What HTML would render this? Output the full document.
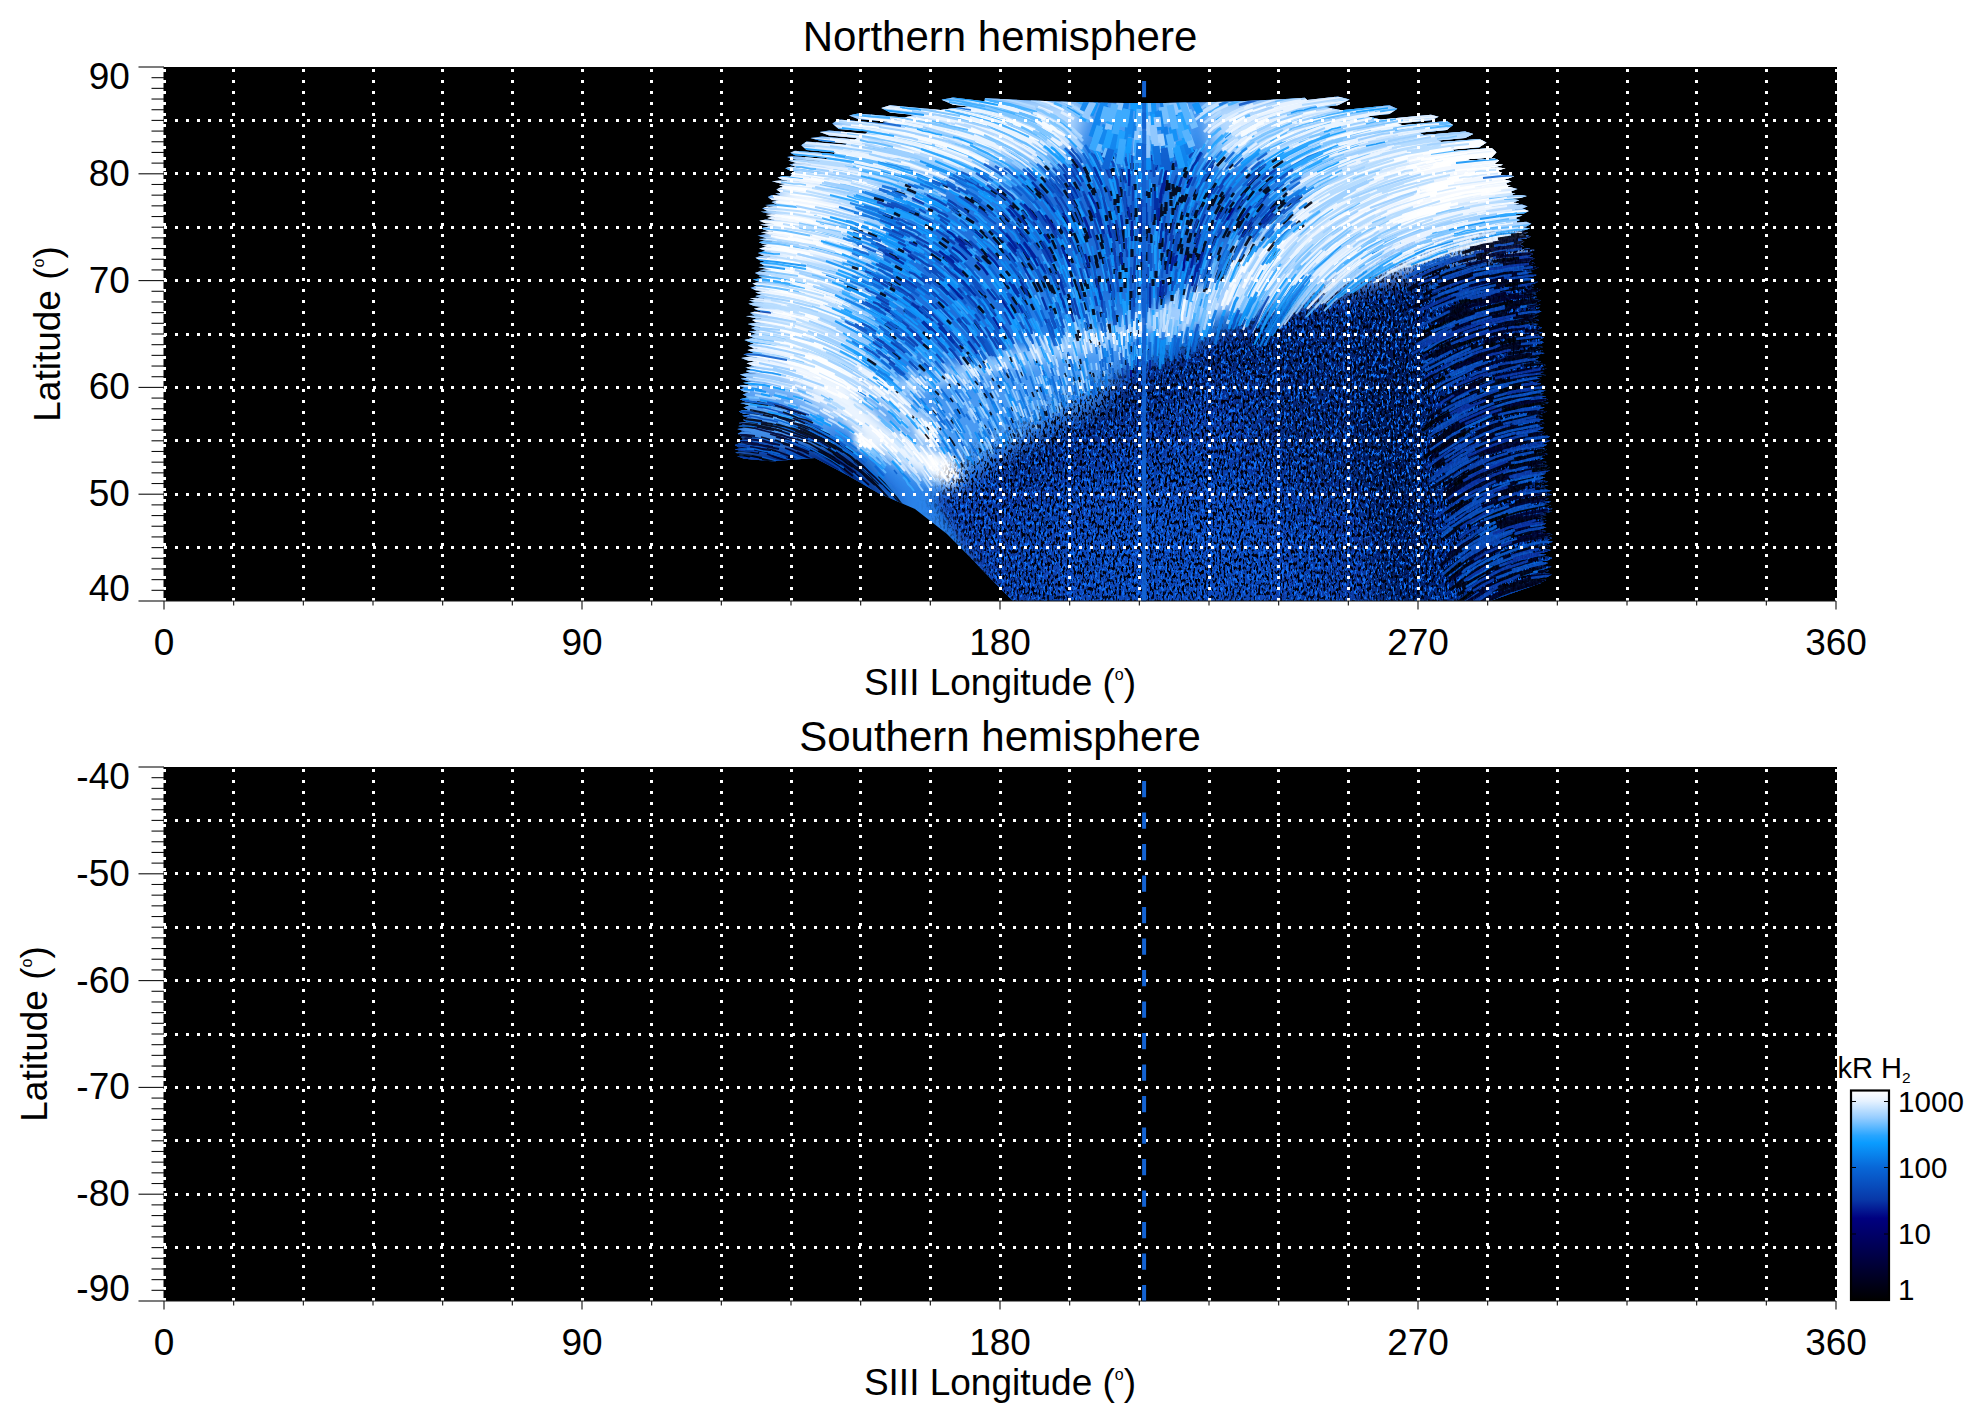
<!DOCTYPE html>
<html lang="en"><head><meta charset="utf-8"><title>Northern and Southern hemisphere</title>
<style>html,body{margin:0;padding:0;background:#fff}body{width:1983px;height:1423px;overflow:hidden}svg{display:block}</style>
</head><body>
<svg width="1983" height="1423" viewBox="0 0 1983 1423">
<defs>
<linearGradient id="cb" x1="0" y1="0" x2="0" y2="1"><stop offset="0" stop-color="#ffffff"/><stop offset="0.05" stop-color="#e6f2ff"/><stop offset="0.13" stop-color="#96cdff"/><stop offset="0.215" stop-color="#28a5ff"/><stop offset="0.25" stop-color="#0a9cff"/><stop offset="0.365" stop-color="#0868d8"/><stop offset="0.52" stop-color="#0838a8"/><stop offset="0.61" stop-color="#000080"/><stop offset="0.76" stop-color="#000050"/><stop offset="0.95" stop-color="#000010"/><stop offset="1" stop-color="#000000"/></linearGradient>
<clipPath id="ac"><polygon points="985.0,98.0 1005.0,99.2 1025.0,100.2 1045.0,101.1 1065.0,101.8 1085.0,102.3 1105.0,102.7 1125.0,102.9 1145.0,103.0 1165.0,102.9 1185.0,102.6 1205.0,102.2 1225.0,101.7 1245.0,100.9 1265.0,100.0 1285.0,99.0 1305.0,97.8 1311.0,104.0 1348.0,111.7 1400.0,124.2 1425.0,135.5 1445.4,143.5 1461.3,157.1 1498.7,170.8 1512.3,193.5 1516.8,220.7 1523.6,261.5 1527.0,307.0 1530.0,340.0 1534.0,400.0 1537.0,466.0 1538.5,557.0 1537.5,580.0 1541.0,583.0 1490.0,601.0 1013.0,601.0 992.0,580.0 970.0,557.0 947.0,534.0 915.0,509.0 879.0,493.5 847.0,475.0 815.0,458.0 775.0,461.0 741.5,453.0 750.5,453.0 751.0,432.0 754.0,398.0 758.0,341.0 763.0,307.0 770.0,261.0 774.0,221.0 781.0,189.0 795.0,170.0 829.0,158.0 847.0,143.5 865.0,134.0 879.0,124.0 922.0,113.0 951.0,108.5 984.0,105.0"/><path d="M1055.3,109.7L953.0,97.4L941.6,99.7L953.0,104.7L1055.3,117.0ZM995.3,115.4L890.0,105.2L881.3,108.0L890.0,112.5L995.3,122.7ZM962.9,122.8L858.0,113.4L849.0,115.4L858.0,119.0L962.9,128.4ZM948.8,129.3L838.8,119.5L832.3,123.6L838.8,128.9L948.8,138.8ZM931.8,139.7L829.2,130.5L819.7,132.1L829.2,135.5L931.8,144.7ZM921.5,145.2L822.1,136.6L810.4,138.0L822.1,141.3L921.5,149.9ZM914.6,150.7L806.5,141.4L801.3,145.3L806.5,150.0L914.6,159.3ZM904.2,159.9L794.9,150.8L790.4,152.7L794.9,155.3L904.2,164.4ZM825.9,159.1L791.3,156.1L787.1,157.0L791.3,158.7L825.9,161.6ZM824.7,161.9L796.4,159.5L788.2,160.5L796.4,162.9L824.7,165.3ZM823.2,165.6L795.7,163.2L789.2,164.4L795.7,166.8L823.2,169.2ZM821.5,169.4L790.6,166.7L785.2,168.2L790.6,170.7L821.5,173.4ZM819.5,173.7L798.6,171.8L790.4,173.6L798.6,176.8L819.5,178.7ZM815.6,178.9L782.8,176.0L777.6,177.6L782.8,180.1L815.6,183.0ZM812.4,183.2L779.7,180.4L771.9,181.2L779.7,183.3L812.4,186.1ZM810.1,186.3L784.9,184.1L779.0,185.2L784.9,187.3L810.1,189.5ZM807.6,189.7L780.4,187.4L776.4,189.5L780.4,192.3L807.6,194.5ZM805.3,194.8L781.4,192.8L775.1,193.6L781.4,195.4L805.3,197.4ZM804.7,197.7L772.0,195.0L767.7,197.1L772.0,199.9L804.7,202.6ZM803.6,202.9L776.8,200.7L771.5,202.1L776.8,204.5L803.6,206.8ZM802.7,207.1L773.7,204.6L764.9,205.0L773.7,206.9L802.7,209.3ZM802.1,209.6L767.3,206.6L762.1,208.3L767.3,210.9L802.1,213.9ZM801.1,214.1L768.5,211.3L760.5,211.8L768.5,213.6L801.1,216.4ZM800.6,216.7L771.8,214.2L765.6,215.0L771.8,216.8L800.6,219.2ZM800.0,219.5L771.9,217.1L767.2,218.0L771.9,219.6L800.0,222.1ZM799.4,222.3L765.4,219.4L759.3,220.8L765.4,223.3L799.4,226.2ZM798.7,226.5L769.1,223.9L760.2,224.5L769.1,226.6L798.7,229.2ZM798.5,229.5L768.8,226.8L760.3,228.3L768.8,231.2L798.5,233.9ZM798.0,234.2L769.2,231.6L760.9,232.2L769.2,234.2L798.0,236.8ZM797.7,237.1L766.4,234.2L757.5,235.4L766.4,238.2L797.7,241.0ZM797.3,241.3L766.5,238.5L758.6,239.1L766.5,241.1L797.3,243.9ZM797.0,244.2L763.1,241.1L758.8,242.2L763.1,244.1L797.0,247.2ZM796.7,247.5L767.2,244.7L761.9,245.4L767.2,247.0L796.7,249.7ZM796.4,250.0L765.3,247.1L759.1,248.4L765.3,250.9L796.4,253.8ZM796.0,254.1L764.8,251.1L757.9,252.9L764.8,256.0L796.0,259.0ZM795.5,259.3L760.2,255.9L755.4,257.7L760.2,260.5L795.5,263.9ZM795.0,264.2L764.8,261.2L759.5,263.1L764.8,265.9L795.0,268.9ZM794.3,269.2L766.8,266.5L758.1,266.9L766.8,269.0L794.3,271.7ZM793.8,272.0L767.8,269.4L759.4,269.9L767.8,272.0L793.8,274.6ZM793.4,274.8L759.4,271.5L754.9,272.9L759.4,275.3L793.4,278.6ZM792.8,278.9L763.7,276.0L758.5,276.6L763.7,278.1L792.8,281.0ZM792.4,281.3L760.9,278.2L752.8,279.4L760.9,282.3L792.4,285.4ZM791.8,285.6L757.2,282.2L752.4,283.6L757.2,286.0L791.8,289.4ZM791.1,289.7L755.6,286.2L750.4,287.7L755.6,290.3L791.1,293.8ZM790.5,294.1L762.3,291.3L755.3,292.4L762.3,295.0L790.5,297.7ZM789.9,298.0L760.2,295.1L755.2,296.0L760.2,297.9L789.9,300.8ZM789.4,301.1L756.1,297.8L749.9,298.2L756.1,299.9L789.4,303.1ZM789.1,303.4L754.8,300.0L748.9,300.5L754.8,302.2L789.1,305.5ZM788.7,305.8L754.1,302.4L748.3,303.7L754.1,306.1L788.7,309.5ZM788.1,309.7L761.2,307.1L753.9,308.8L761.2,311.8L788.1,314.4ZM787.4,314.6L754.7,311.5L750.0,313.1L754.7,315.6L787.4,318.7ZM786.7,318.9L754.3,315.8L745.8,316.1L754.3,317.9L786.7,321.1ZM786.4,321.3L756.2,318.4L752.1,320.1L756.2,322.5L786.4,325.4ZM785.7,325.6L755.3,322.7L747.7,324.0L755.3,326.6L785.7,329.5ZM785.1,329.8L755.5,327.0L751.1,328.0L755.5,329.9L785.1,332.7ZM784.7,332.9L757.0,330.4L748.5,331.4L757.0,334.0L784.7,336.6ZM784.1,336.8L755.6,334.2L747.7,335.5L755.6,338.4L784.1,341.0ZM783.4,341.2L751.8,338.3L744.4,340.0L751.8,343.1L783.4,346.0ZM782.9,346.2L753.9,343.6L747.8,345.4L753.9,348.3L782.9,350.9ZM782.5,351.2L754.2,348.6L747.4,350.1L754.2,353.0L782.5,355.5ZM782.2,355.8L750.3,352.9L743.4,354.2L750.3,356.7L782.2,359.7ZM781.9,359.9L748.4,356.8L741.2,358.1L748.4,360.7L781.9,363.8ZM781.6,364.0L754.2,361.5L746.6,363.3L754.2,366.5L781.6,369.0ZM781.2,369.2L752.0,366.5L745.1,367.5L752.0,369.7L781.2,372.4ZM781.0,372.7L750.1,369.8L745.7,371.1L750.1,373.1L781.0,376.0ZM780.7,376.2L746.9,373.1L739.9,374.6L746.9,377.4L780.7,380.5ZM780.4,380.7L748.1,377.8L740.6,378.8L748.1,381.2L780.4,384.2ZM780.2,384.4L751.7,381.8L743.1,382.7L751.7,385.3L780.2,387.9ZM779.9,388.2L744.4,384.9L738.9,385.8L744.4,387.7L779.9,390.9ZM779.7,391.2L744.6,387.9L739.7,389.5L744.6,392.0L779.7,395.2ZM779.4,395.4L748.9,392.6L742.6,394.4L748.9,397.4L779.4,400.2ZM779.0,400.4L747.2,397.5L739.9,399.2L747.2,402.2L779.0,405.1ZM778.6,405.3L748.2,402.5L740.2,403.1L748.2,405.1L778.6,407.9ZM778.4,408.1L749.3,405.5L743.4,407.4L749.3,410.3L778.4,412.9ZM777.9,413.1L743.4,410.0L738.7,411.5L743.4,413.8L777.9,416.9ZM777.6,417.1L750.5,414.7L742.2,415.7L750.5,418.2L777.6,420.6ZM777.3,420.8L748.2,418.2L742.8,419.8L748.2,422.4L777.3,424.9ZM776.9,425.2L743.9,422.3L738.6,423.1L743.9,424.8L776.9,427.7ZM776.6,427.9L745.2,425.2L738.1,425.9L745.2,427.8L776.6,430.5ZM776.4,430.8L745.3,428.1L737.1,429.1L745.3,431.6L776.4,434.2ZM776.0,434.5L742.1,431.6L737.7,433.7L742.1,436.5L776.0,439.4ZM775.9,439.7L745.0,437.0L740.8,437.7L745.0,439.1L775.9,441.8ZM775.8,442.0L743.9,439.3L738.4,440.9L743.9,443.4L775.8,446.2ZM775.7,446.4L739.5,443.3L734.8,445.1L739.5,447.7L775.7,450.8ZM775.6,451.1L742.8,448.2L734.7,449.2L742.8,451.6L775.6,454.4ZM775.5,454.7L739.4,451.5L735.2,452.5L739.4,454.3L775.5,457.4ZM775.5,457.7L744.3,454.9L737.2,456.2L744.3,458.8L775.5,461.6ZM1237.4,107.7L1337.9,96.6L1349.6,99.6L1337.9,105.2L1237.4,116.3ZM1281.5,116.7L1389.5,105.2L1397.3,108.8L1389.5,114.0L1281.5,125.4ZM1321.8,125.1L1431.0,114.8L1438.7,116.8L1431.0,120.3L1321.8,130.7ZM1337.1,131.4L1446.8,121.1L1453.0,125.0L1446.8,130.1L1337.1,140.3ZM1360.4,140.4L1465.1,131.4L1473.3,134.1L1465.1,138.1L1360.4,147.0ZM1374.1,147.4L1479.4,138.9L1486.5,142.5L1479.4,147.2L1374.1,155.7ZM1384.9,156.3L1491.7,148.0L1496.4,152.3L1491.7,157.4L1384.9,165.7ZM1466.3,160.8L1494.6,158.6L1499.2,160.6L1494.6,163.4L1466.3,165.6ZM1468.9,165.9L1494.5,163.8L1503.0,164.8L1494.5,167.2L1468.9,169.3ZM1470.7,169.5L1497.2,167.4L1505.6,168.3L1497.2,170.5L1470.7,172.7ZM1472.4,172.9L1495.8,171.0L1502.2,172.7L1495.8,175.4L1472.4,177.3ZM1475.1,177.5L1506.7,175.0L1514.3,176.3L1506.7,178.9L1475.1,181.5ZM1477.6,181.7L1504.0,179.6L1511.6,181.2L1504.0,184.0L1477.6,186.2ZM1480.4,186.4L1501.9,184.7L1510.8,185.3L1501.9,187.3L1480.4,189.0ZM1482.2,189.2L1509.5,187.1L1517.5,188.9L1509.5,192.0L1482.2,194.1ZM1485.3,194.3L1507.3,192.7L1515.5,193.5L1507.3,195.6L1485.3,197.3ZM1486.5,197.5L1520.7,195.0L1526.9,196.0L1520.7,198.0L1486.5,200.6ZM1487.1,200.8L1512.9,198.9L1519.3,200.2L1512.9,202.5L1487.1,204.5ZM1487.7,204.8L1515.1,202.7L1519.4,203.4L1515.1,204.8L1487.7,206.9ZM1488.1,207.1L1522.0,204.5L1527.7,206.3L1522.0,208.9L1488.1,211.5ZM1488.9,211.8L1524.0,209.1L1528.8,210.9L1524.0,213.4L1488.9,216.2ZM1489.7,216.5L1514.3,214.5L1522.5,215.6L1514.3,218.1L1489.7,220.0ZM1490.3,220.3L1513.6,218.4L1520.1,219.9L1513.6,222.5L1490.3,224.3ZM1491.0,224.6L1526.3,221.8L1531.4,223.8L1526.3,226.6L1491.0,229.5ZM1491.8,229.7L1522.5,227.3L1530.1,228.4L1522.5,230.8L1491.8,233.3ZM1492.5,233.6L1519.8,231.4L1528.0,232.6L1519.8,235.3L1492.5,237.5ZM1493.2,237.8L1525.3,235.1L1531.2,236.5L1525.3,238.8L1493.2,241.4ZM1493.8,241.7L1519.2,239.6L1524.3,241.5L1519.2,244.2L1493.8,246.2ZM1494.6,246.5L1517.5,244.6L1524.1,246.3L1517.5,249.2L1494.6,251.0ZM1495.4,251.3L1528.0,248.6L1534.7,249.9L1528.0,252.3L1495.4,255.0ZM1496.1,255.3L1529.1,252.5L1533.3,254.0L1529.1,256.1L1496.1,258.8ZM1496.7,259.0L1528.6,256.4L1534.6,258.4L1528.6,261.3L1496.7,263.9ZM1497.6,264.2L1528.6,261.6L1535.1,263.3L1528.6,266.0L1497.6,268.6ZM1497.9,268.9L1532.0,266.0L1538.7,267.5L1532.0,270.1L1497.9,272.9ZM1498.3,273.2L1524.0,271.1L1532.6,271.9L1524.0,274.3L1498.3,276.5ZM1498.5,276.7L1532.0,273.9L1536.7,274.9L1532.0,276.7L1498.5,279.5ZM1498.8,279.8L1525.8,277.5L1534.3,278.4L1525.8,280.8L1498.8,283.1ZM1499.0,283.4L1533.3,280.4L1538.3,281.7L1533.3,283.9L1499.0,286.8ZM1499.3,287.1L1529.3,284.5L1533.9,286.0L1529.3,288.3L1499.3,290.9ZM1499.6,291.2L1535.6,288.1L1540.5,289.8L1535.6,292.4L1499.6,295.6ZM1499.9,295.8L1530.9,293.1L1536.5,293.9L1530.9,295.8L1499.9,298.5ZM1500.2,298.8L1532.7,295.9L1537.2,297.0L1532.7,299.0L1500.2,301.8ZM1500.4,302.1L1534.3,299.1L1540.8,300.6L1534.3,303.3L1500.4,306.3ZM1500.7,306.6L1534.1,303.6L1540.7,304.4L1534.1,306.3L1500.7,309.3ZM1501.0,309.6L1533.7,306.6L1539.8,307.7L1533.7,309.9L1501.0,312.9ZM1501.3,313.2L1536.5,310.0L1541.5,311.3L1536.5,313.6L1501.3,316.7ZM1501.6,317.0L1531.9,314.3L1538.5,315.6L1531.9,318.2L1501.6,320.9ZM1502.0,321.1L1530.8,318.5L1539.1,320.1L1530.8,323.1L1502.0,325.7ZM1502.4,326.0L1530.5,323.4L1538.6,324.0L1530.5,326.1L1502.4,328.7ZM1502.7,328.9L1536.4,325.8L1542.0,327.7L1536.4,330.6L1502.7,333.6ZM1503.2,333.9L1534.0,331.1L1543.0,332.6L1534.0,335.8L1503.2,338.6ZM1503.6,338.9L1538.8,335.7L1544.0,337.5L1538.8,340.3L1503.6,343.5ZM1504.0,343.8L1539.2,340.6L1543.7,342.3L1539.2,344.8L1504.0,348.0ZM1504.3,348.2L1534.9,345.4L1542.9,347.0L1534.9,349.9L1504.3,352.7ZM1504.7,353.0L1535.9,350.1L1543.3,350.6L1535.9,352.5L1504.7,355.4ZM1504.8,355.6L1537.4,352.6L1544.8,353.0L1537.4,354.7L1504.8,357.7ZM1505.0,357.9L1534.7,355.2L1539.3,357.2L1534.7,359.9L1505.0,362.7ZM1505.3,362.9L1534.8,360.2L1541.3,361.4L1534.8,363.7L1505.3,366.4ZM1505.6,366.7L1541.3,363.4L1545.6,365.0L1541.3,367.5L1505.6,370.8ZM1505.9,371.0L1540.0,367.9L1546.7,368.4L1540.0,370.2L1505.9,373.3ZM1506.0,373.6L1538.7,370.6L1543.5,371.9L1538.7,374.1L1506.0,377.1ZM1506.3,377.4L1538.0,374.4L1546.2,375.0L1538.0,377.0L1506.3,379.9ZM1506.5,380.2L1536.6,377.4L1541.1,379.5L1536.6,382.4L1506.5,385.1ZM1506.8,385.4L1534.9,382.8L1541.2,383.3L1534.9,385.0L1506.8,387.6ZM1507.0,387.8L1539.8,384.8L1546.2,386.4L1539.8,389.1L1507.0,392.1ZM1507.3,392.4L1538.7,389.5L1545.7,390.6L1538.7,393.0L1507.3,395.9ZM1507.5,396.2L1535.7,393.6L1544.0,393.8L1535.7,395.6L1507.5,398.2ZM1507.7,398.5L1538.3,395.6L1546.0,396.2L1538.3,398.2L1507.7,401.0ZM1507.9,401.2L1543.1,398.0L1547.9,399.2L1543.1,401.2L1507.9,404.5ZM1508.1,404.7L1540.6,401.7L1549.0,402.7L1540.6,405.3L1508.1,408.2ZM1508.2,408.5L1536.3,405.9L1544.6,407.4L1536.3,410.3L1508.2,412.9ZM1508.5,413.2L1540.1,410.2L1547.1,411.5L1540.1,414.1L1508.5,417.1ZM1508.6,417.3L1534.8,414.9L1542.8,415.9L1534.8,418.4L1508.6,420.8ZM1508.8,421.1L1535.8,418.6L1543.6,419.2L1535.8,421.4L1508.8,423.9ZM1509.0,424.1L1538.5,421.4L1544.5,423.0L1538.5,425.7L1509.0,428.4ZM1509.2,428.7L1536.7,426.1L1544.2,427.8L1536.7,430.8L1509.2,433.4ZM1509.4,433.6L1539.3,430.9L1545.3,432.4L1539.3,435.2L1509.4,437.9ZM1509.6,438.2L1544.6,434.9L1550.3,436.5L1544.6,439.1L1509.6,442.4ZM1509.8,442.6L1545.0,439.3L1550.8,440.5L1545.0,442.7L1509.8,446.0ZM1510.0,446.3L1541.8,443.3L1547.0,444.8L1541.8,447.2L1510.0,450.2ZM1510.1,450.4L1541.2,447.5L1546.8,449.4L1541.2,452.4L1510.1,455.3ZM1510.4,455.5L1541.2,452.7L1547.8,454.0L1541.2,456.6L1510.4,459.5ZM1510.6,459.8L1537.4,457.3L1544.6,458.2L1537.4,460.4L1510.6,462.9ZM1510.7,463.2L1537.8,460.6L1546.7,461.9L1537.8,464.8L1510.7,467.3ZM1510.9,467.5L1540.3,464.8L1548.0,465.1L1540.3,466.9L1510.9,469.6ZM1511.0,469.8L1545.4,466.6L1549.7,467.6L1545.4,469.4L1511.0,472.6ZM1511.1,472.9L1545.4,469.7L1549.9,470.5L1545.4,472.2L1511.1,475.5ZM1511.1,475.7L1539.1,473.1L1545.9,473.8L1539.1,475.8L1511.1,478.5ZM1511.2,478.7L1538.6,476.2L1545.4,477.3L1538.6,479.7L1511.2,482.3ZM1511.2,482.5L1540.1,479.8L1548.1,481.5L1540.1,484.8L1511.2,487.5ZM1511.3,487.8L1540.7,485.0L1548.5,485.3L1540.7,487.2L1511.3,490.0ZM1511.3,490.3L1541.1,487.4L1545.9,488.0L1541.1,489.6L1511.3,492.4ZM1511.4,492.7L1545.1,489.4L1551.6,490.5L1545.1,492.8L1511.4,496.1ZM1511.4,496.4L1543.5,493.3L1552.2,494.3L1543.5,497.1L1511.4,500.2ZM1511.5,500.5L1542.3,497.5L1549.3,498.4L1542.3,500.7L1511.5,503.7ZM1511.6,504.0L1543.7,500.8L1551.0,501.7L1543.7,503.9L1511.6,507.1ZM1511.6,507.3L1543.5,504.2L1551.1,505.3L1543.5,507.9L1511.6,511.0ZM1511.7,511.3L1547.4,507.8L1552.6,508.7L1547.4,510.7L1511.7,514.2ZM1511.7,514.4L1544.2,511.2L1552.0,511.5L1544.2,513.4L1511.7,516.6ZM1511.8,516.8L1538.9,514.1L1546.6,515.0L1538.9,517.3L1511.8,520.0ZM1511.8,520.3L1537.2,517.7L1545.9,517.9L1537.2,519.9L1511.8,522.4ZM1511.9,522.7L1540.5,519.8L1546.7,520.3L1540.5,522.0L1511.9,524.9ZM1511.9,525.2L1540.9,522.3L1546.1,523.4L1540.9,525.7L1511.9,528.6ZM1512.0,528.9L1538.9,526.1L1546.5,527.2L1538.9,529.7L1512.0,532.4ZM1512.0,532.7L1538.1,530.1L1546.2,530.9L1538.1,533.5L1512.0,536.1ZM1512.1,536.4L1545.5,533.0L1552.6,534.2L1545.5,536.8L1512.1,540.2ZM1512.2,540.4L1547.9,536.8L1552.1,538.0L1547.9,540.2L1512.2,543.8ZM1512.2,544.1L1546.4,540.6L1552.7,541.7L1546.4,544.2L1512.2,547.6ZM1512.3,547.9L1545.3,544.5L1550.6,546.0L1545.3,548.5L1512.3,551.9ZM1512.4,552.2L1543.0,549.0L1550.9,550.1L1543.0,552.8L1512.4,555.9ZM1512.4,556.2L1537.7,553.6L1546.4,554.5L1537.7,557.2L1512.4,559.8ZM1512.5,560.0L1547.7,556.4L1552.2,558.0L1547.7,560.6L1512.5,564.2ZM1512.3,564.6L1541.0,561.5L1548.1,563.1L1541.0,566.2L1512.3,569.2ZM1512.1,569.6L1544.2,566.1L1551.6,566.8L1544.2,569.2L1512.1,572.7ZM1512.0,573.0L1542.1,569.7L1549.2,570.7L1542.1,573.3L1512.0,576.7ZM1511.8,577.0L1546.6,573.1L1551.8,574.6L1546.6,577.3L1511.8,581.2ZM1511.6,581.6L1537.9,578.6L1546.3,580.1L1537.9,583.5L1511.6,586.5Z"/></clipPath>
<clipPath id="pc"><rect x="164" y="67" width="1673" height="534"/></clipPath>
<filter id="b3" filterUnits="userSpaceOnUse" x="600" y="0" width="1100" height="720"><feGaussianBlur stdDeviation="3"/></filter>
<filter id="b6" filterUnits="userSpaceOnUse" x="600" y="0" width="1100" height="720"><feGaussianBlur stdDeviation="6"/></filter>
<filter id="b10" filterUnits="userSpaceOnUse" x="600" y="0" width="1100" height="720"><feGaussianBlur stdDeviation="10"/></filter>
<filter id="b16" filterUnits="userSpaceOnUse" x="600" y="0" width="1100" height="720"><feGaussianBlur stdDeviation="16"/></filter>
<filter id="b24" filterUnits="userSpaceOnUse" x="600" y="0" width="1100" height="720"><feGaussianBlur stdDeviation="24"/></filter>
<filter id="soft" filterUnits="userSpaceOnUse" x="700" y="60" width="900" height="560"><feGaussianBlur stdDeviation="0.7"/></filter>
<filter id="sp1" x="0" y="0" width="100%" height="100%" color-interpolation-filters="sRGB"><feTurbulence type="fractalNoise" baseFrequency="0.46 0.24" numOctaves="2" seed="3" result="n"/><feColorMatrix in="n" type="matrix" values="0 0 0 0 0  0 0 0 0 0  0 0 0 0 0.05  6.5 0 0 0 -3.2"/></filter>
<filter id="sp2" x="0" y="0" width="100%" height="100%" color-interpolation-filters="sRGB"><feTurbulence type="fractalNoise" baseFrequency="0.44 0.23" numOctaves="2" seed="11" result="n"/><feColorMatrix in="n" type="matrix" values="0 0 0 0 0.07  0 0 0 0 0.44  0 0 0 0 0.96  0 9 0 0 -4.7"/></filter>
<mask id="mlow" maskUnits="userSpaceOnUse" x="700" y="60" width="900" height="560"><polygon points="935.0,500.0 960.0,466.0 1014.0,434.0 1070.0,396.0 1152.0,364.0 1245.0,326.0 1335.0,290.0 1426.0,258.0 1500.0,237.0 1560.0,222.0 1560.0,610.0 1000.0,610.0" fill="#fff" filter="url(#b10)"/></mask>
</defs>
<rect x="0" y="0" width="1983" height="1423" fill="#fff"/>
<text x="1837.5" y="1077.8" font-family="'Liberation Sans', Arial, Helvetica, sans-serif" font-size="29" fill="#000">kR H<tspan font-size="15.5" dy="5.5">2</tspan></text>
<rect x="163.5" y="67.0" width="1673.5" height="534.0" fill="#000"/>
<rect x="163.5" y="767.0" width="1673.5" height="534.0" fill="#000"/>
<g clip-path="url(#pc)"><g clip-path="url(#ac)">
<rect x="730" y="90" width="830" height="515" fill="#2a84ea"/>
<polygon points="935.0,500.0 960.0,466.0 1014.0,434.0 1070.0,396.0 1152.0,364.0 1245.0,326.0 1335.0,290.0 1426.0,258.0 1500.0,237.0 1560.0,222.0 1560.0,610.0 1000.0,610.0" fill="#0a3aa6" filter="url(#b6)"/><polygon points="1365.0,295.0 1440.0,258.0 1560.0,225.0 1560.0,610.0 1400.0,610.0" fill="#052a8a" filter="url(#b10)"/><polygon points="1350.0,330.0 1415.0,300.0 1435.0,610.0 1375.0,610.0" fill="#021a64" opacity="0.8" filter="url(#b10)"/><ellipse cx="1170" cy="560" rx="130" ry="80" fill="#0f4cc0" opacity="0.85" filter="url(#b24)"/><polygon points="1230.0,345.0 1420.0,275.0 1450.0,420.0 1420.0,520.0 1280.0,480.0" fill="#021452" opacity="0.55" filter="url(#b24)"/><path d="M1000,470 C1080,415 1200,365 1340,320 S1480,275 1560,260" stroke="#031a66" stroke-width="46" fill="none" opacity="0.6" filter="url(#b16)"/><polygon points="730.0,420.0 790.0,425.0 850.0,455.0 900.0,510.0 730.0,510.0" fill="#04207a" filter="url(#b10)"/><polygon points="730.0,395.0 800.0,405.0 840.0,440.0 730.0,445.0" fill="#1e64d4" opacity="0.8" filter="url(#b10)"/><ellipse cx="1150" cy="230" rx="150" ry="75" fill="#1e6ad4" opacity="0.9" filter="url(#b16)"/><ellipse cx="960" cy="280" rx="75" ry="75" fill="#1c6cd8" opacity="0.8" filter="url(#b16)"/><polygon points="800.0,150.0 850.0,105.0 950.0,92.0 1090.0,98.0 1075.0,150.0 1000.0,168.0 900.0,183.0 830.0,215.0" fill="#b6daff" filter="url(#b10)"/><polygon points="1200.0,98.0 1350.0,90.0 1440.0,110.0 1500.0,140.0 1400.0,150.0 1300.0,155.0 1215.0,160.0" fill="#b6daff" filter="url(#b10)"/><polygon points="1090.0,100.0 1200.0,100.0 1190.0,150.0 1100.0,150.0" fill="#4c9cf4" filter="url(#b6)"/><polygon points="800.0,150.0 872.0,170.0 864.0,230.0 855.0,300.0 862.0,360.0 890.0,410.0 800.0,425.0 742.0,405.0 748.0,340.0 760.0,250.0 775.0,185.0" fill="#bcdcff" filter="url(#b10)"/><path d="M805,190 C790,260 790,330 815,380" stroke="#eef6ff" stroke-width="40" fill="none" stroke-linecap="round" filter="url(#b10)"/><polygon points="730.0,378.0 790.0,384.0 822.0,410.0 846.0,446.0 730.0,450.0" fill="#4c9af2" opacity="0.85" filter="url(#b10)"/><polygon points="850.0,380.0 950.0,392.0 1060.0,345.0 1135.0,328.0 1105.0,400.0 1010.0,450.0 950.0,492.0 900.0,470.0" fill="#4a9af2" filter="url(#b10)"/><polygon points="1290.0,160.0 1400.0,120.0 1520.0,140.0 1548.0,250.0 1450.0,264.0 1350.0,287.0 1290.0,302.0 1230.0,300.0 1290.0,240.0 1300.0,200.0" fill="#b4d8ff" filter="url(#b10)"/><ellipse cx="1425" cy="186" rx="108" ry="42" transform="rotate(-15 1425 186)" fill="#eef6ff" filter="url(#b10)"/><ellipse cx="1435" cy="180" rx="82" ry="25" transform="rotate(-15 1435 180)" fill="#ffffff" filter="url(#b6)"/><path d="M1400,190 C1340,215 1290,243 1240,272" stroke="#9ccdff" stroke-width="38" fill="none" stroke-linecap="round" filter="url(#b10)"/><path d="M1240,272 C1205,296 1175,312 1143,325 S1060,348 1025,357 S930,382 880,391" stroke="#a2d0ff" stroke-width="15" fill="none" stroke-linecap="round" filter="url(#b6)"/><path d="M1400,195 C1340,215 1290,241 1235,272" stroke="#e8f2ff" stroke-width="20" fill="none" stroke-linecap="round" filter="url(#b10)"/><path d="M1235,272 C1200,296 1170,312 1143,324 S1065,346 1030,355" stroke="#9ccdff" stroke-width="8" fill="none" stroke-linecap="round" filter="url(#b6)"/><path d="M1500,225 C1440,240 1350,258 1290,275 S1220,300 1180,320" stroke="#a8d2ff" stroke-width="24" fill="none" stroke-linecap="round" filter="url(#b6)"/><path d="M822,368 C840,400 868,432 903,451 S940,466 950,473" stroke="#ecf5ff" stroke-width="27" fill="none" stroke-linecap="round" filter="url(#b6)"/><path d="M866,374 C880,392 905,412 932,433" stroke="#e0efff" stroke-width="14" fill="none" stroke-linecap="round" filter="url(#b6)"/><ellipse cx="942" cy="468" rx="16" ry="8" transform="rotate(35 942 468)" fill="#fff" filter="url(#b3)"/><ellipse cx="926" cy="433" rx="12" ry="7" transform="rotate(35 926 433)" fill="#fff" filter="url(#b3)"/><ellipse cx="866" cy="444" rx="14" ry="7" transform="rotate(30 866 444)" fill="#fff" filter="url(#b3)"/>
<g mask="url(#mlow)"><rect x="900" y="230" width="660" height="375" filter="url(#sp2)"/><rect x="900" y="230" width="660" height="375" filter="url(#sp1)"/></g>
<g fill="none" stroke-linejoin="round" opacity="0.88" filter="url(#soft)"><path d="M1048,133l4,3l3,3l4,3l3,3M1038,107l15,6M1053,133l5,4l4,4l5,4l5,5M1038,100l7,2l6,2l7,3l6,3M1041,134l4,3l4,3l4,3l4,3M1042,127l13,8M1026,144l5,3l5,4l4,3l5,4M1029,138l5,3l4,3l5,4l5,3M1023,143l5,3l5,4l5,3l5,4M1047,136l13,10M1049,119l5,3l5,3l4,3l5,4M1235,136l12,-8M1195,310l1,-4l1,-5l1,-4l1,-5M1114,326l1,5l1,4l0,5l1,5M1228,300l2,-5l2,-6l2,-5l3,-5M1193,319l1,-5l1,-4l1,-4l1,-4M1207,110l6,-3l5,-3l6,-3l5,-2M1229,153l5,-4l5,-4l5,-4l5,-3M1208,325l2,-6l1,-6l2,-6l2,-6M1234,157l4,-3l4,-4l4,-3l4,-3M1223,286l3,-6l2,-6l2,-6l3,-5M1222,138l6,-4l5,-4l6,-4l6,-4M1222,288l1,-4l2,-4l2,-4l1,-4M1125,320l0,7l1,6l0,7l1,7M1164,332l1,-6l0,-5l1,-6l0,-5" stroke="#f2f8ff" stroke-width="2.8"/><path d="M778,199l25,3l25,5l25,6M1003,140l8,4l8,5l8,5l8,5M826,232l9,2l10,3l9,3l9,3M844,178l25,6l26,8l25,9M801,360l8,3l8,3l7,3l8,3M858,129l13,2l14,3l14,2M981,151l7,4l7,4l7,3l7,5M754,185l29,2l28,4l29,5M921,470l3,4l2,4l3,4l3,4M772,282l7,1l8,2l7,1l8,2M733,290l18,1l17,2l18,3M896,131l14,3l14,3l14,3M772,397l9,2M818,347l25,12l24,14l22,16M762,264l16,2l16,3l16,4M897,458l3,4l4,4l3,4l4,5M845,395l10,6M899,461l3,4l4,4l3,4l3,4M720,358l19,1l18,2l19,3M781,318l16,4l15,4l15,5M863,104l18,1l18,2l18,3M898,441l3,3l3,3l3,4l2,3M793,317l14,4l14,4l13,5M833,300l14,6l14,7l14,7M817,147l28,5l29,5l29,6M908,465l3,4l4,4l3,3l3,5M786,217l21,4l20,4l20,5M770,150l26,2l25,3l26,4M868,395l4,3l3,2l3,3l4,3M824,279l22,9l22,9l21,12M778,262l17,3l16,4l17,4M826,305l21,9l20,10l20,12M882,404l10,9M837,205l17,5l17,5l17,6M768,187l26,2l25,4l25,5M861,364l11,8l11,8l11,8M889,436l3,3l3,3l3,3l3,3M833,336l15,7l14,8l14,8M925,467l6,8M823,218l19,5l19,6l19,6M870,134l24,5l23,5l24,7M785,205l16,2l15,3l16,3M761,295l9,1l10,2l9,1l9,2M992,140l8,4l8,4l8,5l8,5M763,218l24,3l23,4l23,5M891,435l4,4l3,3l3,3l3,4M747,199l20,1l20,2l20,3M900,443l3,3l3,4l3,4l3,3M877,427l12,11M842,350l8,5l8,4l8,5l8,5M797,175l9,1l9,2l9,1l9,1M761,352l19,3l18,5l17,6M817,297l20,8l20,8l19,11M828,323l24,11l22,13l21,14M765,295l24,5l23,6l24,7M715,316l26,0l26,3l25,4M769,320l25,5l24,8l23,9M915,434l8,11M839,136l14,2l14,2l14,3M774,218l29,5l29,6l28,8M828,419l4,2l4,2l4,3l4,2M821,335l23,11l21,12l21,14M758,202l27,3l27,4l27,5M823,145l22,3l22,3l22,5M850,431l8,5M735,299l25,2l26,4l25,6M883,111l22,3l23,4l23,5M758,299l17,2l17,4l16,4M879,410l7,6M763,217l23,3l24,3l23,5M756,288l30,5l29,8l28,9M781,287l17,4l16,4l17,5M786,259l15,3l15,3l15,5M765,250l19,3l19,4l19,4M753,333l28,5l27,7l26,10M836,247l17,6l17,7l17,7M810,296l24,8l23,11l22,12M788,153l15,1l15,2l14,1M752,262l27,3l28,6l26,7M864,167l28,8l27,9l27,12M881,456l6,6M914,455l5,7M912,450l3,4l4,5l3,4l3,4M785,253l17,4l16,4l17,4M779,309l13,3l14,3l13,5M794,340l14,4l14,5l13,6M726,337l24,1l23,3l23,5M768,310l8,2l9,1l8,2l9,2M831,204l15,3l15,4l15,5M871,414l4,3l3,3l4,3l3,3M859,398l7,5M766,178l8,1l8,1l9,0l8,1M788,205l9,1l9,2l9,1l9,2M838,168l27,6l26,7l25,8M944,150l14,5l13,6l13,6M774,243l18,3l18,3l17,4M771,225l27,4l27,5l26,8M836,353l12,7l12,6l11,8M857,174l16,4l16,5l16,5M742,362l8,1l7,1l8,1l7,1M778,264l13,2l13,3l14,3M994,136l24,13l22,16l19,19M772,182l25,3l24,3l24,5M937,99l15,2l14,3l14,2M793,366l7,2l8,3l7,3l7,3M911,147l25,8l25,9l24,12M793,396l13,5M887,154l18,4l18,6l18,6M787,329l13,4l13,4l13,5M970,139l21,10l21,11l19,14M749,271l21,2l20,4l21,4M793,161l15,1l15,2l15,2M838,255l13,4l12,5l13,6M781,313l9,3l10,2l10,3l9,3M805,368l16,6l15,8l15,8M842,169l27,6l25,7l26,8M822,279l23,9l22,10l22,12M765,306l28,6l28,9l27,10M936,146l21,8l21,9l21,11M779,208l18,2l17,3l17,4M1275,177l19,-12l20,-10l21,-9M1363,125l26,-4l26,-4l26,-3M1448,207l22,-4l23,-4l23,-3M1320,145l22,-7l22,-5l21,-5M1376,173l16,-5l16,-4l16,-4M1291,122l24,-7l24,-5l25,-4M1267,177l13,-9l14,-8l14,-8M1328,296l10,-9l11,-9l10,-9M1333,185l19,-8l20,-8l20,-6M1287,148l8,-4l9,-3l8,-4l9,-3M1274,280l12,-15l12,-14l13,-13M1261,304l4,-7l5,-7l4,-7l4,-7M1285,309l8,-11l8,-11l9,-10M1249,305l3,-7l4,-7l4,-7l4,-6M1269,210l22,-19l24,-15l26,-13M1287,206l8,-6l8,-6l8,-5l8,-5M1274,163l27,-13l28,-11l28,-9M1291,302l13,-18l16,-16l16,-15M1315,291l10,-11l12,-10l12,-10M1373,283l17,-10l18,-10l18,-8M1428,152l8,-1l8,-1l9,-2l8,-1M1486,189l9,-1l9,-1l9,-1l9,-1M1453,251l26,-6l26,-5l27,-3M1376,236l23,-10l24,-9l24,-8M1397,169l14,-4l15,-3l14,-3M1298,147l14,-6l14,-5l15,-4M1286,312l8,-12l9,-11l9,-11M1327,304l22,-19l24,-18l25,-15M1256,186l19,-16l22,-13l22,-11M1233,133l19,-10l19,-8l21,-6M1376,276l23,-13l23,-10l25,-9M1468,193l13,-3l14,-1l14,-2M1399,258l9,-4l9,-4l9,-4l9,-3M1270,316l13,-21l16,-21l17,-19M1289,315l18,-23l20,-22l22,-19M1396,177l15,-4l14,-3l14,-3M1455,249l23,-5l23,-5l24,-3M1449,243l28,-7l28,-5l29,-3M1281,197l15,-11l17,-10l17,-9M1385,173l19,-5l19,-5l20,-3M1269,194l24,-17l26,-15l28,-11M1307,125l26,-6l25,-5l25,-4M1392,272l25,-11l25,-10l26,-8M1399,121l24,-3l24,-2l23,-2M1368,140l9,-2l10,-2l9,-2l10,-2M1391,208l22,-7l22,-6l23,-6M1300,109l18,-4l17,-3l18,-2M1307,166l16,-7l16,-6l16,-6M1379,235l9,-4l8,-4l9,-4l8,-3M1293,284l17,-19l20,-17l20,-16M1325,152l10,-3l9,-3l9,-3l9,-3M1278,318l15,-23l18,-21l19,-19M1480,179l19,-2l19,-2l19,-1M1288,179l12,-7l11,-6l13,-6M1278,170l25,-13l26,-11l27,-9M1383,225l8,-3l8,-4l9,-3l8,-3M1476,167l16,-1l15,-2l16,-1M1313,267l6,-5l5,-5l6,-5l6,-5M1321,304l21,-19l23,-18l24,-16M1251,169l23,-16l25,-12l26,-10M1440,145l23,-3l24,-2l24,-2M1389,135l19,-3l19,-3l20,-2M1475,223l16,-3l16,-2l16,-2M1259,144l27,-12l28,-10l29,-7M1305,277l18,-18l19,-15l20,-14M1435,211l24,-6l24,-4l25,-3M1409,267l7,-4l7,-2l7,-3l7,-3M1382,268l22,-11l23,-10l24,-8M1302,174l12,-6l13,-6l12,-5M1309,263l6,-5l7,-6l6,-5l6,-5M1430,211l26,-6l26,-5l27,-4M1343,220l8,-4l8,-4l8,-5l9,-4M1423,219l18,-5l19,-4l19,-4M1267,111l22,-6l23,-4l23,-4M1330,264l8,-6l8,-5l7,-6l8,-5M1434,147l10,-1l9,-1l10,-2l10,-1M1384,222l19,-7l20,-7l20,-6M1305,105l18,-3l17,-2l18,-3M1370,140l8,-1l9,-2l8,-2l9,-2M1315,288l16,-15l16,-14l17,-12M1325,273l6,-6l6,-5l7,-5l6,-5M1264,308l7,-12l7,-11l8,-11M1308,169l15,-7l14,-6l15,-6M1456,202l25,-4l25,-4l25,-2M1246,317l8,-16l8,-16l9,-15M1277,310l11,-17l12,-16l14,-15M1252,138l27,-12l29,-9l29,-7M852,343l4,2l4,2l4,2l3,2M1218,158l8,-8M1286,220l5,-4l5,-5l5,-4l5,-4M840,320l4,2l4,2l5,2l4,3M956,356l4,6l4,5l4,5l4,6M853,298l14,7M874,376l5,3l4,3l4,4l5,3M1078,329l3,10M1278,233l3,-3l3,-4l4,-3l3,-3M1290,174l6,-3l6,-3l5,-3l6,-4M852,342l6,3l6,4l6,3l5,4M1237,265l6,-12M900,177l7,2l7,3l6,2l7,2M855,358l4,2l4,3l3,2l4,3M1303,207l4,-3l4,-3l5,-3l4,-3M1293,217l4,-3l4,-4l5,-3l4,-3M1039,334l1,4l2,4l2,4l1,4M964,360l9,12M1247,170l4,-3l4,-4l5,-3l4,-4M856,272l14,6M932,364l4,5l4,5l4,4l4,5M1285,225l8,-8M1014,342l3,5l2,6l3,6l3,6M1276,243l4,-5l5,-4l4,-5l5,-5M852,252l6,2l5,2l6,3l5,2M1042,153l3,3l4,3l4,4l3,3M849,211l5,2l6,1l5,2l6,2M914,182l5,2l5,2l5,2l5,2M934,172l5,2l5,3l5,2l6,2M855,341l4,3l5,3l4,3l5,2M845,277l3,1l4,2l4,2l4,1M1006,351l6,12M1235,161l10,-8M970,167l13,7M846,307l4,2l5,3l5,2l5,2M884,188l15,5M857,348l13,8M881,188l6,2l6,2l6,2l6,2M1033,157l9,7M870,375l4,3l4,3l4,3l4,3M1296,226l3,-3l3,-3l3,-2l3,-3M922,177l13,6M1032,155l3,3l3,2l3,3l3,3M1044,335l1,4l2,5l2,4l1,4M848,351l5,3l6,3l5,3l5,4M1265,239l3,-4l2,-3l3,-3l3,-3M849,331l6,3l6,3l6,3l6,4M843,219l6,2l6,2l7,2l6,2M852,302l11,5M1105,313l1,5l1,6l1,5l0,6M1219,278l2,-4l1,-5l2,-4l2,-4M1033,153l4,3l4,4l4,3l4,3M1055,337l5,12M1301,227l8,-7" stroke="#cde6ff" stroke-width="2.0"/><path d="M813,319l22,9l21,10l20,12M730,226l28,1l28,3l28,5M833,215l8,2l8,2l9,3l8,2M938,465l3,4l2,4l3,5l2,4M836,399l13,8M777,322l8,2l9,2l8,2l8,2M906,459l3,3l2,4l3,3l3,4M750,184l25,2l24,2l25,4M813,251l8,2l8,2l8,3l8,2M815,235l23,7l23,7l22,9M888,130l9,2l10,2l9,2l10,2M852,426l11,8M874,114l17,2l16,3l17,3M940,152l19,7l18,8l17,10M817,134l17,2l17,2l17,2M814,251l9,2l8,3l9,2l8,3M731,267l27,2l27,4l26,5M963,128l15,5l14,5l13,6M1006,149l6,4l7,4l6,4l6,5M754,238l14,1l14,2l14,2M749,379l16,2l16,4l16,4M735,227l24,1l24,3l23,3M785,267l8,2l8,2l8,1l8,2M950,104l10,2l10,2l10,1l9,3M812,159l9,1l8,1l9,1l8,2M811,149l22,3l21,3l21,4M814,303l21,8l21,9l21,11M805,270l22,6l21,8l21,9M793,153l28,3l27,4l28,5M920,106l23,3l23,5l22,5M885,136l15,3l15,3l15,4M816,124l20,2l21,2l20,2M829,180l19,4l20,5l19,5M889,442l4,3l3,4l3,3l3,4M953,104l17,4l17,3l16,5M906,130l24,6l23,7l24,8M794,351l14,5l15,5l14,7M818,180l29,6l28,8l29,9M815,309l24,10l24,11l22,13M728,297l26,2l25,4l25,5M876,161l25,7l26,8l24,11M938,134l23,8l22,9l22,10M748,360l19,2l19,5l19,5M799,208l26,5l27,7l26,8M829,364l20,11l20,13l18,14M843,233l8,3l8,3l9,3l8,3M778,141l21,1l22,2l21,3M786,389l4,1l4,1l4,2l4,1M891,422l3,4l4,3l3,3l3,4M851,185l8,2l8,2l7,2l8,2M763,159l28,3l28,3l29,4M964,100l20,4l20,5l20,5M774,158l20,2l20,2l20,3M901,431l2,3l3,3l3,3l3,3M986,113l25,8l25,12l22,14M894,458l2,3l3,3l3,4l3,3M816,343l22,10l20,11l20,13M792,282l23,7l22,7l21,9M744,289l14,1l14,2l15,2M828,366l9,4l8,5l9,5l9,5M935,152l18,7l18,8l17,9M841,203l7,1l8,3l7,2l8,2M815,269l16,5l16,5l15,6M935,456l6,9M907,165l16,5l16,6l16,7M836,215l18,6l18,6l18,7M794,214l23,4l22,5l21,6M929,148l21,7l20,9l19,10M782,167l7,0l8,1l7,1l8,1M742,340l22,3l21,4l20,6M792,349l24,8l22,10l22,12M859,154l23,5l24,6l23,7M887,166l23,7l22,9l21,9M816,143l9,1l10,1l9,1l9,2M843,218l8,2l8,3l7,2l8,3M816,237l8,2l8,3l8,2l8,2M937,129l16,5l16,5l16,6M872,157l9,2l8,2l8,2l9,3M725,347l29,3l29,5l28,8M897,126l13,2l14,3l13,3M715,381l29,1l28,4l27,7M865,170l20,6l20,6l19,7M890,409l4,3l4,4l3,4l4,4M863,391l9,7M777,223l15,2l14,2l15,3M831,345l22,12l22,14l20,15M749,359l26,5l26,7l25,9M807,156l14,1l14,2l14,3M808,125l23,2l24,2l24,4M821,169l8,1l8,2l7,1l8,2M731,357l10,0l9,1l9,1l9,1M820,410l3,2l4,2l3,2l4,2M736,299l23,3l22,3l22,5M995,108l9,2l9,3l9,3l9,3M842,126l29,4l30,5l29,6M964,135l7,2l7,3l7,2l7,3M813,158l20,2l20,4l20,4M812,145l16,1l17,3l16,2M1002,106l8,2l8,2l8,3l9,3M856,395l5,3l4,3l4,3l5,3M824,166l8,2l9,1l8,2l9,1M858,396l8,6M845,385l11,7M743,349l21,3l21,4l21,6M734,292l23,1l22,3l22,5M834,187l23,6l22,6l23,8M805,157l25,3l23,4l24,5M727,353l22,2l22,3l22,5M788,364l20,7l19,8l19,9M831,263l16,6l15,6l15,6M1002,118l9,3l8,4l8,3l8,4M933,129l23,6l23,8l22,10M796,294l22,7l21,7l21,10M968,132l21,8l20,10l19,12M800,147l21,2l21,3l20,3M930,456l6,9M814,181l18,3l18,4l17,4M837,137l28,4l27,6l28,6M963,118l21,6l21,7l19,9M943,160l16,7l16,8l16,9M756,181l22,2l21,2l21,3M732,293l19,1l19,2l19,3M798,256l15,3l15,4l15,5M849,357l22,15l21,16l19,18M752,366l19,3l19,5l18,5M830,265l8,3l7,2l7,3l7,3M828,296l8,3l8,3l8,4l8,4M929,139l21,6l20,7l19,9M886,109l21,3l20,3l21,3M815,147l17,2l17,3l16,3M818,203l19,4l20,5l19,6M875,135l21,3l20,5l21,6M815,259l8,3l9,3l8,2l9,3M753,377l14,2l14,4l14,3M990,103l21,5l20,7l19,8M958,131l18,6l19,7l17,9M778,325l9,3l10,2l9,3l9,2M911,119l15,3l16,4l15,3M872,136l18,3l17,3l18,5M863,128l25,4l24,5l24,6M1426,138l20,-2l20,-3l19,-1M1432,208l21,-5l21,-4l21,-4M1358,204l8,-3l8,-4l8,-3l8,-3M1367,147l21,-5l22,-4l22,-4M1366,125l23,-3l22,-3l22,-3M1283,116l27,-6l26,-5l27,-4M1249,285l4,-7l3,-7l4,-7l5,-6M1401,175l19,-4l20,-4l19,-4M1268,298l9,-13l9,-12l10,-12M1326,179l12,-5l13,-6l13,-5M1323,213l8,-4l7,-5l8,-4l8,-4M1405,267l23,-9l23,-8l24,-7M1477,244l9,-1l9,-2l9,-1l9,-2M1302,116l7,-2l8,-2l7,-1l8,-2M1417,186l20,-5l19,-4l20,-3M1288,304l18,-22l19,-19l21,-18M1444,253l23,-6l23,-5l24,-4M1428,206l15,-3l15,-4l15,-3M1408,132l8,-1l7,-1l8,-1l8,-1M1361,133l9,-2l9,-2l9,-2l10,-1M1320,180l28,-11l28,-10l29,-8M1331,302l18,-16l19,-15l20,-13M1310,223l12,-8l13,-9l13,-7M1390,132l9,-1l9,-2l8,-1l9,-1M1358,259l22,-13l24,-12l24,-9M1431,196l27,-6l27,-4l28,-3M1299,121l15,-4l14,-4l15,-2M1322,119l10,-2l9,-2l10,-2l10,-1M1329,142l29,-8l28,-6l29,-5M1415,242l28,-9l28,-8l29,-5M1494,215l16,-2l16,-1l16,-1M1252,127l12,-6l12,-5l13,-4M1274,191l17,-12l19,-11l19,-10M1238,314l11,-23l12,-23l15,-22M1392,247l14,-6l15,-6l15,-6M1294,235l16,-13l17,-12l17,-11M1412,162l14,-3l14,-2l14,-2M1354,159l9,-3l8,-2l9,-3l9,-2M1317,133l16,-4l16,-4l16,-4M1388,140l18,-3l19,-3l18,-2M1351,198l26,-11l28,-9l28,-7M1243,330l9,-20l10,-20l11,-19M1298,273l6,-5l5,-6l5,-6l6,-5M1274,270l13,-16l14,-15l15,-14M1329,241l8,-5l7,-5l7,-5l7,-4M1305,301l12,-14l13,-13l13,-12M1393,172l14,-4l14,-3l14,-3M1411,248l21,-8l21,-6l21,-5M1341,145l25,-6l25,-5l25,-5M1320,271l16,-14l17,-13l18,-11M1350,189l13,-5l13,-5l13,-4M1242,162l10,-8l12,-8l12,-7M1409,163l27,-5l27,-4l27,-4M1222,149l24,-16l25,-13l27,-9M1397,219l23,-8l24,-7l23,-5M1308,308l14,-16l16,-15l16,-14M1363,264l25,-14l26,-12l27,-10M1349,281l8,-6l8,-6l8,-5l8,-6M1244,123l15,-7l17,-5l16,-5M1375,212l24,-9l24,-8l24,-6M1391,192l24,-7l24,-6l25,-5M1469,216l14,-2l14,-2l15,-2M1378,184l9,-3l9,-3l8,-2l9,-3M1449,163l29,-4l30,-2l29,-2M1231,114l23,-8l23,-7l25,-5M1439,199l26,-5l26,-4l26,-3M1377,272l18,-10l18,-8l19,-8M1266,147l25,-11l25,-9l27,-7M1347,270l21,-15l23,-12l23,-11M1390,139l8,-2l7,-1l8,-1l8,-2M1318,160l14,-6l14,-5l14,-4M1247,132l20,-9l19,-7l21,-6M1262,277l5,-8l5,-8l6,-7l6,-8M1351,282l22,-15l23,-13l24,-11M1307,231l20,-15l22,-13l23,-11M1281,270l9,-11l11,-12l10,-10M1349,136l14,-3l14,-3l15,-3M1328,181l21,-9l23,-8l22,-7M1351,196l27,-11l29,-9l29,-7M1305,285l14,-14l15,-14l16,-12M1324,203l13,-7l13,-7l14,-6M1318,159l16,-7l17,-5l17,-5M1379,136l20,-3l20,-4l21,-2M1393,262l21,-10l21,-8l21,-7M1415,262l8,-3l7,-3l7,-3l8,-2M1328,255l14,-11l14,-9l15,-9M1320,168l24,-9l24,-8l26,-7M1482,180l17,-1l16,-2l17,-1M1292,293l19,-22l21,-19l23,-18M1454,155l9,-1l10,-1l9,-1l9,-1M1327,281l11,-9l11,-9l11,-8M1297,190l7,-5l7,-4l7,-5l8,-4M1278,275l15,-19l18,-17l19,-16M1427,234l16,-4l15,-5l16,-3M1452,225l8,-2l9,-2l8,-2l9,-1M1459,169l8,-1l8,-1l8,-1l7,-1M1305,284l11,-11l12,-12l13,-10M1393,121l27,-4l26,-2l27,-2M1293,306l10,-13l11,-13l12,-12M1385,265l8,-4l8,-4l8,-4l8,-4M1266,113l14,-4l15,-4l15,-3M1428,240l26,-7l26,-6l26,-5M1497,218l9,-1l9,-1l9,0l9,-1M1392,124l19,-2l19,-3l19,-2M1325,240l21,-14l22,-12l23,-11M1343,245l12,-7l11,-7l12,-6M1259,323l10,-18l11,-18l13,-18M1342,137l8,-2l8,-2l8,-2l8,-2M1306,224l23,-15l25,-14l25,-11M1482,232l14,-2l14,-2l14,-1M1469,226l29,-5l30,-3l29,-1M1364,244l14,-7l14,-7l14,-6M1398,135l30,-4l30,-3l29,-3M1433,168l24,-4l24,-3l24,-3M1285,197l5,-3l5,-4l5,-4l5,-3M1256,271l3,-4l3,-4l3,-5l3,-4M1286,178l4,-3l3,-2l4,-2l4,-3M950,173l10,5M1299,199l10,-7M853,333l4,2l4,2l4,2l4,3M1218,285l6,-15M1298,189l4,-3l5,-3l4,-3l5,-2M1296,233l5,-4l5,-4l4,-4l5,-4M1126,311l1,6l0,6l1,7l0,6M855,231l4,2l4,1l4,2l4,1M849,340l11,6M853,298l12,6M892,185l12,3M1053,334l2,4l1,4l1,4l2,4M841,294l15,6M1232,269l3,-5l2,-5l3,-5l3,-5M1278,242l4,-5l5,-4l4,-5l4,-4M840,305l4,2l4,2l5,2l4,2M851,344l4,2l4,2l3,2l4,2M977,357l7,13M1293,230l10,-10M1093,327l2,13" stroke="#e6f2ff" stroke-width="2.0"/><path d="M842,414l13,8M998,128l9,4l9,4l9,5l8,4M817,246l17,5l16,6l17,6M842,357l17,10l16,11l16,13M838,145l21,3l21,4l21,5M857,443l13,10M870,425l3,3l4,3l4,4l3,3M760,278l20,3l20,4l19,5M751,355l10,2l9,2l9,1l9,2M951,105l29,6l28,8l27,11M767,337l15,3l14,3l14,4M886,426l3,2l3,3l3,3l2,3M755,237l27,3l27,5l27,6M737,257l25,2l25,3l24,5M975,125l13,4l13,5l12,6M920,446l3,3l2,3l3,4l2,3M756,330l25,5l24,6l24,8M746,325l24,3l23,5l23,6M862,121l29,4l28,5l29,7M859,117l27,4l28,5l27,5M909,136l27,7l27,10l26,11M753,344l17,3l17,4l17,4M941,471l6,10M757,229l21,2l21,4l21,4M891,446l6,6M793,205l25,4l25,6l24,7M891,453l8,9M917,137l23,6l23,8l22,9M777,260l8,1l7,1l8,2l7,1M894,454l7,8M838,414l9,6M961,137l8,3l8,3l8,3l8,4M776,202l8,1l9,1l8,1l9,2M802,204l15,3l16,4l16,3M781,201l26,4l26,5l25,6M769,275l22,4l22,6l22,6M796,283l20,6l19,6l18,7M880,106l29,4l30,4l29,6M756,281l24,3l23,5l23,6M850,394l3,2l4,3l3,2l4,3M804,359l26,11l24,13l23,15M783,183l20,2l20,3l20,4M905,440l8,10M797,292l14,4l15,5l14,5M792,179l8,1l8,1l8,1l8,1M795,339l15,5l15,6l14,6M734,318l30,4l29,5l28,8M790,372l20,7l20,9l19,10M780,300l27,7l27,9l26,11M819,357l7,4l7,3l8,4l7,3M951,468l6,9M800,280l20,6l20,7l20,8M990,116l26,10l24,13l22,16M781,374l19,5l18,7l18,9M885,444l8,8M793,219l23,5l23,5l22,7M855,419l8,5M762,357l19,4l19,5l19,7M809,354l16,7l16,7l15,9M795,247l9,2l10,2l9,3l10,2M830,391l12,7M767,259l29,5l27,7l27,8M815,366l19,9l18,10l17,12M787,353l14,4l13,5l14,5M746,265l15,2l14,2l15,2M939,452l2,3l3,4l2,3l2,4M859,160l20,5l21,5l20,7M801,293l27,9l26,11l24,12M812,244l17,5l18,5l17,6M850,140l22,3l21,5l21,5M994,116l9,3l8,3l9,4l9,3M860,149l21,4l20,5l20,6M809,172l27,5l26,5l26,7M900,108l26,4l25,5l26,6M880,444l3,3l4,3l3,3l3,3M764,306l28,5l28,8l26,11M874,386l11,9M782,226l14,2l14,3l14,3M843,382l13,7M769,291l14,2l14,3l13,4M774,238l22,4l21,4l21,6M971,128l22,9l21,10l20,12M830,145l15,2l15,2l15,3M792,357l9,2l9,4l9,3l8,3M752,337l19,3l19,4l19,5M747,245l21,2l21,3l21,4M771,327l24,5l22,7l23,9M866,150l19,4l18,5l19,5M874,119l20,2l20,4l20,4M858,441l8,6M744,213l26,2l26,4l25,4M781,230l24,4l24,5l24,7M908,439l4,5l3,4l3,4l4,4M788,237l23,5l22,5l23,7M879,429l3,4l4,3l3,3l4,4M874,445l9,8M777,206l7,1l8,1l8,1l7,1M814,349l7,2l7,4l7,3l7,3M733,344l20,2l20,3l19,4M799,194l20,3l19,4l20,4M779,201l19,2l18,4l19,3M767,292l13,2l13,3l14,3M896,437l10,10M752,213l23,2l22,3l22,4M929,127l16,4l15,4l14,5M753,337l14,2l13,3l14,3M873,133l24,4l24,6l24,6M955,129l25,9l25,11l23,14M881,129l19,4l19,4l19,5M811,267l13,4l13,4l13,5M789,245l20,5l20,5l19,6M936,111l9,2l9,2l9,2l8,2M936,155l8,3l8,3l8,4l8,3M805,257l19,5l17,5l18,7M963,113l24,7l24,8l23,11M751,221l20,1l20,3l20,3M743,259l19,2l19,3l20,3M789,373l20,8l20,8l19,10M782,291l24,6l24,8l23,9M922,456l3,4l3,4l2,3l3,4M913,451l10,12M947,100l26,4l25,6l25,7M810,292l9,3l8,2l8,3l8,3M841,132l19,2l18,3l19,4M900,434l7,8M918,109l28,5l27,6l27,7M752,221l29,3l29,4l28,6M947,117l16,4l16,4l16,5M833,154l15,2l15,3l15,3M778,224l27,5l27,6l26,8M781,312l20,6l20,6l20,7M855,433l9,7M791,334l10,2l9,4l10,3l9,3M780,245l17,3l17,3l17,5M835,405l5,3l4,2l4,3l4,3M792,361l25,9l25,12l23,14M756,266l9,1l10,2l9,1l10,2M931,457l6,10M786,147l23,2l23,3l23,3M906,117l23,4l24,5l23,7M779,333l15,4l14,4l13,5M890,159l19,5l19,7l19,7M764,207l16,1l15,2l15,2M925,138l15,4l14,5l15,5M798,357l27,11l25,13l24,15M955,125l16,5l16,6l16,6M809,370l17,8l17,8l15,10M759,170l26,2l26,3l26,3M923,121l16,3l15,4l16,5M760,244l17,2l16,3l17,3M805,365l9,3l8,4l8,4l9,4M772,185l16,2l17,2l17,2M791,294l14,3l13,4l14,4M925,146l25,9l25,11l23,13M780,306l13,3l13,3l12,4M803,178l21,4l20,3l21,5M773,196l27,4l26,4l25,6M759,189l22,2l21,2l22,4M992,114l26,10l25,13l23,17M785,212l18,3l18,4l18,4M857,131l15,2l15,3l15,2M940,151l18,7l18,8l17,9M754,302l13,2l14,2l13,3M926,434l9,13M768,315l9,1l8,2l9,2l8,2M811,363l24,12l23,13l23,16M767,297l8,1l7,2l7,1l8,1M754,304l22,3l21,4l22,6M771,236l27,5l27,6l27,8M806,348l13,5l13,5l13,6M766,218l14,1l14,2l13,2M797,233l23,5l23,6l22,8M732,246l27,2l27,3l27,5M928,153l14,4l14,6l13,6M772,177l15,1l15,2l15,2M789,173l9,1l8,1l9,1l9,2M755,220l28,3l27,5l28,6M916,118l8,2l8,1l8,2l7,2M771,270l25,5l25,6l24,8M780,263l26,5l25,8l25,8M783,335l21,7l21,7l20,9M925,107l15,3l15,2l15,4M928,128l8,2l8,2l8,3l8,2M817,215l18,4l18,6l18,5M774,198l21,2l20,3l20,4M972,121l16,5l16,6l16,6M798,313l25,9l24,10l24,13M795,219l17,3l16,3l16,4M792,335l16,5l16,6l15,6M766,238l14,2l13,2l14,2M845,384l5,2l4,3l5,3l5,3M784,226l21,4l21,4l21,6M924,451l3,3l2,4l3,3l2,4M791,304l24,7l23,9l23,10M822,321l7,3l7,3l7,3l7,3M785,337l22,6l21,8l20,10M770,346l28,8l28,10l26,13M780,344l18,5l17,6l16,6M883,140l25,6l24,7l24,8M758,223l23,3l23,4l24,4M818,382l4,2l4,2l5,2l4,2M830,318l8,4l8,4l8,4l8,4M807,364l8,3l7,3l7,4l7,3M781,182l20,3l19,2l20,4M820,341l12,5l13,6l12,6M782,228l18,3l19,4l18,4M923,433l4,5l3,4l3,4l3,5M828,175l27,6l27,7l27,8M755,324l21,3l20,5l20,6M775,200l19,2l19,3l18,4M855,161l15,4l16,4l15,4M946,112l26,6l26,8l25,10M746,230l24,2l25,3l24,5M976,115l22,7l21,9l21,10M773,358l13,3l13,4l13,4M851,125l22,2l21,4l21,4M752,365l20,3l20,5l19,6M777,209l28,5l29,5l28,8M878,133l20,4l20,5l20,5M777,302l20,5l20,6l20,7M774,187l25,3l25,4l25,5M733,363l25,2l25,5l24,7M857,436l4,3l3,2l3,3l4,3M791,202l17,3l18,3l17,4M765,215l18,2l18,2l18,4M795,343l19,7l18,7l17,9M771,286l17,3l17,4l17,5M747,368l25,4l24,6l23,9M863,442l12,10M748,227l24,2l24,4l24,4M925,470l6,9M743,311l16,2l16,2l16,3M871,442l3,3l4,4l3,3l4,3M794,205l23,4l23,5l22,6M812,272l19,6l19,7l18,8M762,344l23,5l24,7l22,9M790,194l8,1l8,1l8,1l8,1M811,178l15,3l15,3l15,3M867,157l9,2l10,3l9,2l10,2M799,227l17,4l18,4l17,5M999,134l8,4l9,5l8,4l8,5M780,348l24,7l24,9l23,12M985,100l24,6l25,8l23,11M790,343l15,4l14,5l14,6M859,433l4,4l4,3l4,3l4,4M872,430l4,3l4,4l4,3l4,4M813,241l9,2l10,3l9,3l10,3M841,367l19,11l18,13l17,15M753,361l23,4l23,6l22,8M754,286l19,3l20,4l19,4M871,115l26,3l25,4l24,6M747,290l26,3l25,5l25,7M901,145l22,7l23,7l21,9M773,312l15,3l15,3l14,5M760,175l30,3l29,4l29,5M1479,189l17,-2l16,-2l17,-1M1339,228l7,-5l8,-4l8,-5l8,-4M1333,221l16,-10l17,-8l17,-8M1247,135l18,-9l19,-7l19,-6M1410,229l7,-3l7,-3l8,-2l7,-2M1427,145l9,-1l9,-1l9,-1l9,-1M1286,161l25,-11l25,-9l26,-8M1406,130l26,-3l26,-3l26,-2M1362,224l20,-10l21,-8l22,-7M1333,196l28,-12l28,-10l28,-8M1379,187l19,-6l18,-5l18,-5M1308,118l15,-3l16,-3l15,-3M1301,304l19,-21l21,-19l22,-17M1372,243l17,-8l18,-8l18,-7M1356,207l19,-9l20,-7l21,-7M1348,202l25,-10l26,-9l26,-8M1431,167l22,-3l22,-3l22,-3M1319,171l7,-3l7,-3l7,-3l7,-3M1346,193l23,-10l23,-8l23,-6M1373,223l15,-6l15,-6l16,-6M1291,267l16,-16l17,-15l17,-13M1402,225l20,-7l20,-6l21,-5M1229,127l25,-11l27,-9l27,-7M1481,188l10,-1l9,-1l10,-1l9,-1M1259,150l8,-5l9,-5l9,-4l9,-4M1393,223l16,-6l16,-6l16,-5M1318,264l18,-14l20,-14l20,-12M1332,227l22,-13l22,-11l23,-9M1319,279l13,-12l14,-11l15,-10M1481,195l19,-2l19,-2l19,-1M1325,243l17,-12l19,-11l18,-10M1282,159l23,-11l24,-9l24,-7M1450,154l19,-2l19,-2l19,-2M1340,279l7,-5l6,-5l6,-5l7,-4M1333,201l14,-7l15,-7l15,-6M1352,215l15,-7l16,-7l17,-6M1401,150l28,-5l28,-3l28,-3M1355,174l17,-6l18,-5l18,-5M1267,146l15,-8l17,-7l16,-5M1386,220l21,-8l21,-7l22,-5M1288,230l15,-14l17,-12l17,-11M1453,248l28,-6l29,-5l28,-3M1369,149l16,-4l16,-3l17,-3M1241,132l12,-6l13,-6l12,-5M1398,132l27,-4l28,-3l27,-2M1457,180l14,-2l15,-2l15,-2M1372,166l20,-6l20,-5l21,-4M1432,167l18,-3l19,-3l18,-2M1385,125l9,-1l8,-2l8,-1l9,-1M1471,220l25,-3l25,-3l26,-2M1295,127l16,-5l16,-4l16,-3M1331,217l15,-8l16,-8l16,-8M1335,267l20,-14l22,-13l22,-12M1397,149l9,-2l9,-1l8,-2l9,-1M1455,225l15,-3l14,-3l14,-2M1421,189l28,-6l28,-4l29,-4M1428,254l8,-3l7,-2l7,-2l7,-2M1389,195l8,-2l8,-3l7,-2l8,-3M1490,215l16,-2l15,-2l16,-1M1365,242l27,-13l28,-11l28,-9M1412,216l15,-5l15,-4l16,-3M1429,222l9,-2l8,-3l9,-2l9,-2M1399,155l28,-6l29,-4l28,-3M1465,246l8,-2l8,-1l8,-2l8,-1M1305,272l10,-11l11,-10l11,-9M1251,287l14,-23l16,-22l19,-20M1336,183l18,-8l17,-6l18,-6M1426,138l27,-4l26,-2l27,-2M1450,214l9,-2l9,-2l9,-2l9,-1M1287,225l22,-18l23,-14l24,-13M1328,226l14,-9l15,-8l15,-8M1380,224l16,-7l16,-6l16,-5M1304,235l17,-13l19,-12l19,-11M1377,236l24,-10l25,-9l25,-8M1402,201l16,-5l15,-4l16,-4M1412,169l21,-4l21,-4l21,-3M1303,200l23,-13l23,-11l25,-10M1425,202l13,-3l14,-3l13,-3M1447,223l8,-2l8,-2l8,-2l8,-1M1422,147l28,-4l29,-3l29,-2M1417,169l8,-2l8,-2l9,-1l8,-2M1447,179l18,-3l18,-3l17,-2M1331,129l25,-6l25,-4l26,-4M1398,209l14,-5l15,-5l15,-4M1488,181l8,-1l8,-1l7,-1l8,0M1398,223l13,-5l14,-5l14,-4M1274,310l11,-16l12,-16l12,-14M1422,180l17,-4l18,-3l17,-3M1388,261l16,-8l17,-7l17,-7M1416,208l28,-7l28,-6l29,-5M1401,185l21,-6l22,-5l22,-4M1379,155l8,-2l7,-1l8,-2l7,-2M1449,178l16,-3l16,-2l16,-2M1268,303l5,-8l5,-7l5,-8l5,-7M1314,209l7,-5l7,-4l7,-4l7,-4M1452,214l13,-3l13,-2l14,-2M1363,247l13,-8l15,-7l14,-6M1440,195l20,-4l20,-3l21,-3M1319,212l7,-4l7,-4l6,-4l8,-4M1356,241l7,-4l7,-3l6,-4l7,-3M1448,159l21,-3l20,-2l20,-2M1282,148l18,-8l19,-7l20,-6M1428,185l27,-5l26,-4l27,-3M1387,198l8,-2l7,-3l7,-2l8,-3M1311,222l8,-6l8,-5l8,-5l8,-5M1423,259l22,-7l21,-6l23,-6M1404,219l18,-6l18,-5l18,-5M1407,208l18,-5l19,-5l18,-4M1327,232l11,-8l11,-7l12,-6M1434,220l19,-5l18,-4l19,-3M1408,200l23,-6l23,-5l24,-5M1344,181l7,-3l8,-3l8,-3l8,-3M1445,226l25,-6l24,-4l25,-3M1388,176l21,-5l22,-5l21,-4M1326,287l13,-11l13,-11l14,-10M1260,122l23,-8l24,-6l25,-5M1412,180l18,-4l19,-4l18,-3M1338,163l27,-9l27,-7l28,-6M1446,171l20,-3l21,-3l20,-2M1330,158l19,-6l19,-6l18,-5M1354,186l15,-6l15,-5l16,-5M1459,221l18,-4l19,-3l19,-2M1288,240l20,-18l23,-16l24,-14M1349,186l24,-9l25,-7l24,-7M1315,224l15,-11l17,-9l16,-9M1399,211l13,-4l14,-4l13,-4M1240,325l13,-27l14,-25l17,-24M1327,227l21,-13l21,-10l21,-10M1289,233l21,-17l21,-14l23,-13M1403,237l25,-9l27,-7l26,-6M1271,131l9,-4l10,-3l9,-3l9,-3M1473,244l22,-4l22,-3l22,-2M1369,197l20,-8l21,-6l21,-6M1364,215l18,-8l19,-7l19,-6M1286,251l16,-15l16,-14l18,-13M1345,274l6,-5l7,-5l6,-4l7,-5M1319,137l13,-4l13,-4l14,-3M1412,205l21,-6l21,-5l22,-4M1388,158l22,-4l21,-4l21,-4M1244,283l8,-14l8,-13l9,-13M1394,216l24,-8l25,-7l25,-5M1289,262l6,-6l6,-7l6,-6l7,-6M1246,319l10,-20l11,-20l13,-19M1430,147l17,-2l18,-2l17,-2M1367,226l18,-8l19,-8l19,-7M1361,149l27,-7l27,-5l27,-4M1396,169l13,-3l13,-3l13,-3M1428,156l22,-4l23,-2l22,-3M1416,251l23,-8l22,-7l23,-5M1303,201l15,-10l16,-8l16,-8M1326,255l14,-10l14,-9l14,-9M1333,186l8,-4l8,-3l8,-4l8,-3M1423,154l19,-3l19,-3l19,-2M1426,191l28,-5l27,-5l28,-3M1414,183l7,-2l8,-2l8,-2l8,-1M1306,107l16,-3l16,-3l16,-2M1368,193l17,-6l18,-6l17,-5M1447,160l25,-4l26,-2l25,-2M1252,275l12,-18l13,-17l14,-15M1398,258l28,-11l28,-9l28,-7M1386,224l15,-7l15,-5l16,-5M1405,216l15,-5l16,-4l15,-4M1335,251l15,-11l17,-10l17,-9M1415,173l22,-4l22,-4l22,-3M1487,240l19,-3l19,-2l19,-2M1328,251l14,-11l16,-10l15,-8M1253,111l15,-5l15,-4l16,-3M1333,230l16,-10l17,-9l17,-8M1269,287l14,-19l14,-18l17,-16M1449,190l9,-2l10,-2l9,-1l10,-2M1407,220l14,-5l15,-4l14,-4M1334,138l25,-6l24,-5l25,-4M1258,294l5,-8l5,-7l5,-8l5,-8M1353,251l17,-10l18,-9l18,-8M1257,123l14,-6l14,-4l15,-4M1356,178l13,-5l12,-4l13,-4M1264,127l17,-6l17,-6l18,-4M1368,216l26,-11l27,-8l27,-8M1409,161l14,-3l14,-2l14,-3M1340,276l16,-11l15,-11l17,-9M1425,202l19,-5l19,-4l19,-3M1299,123l23,-6l24,-5l24,-4M1297,227l22,-17l23,-14l24,-12M1450,189l28,-5l28,-3l28,-2M1351,151l7,-2l8,-2l7,-2l7,-2M1478,208l16,-3l16,-2l17,-1M1419,138l17,-3l16,-2l16,-1M1402,217l8,-2l8,-3l9,-3l8,-2M1257,276l9,-13l9,-13l11,-13M1349,139l13,-3l13,-3l13,-3M1470,202l13,-2l14,-2l14,-1M1477,190l10,-1l9,-1l9,-1l9,-1M1388,180l19,-6l19,-4l19,-4M1262,266l16,-21l19,-20l20,-17M1362,195l17,-7l18,-5l17,-6M1377,163l24,-6l25,-5l25,-4M1446,145l8,-1l8,0l7,-1l8,-1M1430,196l15,-3l15,-4l15,-2M1415,264l18,-7l18,-6l19,-6M1318,237l12,-9l12,-9l13,-7M1421,160l16,-2l15,-3l15,-2M1373,136l15,-3l15,-3l15,-2M1381,216l7,-3l7,-3l7,-2l8,-3M1450,143l8,-1l7,-1l8,-1l8,0M1251,280l8,-14l10,-13l10,-13M1458,222l24,-5l24,-3l24,-3M1464,193l19,-2l20,-3l19,-2M1414,199l16,-5l17,-4l17,-3M1460,171l16,-2l16,-2l16,-1M1353,215l22,-10l23,-9l24,-8M1416,148l19,-3l20,-2l20,-3M1355,166l14,-5l15,-4l14,-4M1260,300l4,-9l6,-8l5,-8l5,-8M1419,188l24,-6l24,-4l24,-3M1339,230l22,-12l24,-11l23,-9M1295,123l7,-2l8,-2l8,-3l7,-1M1271,126l8,-2l8,-3l7,-3l8,-2M1426,163l9,-2l10,-2l10,-1l10,-2M1389,213l14,-5l13,-5l14,-4M1482,187l9,-1l8,-1l9,-1l8,-1M1384,244l14,-7l14,-6l15,-5M1339,145l25,-7l26,-5l25,-5M1416,193l22,-6l22,-4l23,-4M1391,250l15,-7l16,-6l16,-6M1368,201l14,-5l15,-5l15,-5M1474,182l16,-2l16,-1l16,-2M1432,168l26,-4l26,-4l25,-2M1345,265l17,-12l19,-11l19,-10M1454,147l20,-2l20,-2l21,-1M1351,185l23,-8l24,-7l23,-7M1261,271l2,-4l3,-5l3,-4l4,-4M1265,256l3,-4l3,-3l2,-4l3,-3M1297,228l9,-7M865,373l5,4l5,4l5,3l5,4M1267,254l2,-4l3,-3l3,-4l3,-4M1239,272l3,-4l2,-5l2,-5l3,-4M1279,249l2,-4l3,-3l2,-3l3,-3M1266,263l8,-12M1252,256l7,-12M1274,250l6,-8M862,373l4,3l4,3l5,3l4,3M1244,261l2,-4l3,-5l3,-4l3,-5M1236,280l3,-5l3,-5l2,-6l3,-5M1230,282l1,-4l2,-4l2,-4l2,-4M1269,260l3,-4l4,-5l3,-4l4,-4M1266,249l4,-5l4,-5l4,-5l5,-4M1244,273l2,-5l3,-5l3,-5l2,-4M836,302l6,2l6,3l5,2l6,3M1229,272l6,-15M1261,258l4,-5l3,-4l3,-5l4,-4" stroke="#ffffff" stroke-width="2.0"/><path d="M1069,97l6,3l6,3l6,3l6,4M1058,120l5,3l4,4l5,3l4,4M1054,103l5,2l5,2l5,3l5,2M1044,119l4,2l4,2l3,2l4,2M1208,140l3,-4l4,-3l3,-3l3,-2M1146,345l1,-16M1180,324l1,-7l1,-7l2,-7l1,-8M1190,339l1,-6l1,-7l2,-7l1,-7M1239,138l3,-2l4,-2l4,-3l4,-2M1235,148l5,-3l4,-4l5,-3l5,-3M1234,297l2,-5l2,-4l2,-4l2,-5M1167,345l0,-4l1,-5l0,-4l0,-5M1128,337l0,5l0,5l1,5l0,6M1216,300l2,-4l1,-4l2,-5l2,-4M1151,357l1,-24M1187,317l1,-6l1,-6l1,-6l1,-6M1204,308l1,-5l1,-5l2,-5l1,-5M1214,146l3,-4l4,-3l4,-4l3,-3M1200,119l6,-4l6,-3l5,-4l6,-3M1227,105l4,-1l5,-2l4,-2l4,-1M1156,334l0,-16" stroke="#3bacff" stroke-width="2.8"/><path d="M848,294l8,4l8,4l8,4l8,4M899,468l2,4l3,3l3,3l3,4M839,443l12,8M835,435l7,4M878,472l6,6M841,317l17,8l16,10l16,10M838,442l4,3l4,2l3,3l4,3M784,422l14,5M790,417l12,4M1260,346l13,-25l15,-24l16,-22M1268,335l9,-16l10,-16l11,-15M944,263l9,8M1009,254l3,4l4,5l3,5l3,4M930,234l3,3l4,2l3,2l3,2M1175,192l1,-5l2,-5l1,-5l2,-5M1005,261l3,5l4,5l3,5l3,4M1125,184l1,11M1018,210l4,5l5,5l4,6l4,5M1079,234l2,6l2,6l2,7l2,6M1178,260l1,-6l1,-6l2,-6l1,-6M892,292l5,4l6,4l5,3l6,4M1069,235l2,4l2,5l1,5l2,4M1072,221l4,10M997,274l8,11M1096,165l3,6l2,5l2,6l2,5M1047,198l8,12M973,231l10,9M1161,182l1,-5l1,-5l1,-5l1,-6M938,246l5,4l5,3l5,4l5,4M993,251l3,4l3,4l4,4l3,4M1142,265l0,12M1137,240l0,14M1009,254l2,4l3,4l3,4l3,3M979,310l8,11M1156,268l-0,-13M1025,224l10,13M1102,191l2,5l1,5l2,5l1,5M950,305l7,7M1040,231l3,5l3,5l3,5l3,5M971,273l4,4l4,5l4,4l4,5M941,279l12,10M1076,194l7,13M1067,202l6,11M933,216l6,3l5,3l5,3l5,4M1026,230l6,9M1163,197l1,-6l2,-7l1,-6l1,-6M1193,244l2,-6l2,-6l1,-6l2,-6M1032,254l4,6l3,6l3,6l3,6M1121,246l0,4l1,4l0,4l1,4M943,246l9,7M1077,204l3,5l2,5l2,6l2,5M1083,272l1,5l1,5l1,4l2,5M1119,204l2,15M914,269l9,6M1118,268l1,6l1,6l0,6l1,7M956,258l4,4l5,3l4,4l4,4M967,273l8,8M947,249l12,9M1087,278l1,6l2,6l1,6l2,6M1185,219l3,-10M1196,258l2,-5l1,-5l2,-5l1,-5M1120,286l0,5l1,5l0,6l1,5M1034,201l4,4l3,4l2,4l3,4M910,247l10,5M920,304l12,10M917,320l10,9M1262,219l3,-3l3,-3l3,-4l3,-3M1092,246l3,14M986,254l4,5l4,5l5,5l4,5M1146,209l1,-20M932,326l8,8M959,235l5,3l5,4l4,4l5,4M940,317l3,3l3,3l4,4l3,3M1113,278l1,7l1,6l1,6l0,7M1146,299l-0,-12M1092,264l1,5l1,5l1,5l2,5M988,223l3,3l4,4l4,3l3,4M1081,187l5,10M1100,196l2,7l2,6l1,6l2,6M989,270l9,11M939,302l4,4l5,5l4,4l4,5M913,283l5,3l4,3l4,3l5,4M946,231l5,4l5,3l4,3l5,4M1208,260l2,-6l3,-6l2,-5l2,-6M1038,232l4,6l3,6l4,6l3,6M1145,245l0,-19M1040,261l6,13M1021,241l3,5l3,5l4,5l3,5M1006,298l3,5l3,4l2,5l3,4M1199,186l2,-4l2,-3l2,-4l2,-4M1182,290l1,-5l1,-4l1,-5l1,-4M1099,174l4,9M1038,216l3,3l3,4l2,4l3,4M1093,161l5,12M1181,223l3,-12M947,325l3,4l4,4l4,4l3,5M1171,295l1,-7l1,-7l0,-6l1,-7M1178,267l2,-12M1244,212l4,-5l3,-4l4,-4l4,-4M1161,240l2,-13M1018,255l3,4l3,5l3,5l3,4M1035,237l3,4l2,4l2,4l2,4M1021,226l7,9M1009,261l3,4l2,3l2,3l3,4M1154,217l0,-20M1145,294l0,-17M894,291l4,3l4,3l4,2l4,3M1113,210l1,6l1,6l1,6l1,6M942,271l4,4l5,4l4,4l5,4M1143,178l-0,11M975,314l9,12M998,286l3,3l2,3l2,4l3,3M942,228l6,3l6,5l5,4l6,4M925,246l4,3l4,3l4,3l4,3M913,246l14,8M1120,281l1,7l0,7l1,7l1,6M948,296l10,11M1045,202l3,5l3,5l3,4l3,5M1031,211l8,12M1198,276l2,-5l1,-5l1,-5l2,-5M1035,255l7,11M1203,246l4,-13M1071,270l3,7l2,6l2,7l2,6M1036,203l3,3l3,3l2,4l2,3M1137,164l-0,14M964,279l3,3l3,4l3,3l3,3M901,254l4,2l4,2l3,3l4,2M1044,195l6,8M1090,212l4,11M1011,278l3,5l2,4l3,4l3,4M1241,193l3,-4l4,-4l3,-4l4,-4M1106,256l3,14M993,325l3,4l2,4l2,4l3,4M1100,172l5,14M956,311l9,11M1014,270l3,6l4,6l3,5l3,6M1196,181l2,-4l3,-5l2,-4l3,-4M1099,204l4,14M1071,224l5,11M979,276l4,4l3,5l4,4l4,5M1135,264l0,18" stroke="#0985ee" stroke-width="2.0"/><path d="M872,114l8,1l8,1l8,1l7,1M964,108l14,4l14,3l14,4M841,142l23,4l22,4l23,5M957,113l22,6l23,7l21,9M835,156l28,5l27,7l27,8M718,283l29,1l29,4l29,5M746,346l9,1l9,2l9,1l10,2M851,188l28,9l28,10l27,12M881,420l3,3l3,3l4,3l3,3M908,436l6,7M820,223l23,6l22,8l22,8M860,140l8,2l8,1l9,2l8,2M833,259l26,11l26,12l24,14M721,350l28,2l28,4l27,7M913,146l25,8l24,9l23,11M902,109l28,5l29,5l28,8M878,465l8,8M910,145l9,3l8,2l8,3l8,2M797,390l15,5M799,151l16,1l16,2l15,2M955,98l29,5l29,7l28,10M855,105l29,3l29,3l29,5M810,126l23,2l22,3l23,3M821,153l22,3l21,4l21,4M981,115l13,4l14,5l13,5M733,227l26,1l27,3l26,5M961,132l9,3l8,3l8,3l8,4M964,102l25,5l24,7l24,9M845,165l28,6l27,8l27,9M859,158l18,4l17,4l17,5M841,318l18,9l17,10l16,11M775,409l15,5M843,276l23,10l22,12l21,14M932,121l9,2l9,3l9,2l9,2M869,106l27,3l26,4l27,4M888,451l3,3l4,4l3,3l3,4M837,243l27,11l27,12l25,14M878,416l4,3l3,3l4,3l3,3M798,419l8,3M852,279l13,6l14,7l13,8M829,270l23,9l23,11l22,12M719,240l30,1l30,3l30,5M848,262l16,7l16,7l16,9M854,163l25,6l25,8l25,8M730,340l16,1l16,2l16,2M876,159l9,2l8,3l8,2l9,2M890,409l3,3l3,3l3,3l3,2M997,141l7,4l8,4l7,5l7,4M880,459l6,7M809,348l27,12l25,14l24,16M979,103l22,5l22,7l21,8M864,170l14,3l15,4l13,4M861,130l27,5l28,6l27,7M897,125l8,1l8,2l8,1l8,2M833,170l25,5l25,6l25,8M872,448l10,10M977,149l9,4l9,5l8,4l8,5M835,307l24,12l23,13l22,16M845,201l14,4l13,4l13,4M732,369l24,2l23,4l23,6M851,347l17,10l16,12l16,13M811,288l23,8l23,9l22,12M988,100l25,6l24,9l24,11M743,405l5,0l5,1l4,1l5,0M810,228l22,6l23,7l21,8M938,131l26,8l26,10l24,13M836,228l24,8l24,9l22,11M987,126l22,9l21,11l19,14M815,336l21,9l20,10l19,12M1282,312l16,-22l17,-20l20,-18M1321,160l28,-10l29,-8l29,-6M1308,274l17,-15l17,-14l19,-13M1328,122l14,-3l13,-3l14,-2M1336,272l6,-5l7,-5l7,-5l7,-5M1449,226l24,-5l24,-4l24,-3M1454,236l13,-3l14,-3l14,-2M1438,234l23,-6l24,-5l24,-4M1294,312l17,-21l19,-20l20,-17M1489,199l22,-2l22,-2l22,-1M1380,272l26,-13l26,-11l28,-9M1381,131l28,-5l29,-3l28,-3M1306,317l16,-17l16,-17l18,-15M1287,212l17,-13l18,-12l18,-10M1325,280l6,-6l6,-5l5,-5l7,-5M1326,292l18,-16l19,-14l20,-13M1297,270l6,-6l5,-6l6,-5l6,-6M1313,301l22,-21l23,-19l25,-16M1234,167l17,-14l17,-11l19,-10M1286,143l15,-6l16,-6l16,-5M1395,131l20,-3l20,-3l20,-2M1362,281l23,-14l24,-13l25,-10M1363,273l26,-15l27,-13l28,-10M1280,325l9,-13l9,-13l10,-13M1315,307l18,-19l21,-17l22,-16M1250,142l17,-9l17,-7l18,-7M1313,133l20,-6l21,-4l20,-5M1275,102l13,-2l13,-3l13,-2M1430,234l14,-4l15,-4l14,-3M1319,128l15,-4l15,-3l15,-3M1316,172l22,-9l22,-8l22,-6M1330,142l13,-3l13,-4l14,-3M1504,199l8,0l8,-1l8,-1l7,0M1492,229l10,-1l9,-1l9,-1l9,-1M1253,318l13,-23l13,-22l16,-20M1278,134l25,-9l25,-7l25,-5M1299,143l19,-6l18,-6l19,-5M1266,176l23,-15l26,-12l26,-10M1267,150l8,-4l7,-4l7,-3l8,-4M1289,180l12,-8l12,-6l13,-7M1355,251l7,-4l7,-4l8,-4l7,-4M1335,129l27,-5l27,-5l27,-4M1262,293l4,-8l5,-7l5,-8l6,-7M1329,127l20,-5l21,-4l21,-3M1505,199l8,-1l8,-1l8,0l9,-1M1321,121l18,-4l17,-4l18,-3M1367,252l7,-4l8,-4l7,-4l8,-4M1255,155l26,-14l28,-11l28,-9M1247,326l4,-9l5,-9l4,-9l5,-8M1441,248l7,-2l8,-2l7,-2l7,-2M1266,295l11,-16l11,-16l13,-14M884,304l5,3l4,3l5,3l4,3M1101,307l1,7l1,6l1,7l1,6M1041,157l4,5l5,4l4,5l4,4M1246,176l3,-3l3,-2l4,-3l3,-3M875,234l5,2l4,2l5,2l5,3M921,219l4,2l3,2l4,2l3,2M1190,168l2,-5l3,-5l3,-5l3,-5M1130,304l-0,21M993,345l3,4l2,4l2,3l2,4M892,232l6,3l6,3l6,3l6,3M932,181l12,6M868,253l6,2l6,3l5,2l6,3M884,370l10,8M1068,322l1,4l1,4l2,4l1,4M876,240l4,2l5,2l5,2l5,3M976,170l4,2l5,3l5,3l4,3M890,217l5,2l4,2l4,2l4,2M1051,168l3,3l2,3l3,3l2,3M868,319l5,3l4,3l5,3l5,3M1111,153l2,6l1,5l2,5l1,6M1271,174l9,-6M1028,164l3,3l4,3l3,3l3,3M889,341l4,2l4,3l4,3l3,3M1276,195l4,-3l3,-3l4,-3l4,-3M877,279l11,7M883,287l5,3l5,3l5,3l5,4M1232,165l9,-9M857,297l5,3l5,2l5,3l5,2M966,198l12,8M913,364l8,8M868,357l5,4l5,3l5,4l5,4M874,347l3,2l4,3l4,2l3,3M1056,162l3,4l3,3l3,4l3,3M1039,150l5,5l5,4l5,5l4,5M874,220l6,2l6,3l6,2l6,3M1160,319l0,-6l1,-6l0,-7l1,-6M1024,166l4,3l3,3l4,3l3,4M987,184l4,2l3,2l4,3l3,3M1224,174l4,-5l5,-5l4,-4l5,-5M870,203l5,2l5,2l4,1l5,2M987,180l5,3l5,4l5,4l5,4M908,186l14,5M1022,327l6,12M1025,168l9,8M1266,230l4,-4l3,-4l4,-4l4,-4M903,228l4,1l3,2l4,2l4,2M1206,157l8,-10M917,208l6,3l6,3l7,3l6,4M928,194l6,3l6,3l6,3l6,3M861,292l12,7M916,335l4,4l5,4l4,4l4,5M944,179l13,6M1173,301l1,-13M1068,159l8,10M1238,251l3,-5l3,-5l3,-5l4,-5M1118,149l1,4l1,5l1,4l1,5M863,333l11,6M1000,326l2,4l2,3l3,4l2,4M908,371l7,7M1052,304l2,7l2,6l3,7l2,6M949,203l4,3l5,3l4,3l5,3M881,234l5,2l4,2l4,2l4,2M895,186l11,4M928,354l4,4l3,4l4,4l3,4M897,341l5,4l5,5l5,4l5,5M1035,295l5,10M975,180l9,6M913,337l8,7M1265,177l5,-4l4,-3l5,-3l5,-4M920,195l4,2l5,2l4,2l4,3M1219,170l10,-12M1018,321l3,5l2,6l3,5l2,6M1091,144l3,5l3,5l3,6l2,5M887,231l5,3l5,2l5,2l4,3M855,290l10,5M1269,198l9,-8M921,184l14,5M1208,279l2,-5l2,-5l2,-6l1,-5M1219,168l11,-11M1060,154l9,10M1159,163l1,-6l1,-5l1,-6l2,-5M897,346l8,7M937,201l5,3l5,3l5,3l6,3M976,340l3,4l3,4l3,5l3,4M1063,321l2,6l1,6l2,5l2,6M931,356l11,12M879,272l4,2l5,2l4,3l4,2M1252,164l12,-9M860,281l4,2l5,3l5,2l4,2M884,338l10,7M868,251l9,4M1066,152l5,5l4,6l3,5l4,6M911,354l3,4l4,4l4,3l4,4M1026,273l7,13M1012,322l6,12M873,267l5,2l5,3l5,2l5,3M866,351l3,2l4,3l4,3l4,2M1262,166l6,-3l5,-4l6,-4l6,-3M919,200l6,2l5,3l6,3l6,3M859,304l5,2l4,3l5,2l4,3M905,216l7,3l5,3l6,3l6,4M1155,317l-1,-25M867,293l14,8M927,220l9,5M1113,155l1,6l2,5l1,5l2,5M890,193l6,2l5,2l5,2l6,2M1089,307l2,7l1,7l1,7l2,6M883,309l4,3l5,2l4,3l4,3M1076,304l1,5l2,5l1,5l1,5M938,353l7,9M1167,163l1,-4l1,-4l1,-3l2,-4M916,348l9,9M869,356l4,3l4,2l4,3l3,3M1076,314l1,4l2,5l1,5l1,4M853,297l6,3l6,3l5,3l6,3M892,237l13,6M1281,178l12,-8M1211,279l2,-6l1,-5l2,-5l2,-6M878,356l4,3l4,3l4,3l4,3M1053,297l4,10M1015,160l3,2l4,3l3,2l3,3M993,179l10,7M1097,143l2,3l2,4l2,4l2,3M911,192l6,2l6,3l6,3l6,3M1095,311l2,11M996,174l9,7M1119,138l2,6l1,6l2,6l1,6M1065,156l3,4l3,4l3,4l3,4M999,169l4,2l3,2l3,3l4,2M1005,342l2,5l2,4l2,4l2,4M926,181l4,2l5,2l4,2l5,2M932,194l5,3l5,2l5,3l5,2M1004,334l6,11M1261,176l5,-4l4,-3l4,-3l5,-3M1086,305l1,5l1,5l1,4l2,5M861,253l14,6M899,334l5,3l4,4l5,4l4,4M942,198l4,2l3,2l4,2l4,2M871,360l10,7M986,169l4,2l3,2l4,3l4,2M1219,165l8,-9M877,298l5,3l5,3l4,3l5,3M1001,179l5,4l6,4l5,5l5,4M1080,291l2,6l1,6l2,5l1,6M974,349l3,5l3,4l3,5l2,4M953,188l5,2l5,3l4,3l5,3M1052,151l5,4l4,5l4,4l4,5M1217,179l7,-9M1051,320l5,13M961,195l4,3l4,3l4,2l4,3" stroke="#5cb8ff" stroke-width="2.0"/><path d="M1021,138l6,4l6,4l7,4l5,4M1072,110l5,3l4,3l4,3l4,3M1067,104l5,2l5,3l5,4l5,3M1039,133l5,3l5,4l5,4l5,4M1021,127l6,3l7,4l6,4l7,4M1039,141l12,10M1174,342l1,-15M1220,156l5,-5l5,-5l5,-4l6,-4M1200,326l2,-7l2,-7l2,-8l1,-7M1240,324l2,-5l3,-6l2,-5l2,-5M1185,343l1,-4l1,-5l1,-4l0,-4M1197,315l1,-5l2,-5l1,-5l1,-5M1196,322l2,-7l1,-8l2,-7l2,-7M1170,345l1,-5l1,-5l0,-5l1,-5M1211,295l2,-6l2,-6l3,-6l2,-6M1165,325l2,-15M1155,344l0,-19M1232,124l4,-3l5,-2l4,-2l5,-2M1231,323l2,-6l2,-6l3,-6l2,-6M1157,341l-0,-22M1235,156l4,-4l5,-4l5,-3l5,-4M1228,292l3,-6l2,-5l3,-6l2,-5" stroke="#5cb8ff" stroke-width="2.8"/><path d="M824,267l13,4l13,5l12,5M804,400l8,4M881,397l8,7M747,309l6,1l5,1l6,0l6,1M826,275l13,5l13,5l13,6M878,162l9,2l9,2l8,3l9,2M1275,310l5,-9l5,-7l6,-8l6,-8M1372,254l8,-4l9,-5l9,-4l9,-5M1301,198l7,-5l7,-4l7,-5l7,-4M1200,306l2,-7M1467,230l4,-1l5,-1l4,-1l5,-1M1318,168l4,-1l4,-2l3,-2l4,-1M1225,138l6,-5M1459,151l5,-1l6,-1l6,0l5,-1" stroke="#0985ee" stroke-width="1.4"/><path d="M859,400l4,3l3,2l4,3l3,2M967,147l19,10l19,10l18,13M928,97l30,4l29,6l28,7M722,273l28,2l27,3l28,5M780,388l11,3M860,313l7,4l7,4l7,4l7,4M761,167l20,2l20,1l20,3M857,306l12,6l11,7l12,7M839,292l21,9l21,12l19,12M842,264l23,9l21,11l21,12M834,233l14,4l15,5l14,6M945,110l29,7l28,8l27,12M814,287l20,7l20,8l19,10M1005,149l13,8l13,10l12,10M851,293l9,4l8,4l9,4l8,5M862,326l7,4l7,5l8,4l7,5M814,216l29,8l28,9l27,11M859,170l28,7l27,9l27,12M856,358l19,13l17,14l17,15M809,246l28,8l27,10l27,12M842,310l18,9l17,10l16,10M892,461l3,3l3,3l3,3l2,3M810,434l11,6M987,100l9,2l9,2l10,2l9,3M758,203l10,1l10,1l9,1l10,1M903,477l3,3l2,4l3,3l3,4M947,148l25,10l23,13l22,15M955,94l28,5l27,5l27,8M820,428l10,6M870,453l4,4l4,4l3,3l4,4M765,175l9,0l10,1l9,1l10,1M997,111l20,7l19,8l18,10M818,111l24,2l24,3l24,2M845,310l21,11l20,12l19,14M835,302l23,11l21,12l21,13M842,291l18,8l18,9l16,11M726,278l26,1l27,4l26,5M949,102l18,3l18,4l18,4M864,398l3,3l4,3l4,3l3,2M948,108l22,5l22,5l21,7M843,256l19,8l19,9l19,10M1349,291l14,-11l15,-10l15,-9M1307,167l8,-4l7,-3l8,-4l8,-3M1286,170l7,-4l7,-4l7,-4l7,-3M1308,160l13,-5l13,-6l14,-4M1430,128l8,-1l8,-1l9,0l8,-1M1496,233l19,-3l19,-1l20,-1M1350,293l25,-17l25,-15l27,-13M1287,166l16,-8l17,-8l16,-6M1445,236l22,-5l23,-5l23,-3M1270,153l14,-7l13,-6l15,-6M1262,301l14,-21l15,-20l17,-19M1375,112l8,-1l8,-1l8,-1l8,-1M1412,239l17,-5l16,-6l17,-4M1433,253l27,-8l28,-6l29,-5M1317,305l20,-19l22,-18l23,-15M1310,119l22,-5l22,-4l22,-3M1344,264l19,-13l20,-11l21,-10M1246,324l10,-21l12,-21l13,-19M1275,305l9,-15l11,-13l11,-14M1250,177l20,-14l21,-13l22,-10M1259,282l5,-8l6,-8l5,-8l6,-8M1283,175l26,-14l27,-11l28,-9M1359,283l14,-9l13,-8l14,-8M1453,235l16,-3l16,-3l16,-3M1276,303l9,-13l10,-13l10,-13M1287,317l10,-14l10,-14l12,-13M1431,155l26,-4l25,-3l25,-2M1288,183l15,-9l15,-9l16,-7M1257,157l12,-7l11,-6l12,-6M1265,171l17,-11l19,-10l19,-8M1340,297l16,-13l17,-13l17,-11M1281,182l25,-15l26,-12l27,-9M1248,156l6,-5l7,-4l6,-4l7,-4M1004,342l8,13M1036,321l2,4l1,4l2,4l2,4M936,199l5,3l4,2l5,3l5,3M1054,291l5,12M1184,293l0,-4l1,-4l1,-4l1,-4M1015,317l6,11M1257,234l5,-6l4,-5l4,-5l5,-5M930,326l9,10M1235,243l3,-4l2,-4l3,-5l3,-4M995,335l6,12M921,339l5,4l4,5l5,5l4,5M1106,308l2,12M1231,200l3,-5l3,-4l4,-4l3,-4M991,341l3,6l3,6l3,5l4,6M1278,191l5,-4l5,-4l5,-4l6,-4M1140,295l-1,25M910,268l11,7M987,230l5,4l4,5l5,5l5,5M1077,303l1,6l2,6l2,7l1,6M1026,320l2,4l2,5l2,5l2,4M1020,172l9,7M1267,174l4,-3l4,-3l3,-2l4,-3M1056,296l2,5l2,4l1,4l2,4M1225,250l2,-4l2,-4l2,-5l2,-4M951,190l13,7M970,200l4,2l3,2l3,3l4,2M1157,215l1,-10M884,260l6,2l5,3l5,3l5,3M912,216l5,2l5,3l4,2l5,3M866,304l5,3l5,3l5,3l6,3M1024,187l8,8M1003,271l6,8M1126,303l0,6l1,6l0,7l0,6M1158,276l1,-4l0,-4l0,-4l1,-4M942,220l3,3l4,2l3,2l3,2M961,350l4,5l3,5l4,5l3,6M1044,261l5,9M1086,278l3,12M1231,249l3,-6l3,-6l3,-6l4,-5M1171,161l1,-5l2,-5l2,-5l2,-5M1028,197l4,5l3,4l4,5l4,4M1271,226l4,-4l3,-4l4,-4l4,-4M990,178l5,3l5,4l4,3l5,4M1081,295l3,13M961,311l2,3l3,3l3,3l2,3M1102,304l1,5l1,5l0,5l1,4M970,249l8,7M908,274l4,2l4,3l4,3l4,3M952,208l4,3l4,3l5,3l4,3M1271,173l5,-4l6,-4l6,-3l6,-4M866,353l5,3l5,4l5,3l5,4M1072,281l2,6l2,6l1,5l2,6M969,327l8,11M884,360l5,3l4,4l5,4l4,4M929,338l4,5l5,5l5,5l4,5M895,246l13,7M879,280l10,6M935,356l3,3l3,3l3,3l2,4M868,342l12,7M958,344l3,5l4,5l4,5l3,5M1001,177l10,8M1113,292l1,5l0,4l1,5l1,4M973,330l3,5l4,4l3,5l3,5M1010,216l4,5l4,5l5,5l3,4M929,212l12,7M1156,160l0,-16M1248,194l4,-4l5,-5l4,-4l5,-5M1004,243l4,5l3,5l4,4l3,5M1071,164l9,13M1000,195l8,7M891,236l4,2l4,2l4,2l4,2M871,255l6,3l5,3l6,2l5,3M988,239l3,3l3,3l3,3l3,3M1047,263l3,5l3,6l2,6l3,6M916,343l9,9M1081,162l3,5l3,6l3,5l2,5M871,310l14,8M1135,277l0,11M1030,257l3,5l3,6l3,5l3,6M940,287l4,3l4,4l3,3l4,4M940,309l3,3l3,3l3,3l3,3M910,333l10,9M876,241l3,2l4,1l4,2l4,2M921,185l4,2l5,2l4,2l4,2M1177,210l1,-4l1,-4l1,-4l1,-4M985,183l3,3l4,2l3,2l3,3M1208,267l2,-5l2,-5l2,-5l2,-6M879,347l10,8M1036,168l5,4l5,5l4,5l5,5M1197,175l3,-6l3,-5l4,-6l4,-5M873,239l12,6M927,242l6,4l5,4l5,4l6,3M963,196l4,3l5,3l4,3l4,3M1203,171l3,-6l5,-6l4,-5l4,-6M898,345l5,4l4,4l5,4l4,4M1015,294l7,12M966,176l6,3l5,4l6,3l5,3M1204,269l2,-7l2,-6l2,-6l3,-6M1152,205l-1,-22M891,209l6,3l7,2l6,3l6,3M924,266l4,3l4,3l4,3l3,3M907,236l6,3l6,4l5,3l6,4M1015,289l7,12M980,186l12,8M973,236l4,4l4,4l4,4l4,3M955,250l12,11M1242,208l9,-11M911,206l4,2l4,2l4,2l4,2M1239,238l2,-4l3,-4l2,-3l2,-4M948,332l3,3l3,4l3,3l3,3M1034,165l4,4l4,4l4,3l3,4M958,225l9,6M929,333l4,4l4,4l4,4l4,4M1035,300l3,6l3,6l3,7l2,6M927,337l8,9M1004,213l8,8M950,325l4,5l3,4l4,4l3,5M1086,168l6,12M1226,252l3,-5l2,-6l3,-5l3,-6M966,268l3,3l4,4l3,4l4,4M1081,148l7,11M1238,216l6,-9M1052,305l5,15M899,347l3,3l3,2l3,3l3,3M932,328l4,3l3,4l3,3l3,3M1060,320l4,12M922,354l9,10M925,350l7,8M1201,181l4,-5l3,-6l3,-5l4,-5M923,263l6,4l5,4l6,5l5,4M1011,176l5,4l4,4l5,4l4,5M924,310l4,3l4,4l4,3l3,4M1268,206l4,-4l5,-4l5,-5l4,-3M926,235l5,3l4,3l4,2l4,3M1267,178l5,-3l4,-3l5,-4l4,-3M1277,212l10,-9M1110,273l0,5l1,5l1,5l1,5M875,243l5,2l6,3l5,2l6,3M898,233l6,3l6,3l5,3l6,3M942,341l4,4l3,5l4,4l3,4M1006,292l4,6l3,6l4,6l3,6M952,213l5,3l4,3l4,3l5,3M1079,272l2,6l2,6l1,5l2,6M1056,269l2,3l1,4l2,4l1,4M1053,158l3,3l3,4l4,4l3,3M1213,226l5,-12M1035,269l3,6l3,6l4,6l3,7M962,320l4,5l4,5l3,5l4,5M1004,343l7,12M987,318l3,6l4,5l4,6l3,5M919,236l11,7M1131,155l0,16M978,231l4,3l3,3l3,3l4,3M1008,306l7,11M1057,267l2,5l2,5l2,5l2,4M951,334l9,10M926,357l3,3l4,4l3,4l3,3M1090,297l1,4l1,4l1,5l1,4M956,301l3,3l3,3l3,3l3,4M965,293l5,5l4,5l4,5l4,6M1188,173l2,-5l3,-5l2,-5l3,-5M1055,311l5,14M1267,212l5,-5l5,-5l5,-4l5,-5M884,331l5,4l5,4l5,4l5,4M952,331l4,5l4,6l5,5l4,5M902,261l4,2l4,2l4,3l3,2M922,314l4,4l4,4l4,4l4,3M974,271l3,4l3,3l3,3l3,4M910,273l4,3l3,2l4,2l3,3M884,271l4,2l4,3l3,2l4,2M909,254l4,2l4,2l3,3l4,2M899,298l9,6M984,297l9,13M923,307l9,8M1028,275l8,13M872,266l12,6M1068,280l2,5l2,5l2,6l1,5M935,211l3,2l4,3l4,2l3,2M1268,219l3,-4l4,-3l3,-4l4,-4M892,336l5,4l5,4l5,4l4,4M1073,273l1,3l2,4l1,4l1,4M1185,173l3,-6l3,-6l3,-6l3,-6M912,241l5,3l5,3l5,3l4,3M864,257l5,2l5,2l5,2l5,3M888,231l4,2l4,2l4,2l4,2M1206,169l2,-3l3,-3l2,-4l3,-3M891,255l5,3l6,3l5,3l5,3M967,250l4,4l3,3l4,3l3,4M938,224l11,8M936,310l3,3l3,4l4,3l3,3M1035,287l3,5l2,5l2,5l3,6M1247,227l7,-10M1122,151l1,6l1,6l1,5l1,6M1042,254l2,4l2,4l2,4l2,4M1043,193l6,8M1181,178l2,-5l2,-6l3,-6l2,-5M904,345l3,2l4,3l3,3l3,3M921,205l6,3l5,3l6,3l5,3M1064,306l2,5l1,5l2,4l1,5M928,278l4,4l5,4l5,3l4,4M954,233l6,5l5,4l5,4l6,5M951,228l5,3l4,3l5,4l4,4M879,358l5,3l4,3l4,4l5,3M1084,269l2,5l1,5l1,5l2,5M952,316l4,4l4,5l4,4l4,5M1014,327l2,4l2,4l2,4l2,4M933,223l4,3l3,2l4,2l4,3M871,323l10,6M1229,173l7,-8M941,265l11,9M915,203l4,2l5,2l4,2l5,3M1128,303l0,4l0,5l1,4l0,5M882,350l5,5l6,4l5,4l6,5M908,337l4,4l4,3l4,4l4,4M931,271l9,7M909,218l12,6M980,325l4,5l3,6l4,5l3,6M863,319l5,3l5,3l5,3l4,3M1160,174l1,-6l2,-6l1,-6l1,-6M1010,190l4,4l5,5l5,4l4,5M866,249l11,4M1235,251l2,-4l3,-5l3,-5l3,-4M1257,177l5,-5l5,-4l6,-4l5,-4M1211,182l8,-12M883,271l9,5M1013,304l3,5l3,5l3,5l2,6" stroke="#3bacff" stroke-width="2.0"/><path d="M884,148l28,7l27,9l27,11M893,417l9,9M758,396l9,1M865,194l15,5l15,5l15,6M736,269l21,1l20,3l21,3M857,331l13,8l12,8l13,9M906,126l17,4l16,4l16,4M850,361l7,4l6,4l7,4l6,5M807,265l27,8l27,11l25,12M972,161l9,5l8,5l9,5l8,5M780,421l4,1l4,2l5,1l4,1M871,450l3,2l3,3l3,3l3,3M854,441l3,2l4,3l3,3l3,2M823,240l15,4l16,5l14,6M812,436l10,5M867,182l22,7l22,8l21,9M932,123l24,6l24,7l23,10M984,135l19,9l18,10l17,13M847,181l8,2l8,2l8,2l9,2M912,473l8,11M859,108l25,2l25,4l24,3M840,184l14,3l13,4l14,4M892,168l13,5l13,4l13,5M915,157l21,7l20,8l19,10M835,227l28,10l27,11l26,14M882,174l20,6l20,8l19,8M847,134l21,3l22,4l22,5M734,333l18,1l17,2l18,4M998,112l16,6l16,6l15,8M867,452l3,3l4,3l3,3l4,3M840,305l21,10l20,12l20,13M859,219l14,5l14,6l14,6M788,421l11,4M833,354l20,11l20,13l19,14M962,145l8,4l8,3l8,4l8,4M857,276l7,3l7,3l7,4l7,4M845,202l23,7l23,8l23,10M744,397l15,1M875,148l24,5l24,7l23,8M866,448l10,9M822,272l18,6l17,7l18,8M773,418l13,3M788,159l9,1l10,1l9,1l10,1M835,190l14,4l14,3l14,4M825,306l13,5l13,5l12,6M806,231l21,4l20,6l20,7M921,122l26,7l26,7l26,10M841,225l22,8l23,9l22,10M740,277l18,2l17,2l17,3M985,107l26,8l26,11l24,15M897,157l21,7l21,7l20,9M947,135l8,2l7,3l8,2l7,3M876,153l15,3l16,4l15,5M820,184l28,6l27,7l27,9M736,337l9,0l10,1l9,2l10,1M843,314l15,8l14,8l14,8M903,118l26,6l27,6l26,8M889,110l16,2l16,3l16,2M828,411l4,3l4,2l3,2l4,2M909,108l17,2l17,3l17,3M750,414l11,1M918,121l17,3l17,4l17,5M892,149l20,6l19,6l19,6M937,137l19,7l20,7l19,9M752,403l4,1l4,1l4,0l5,1M737,400l12,1M1334,143l25,-7l25,-5l25,-4M1314,152l14,-5l14,-5l14,-4M1446,232l29,-6l29,-5l30,-3M1335,285l8,-7l8,-6l8,-6l8,-6M1229,159l16,-13l17,-11l19,-9M1426,238l17,-5l17,-5l17,-4M1301,183l23,-12l23,-10l23,-8M1293,158l23,-10l23,-8l24,-7M1295,268l14,-15l15,-14l17,-12M1241,141l12,-8l12,-6l13,-6M1323,144l16,-5l16,-4l16,-4M1295,276l17,-18l20,-17l20,-15M1265,181l16,-12l17,-10l17,-8M1374,251l24,-12l25,-10l25,-8M1263,300l10,-15l10,-14l11,-14M1311,173l21,-10l21,-8l23,-7M1348,130l28,-5l28,-5l28,-3M1303,172l14,-7l15,-7l15,-5M1253,146l7,-5l7,-4l8,-3l8,-4M1302,183l15,-9l16,-7l17,-7M1348,274l12,-8l12,-8l12,-7M1447,142l19,-2l20,-2l19,-1M1327,259l19,-15l21,-13l22,-11M1401,251l18,-7l18,-7l18,-5M1433,246l8,-2l7,-3l8,-2l8,-2M1285,274l16,-18l17,-16l19,-15M1284,110l22,-5l22,-4l22,-3M1309,138l17,-5l17,-5l17,-4M1333,133l7,-2l8,-2l7,-2l8,-2M1442,230l7,-2l8,-2l8,-2l7,-1M1357,251l13,-9l14,-7l14,-7M1293,192l22,-13l23,-11l23,-10M1267,309l13,-20l14,-18l15,-18M1400,243l9,-3l8,-3l9,-4l9,-3M1259,291l5,-8l5,-7l5,-8l5,-7M1276,308l11,-15l11,-15l12,-14M1303,107l27,-5l27,-3l27,-3M1338,261l20,-14l21,-12l22,-11M1424,243l23,-7l22,-6l23,-5M1266,312l14,-23l16,-21l18,-19M1287,115l17,-4l16,-3l16,-3M1287,145l25,-10l26,-7l27,-7M1295,280l17,-18l19,-17l20,-15M1362,149l9,-3l9,-2l9,-2l10,-2M1324,311l19,-19l21,-17l23,-15M1276,151l18,-9l19,-7l18,-6M1069,324l2,6l1,6l2,6l2,6M1028,165l5,3l4,4l4,4l4,4M1024,330l2,5l2,4l2,4l2,4M1240,168l11,-9M874,353l4,3l4,2l4,3l4,3M854,337l5,3l6,3l5,3l5,4M1283,183l10,-7M972,356l6,8M1208,282l1,-5l2,-4l1,-5l2,-5M872,301l13,8M876,235l5,2l5,2l5,2l4,2M844,282l6,3l6,2l6,3l6,3M960,358l3,3l3,4l2,3l3,4M861,258l5,2l5,2l5,3l6,2M1078,327l3,15M845,301l5,2l4,2l5,2l4,2M1054,321l4,10M1174,307l1,-4l0,-4l1,-4l1,-4M961,169l6,3l6,3l6,3l6,4M1069,304l2,6l2,6l2,6l1,6M1266,166l11,-7M1258,234l3,-4l3,-4l4,-4l3,-4M1257,166l3,-3l4,-3l4,-2l3,-3M977,179l12,8M973,169l5,2l5,3l4,3l5,2M923,363l3,3l3,3l3,3l3,4M910,190l11,4M1053,155l3,4l3,3l4,4l3,3M1195,159l3,-5l4,-5l3,-4l3,-5M926,357l3,4l4,3l3,4l4,4M1067,303l2,5l1,5l2,5l1,5M985,351l3,4l2,5l3,4l3,4M1111,140l3,6l2,6l2,6l1,6M866,221l5,1l4,2l5,1l4,2M1029,327l3,5l2,6l3,6l2,5M878,227l11,4M913,366l7,7M997,181l5,5l5,4l6,4l5,5M966,354l6,9M1207,163l4,-5l4,-5l5,-5l4,-5M864,214l6,2l6,2l6,2l6,2M872,241l6,2l6,3l5,3l6,2M855,345l5,3l5,3l5,4l5,3M850,313l6,3l6,3l6,3l6,3M1281,208l3,-3l4,-3l3,-3l4,-3M1088,317l1,6l1,6l1,6l1,6M886,365l9,7M1035,154l5,4l5,5l5,5l5,5M848,289l13,6M1002,164l11,8M903,205l5,2l5,3l6,2l5,3M921,359l7,7M1023,336l2,4l2,4l2,4l2,4M1286,216l4,-3l4,-3l4,-4l4,-3M904,191l6,3l7,3l6,2l6,3M905,195l4,2l5,2l4,2l5,2M902,366l4,4l5,5l5,4l4,5M853,308l5,2l5,3l6,3l5,2M861,327l5,3l5,3l5,2l4,3M858,217l6,3l7,2l6,2l6,3M1073,314l4,15M849,312l6,3l6,3l5,3l6,3M866,203l5,2l5,2l5,1l5,2M898,341l4,4l5,4l4,4l5,4M876,360l5,4l6,4l5,4l5,5M971,356l2,3l2,4l2,3l3,4M1276,214l4,-4l6,-5l5,-4l5,-5M1072,318l1,5l2,4l1,4l1,5M965,168l5,3l6,3l5,3l5,3M884,358l3,2l4,3l3,3l3,2M1262,232l3,-4l3,-4l3,-4l4,-3M866,221l6,2l6,2l6,3l5,2M851,260l6,2l5,2l5,2l5,3M883,203l5,2l4,2l5,1l5,2M1221,168l10,-12M1059,320l2,5l2,5l1,6l2,5M951,186l4,2l4,2l4,3l3,2M931,196l5,2l4,3l5,3l5,2M1066,319l2,6l2,7l1,6l2,7M1207,162l3,-5l4,-4l3,-4l4,-4M855,313l5,2l5,3l5,3l5,2M1063,319l2,6l2,6l2,7l2,6M927,182l4,2l5,2l4,2l4,2M946,186l5,3l5,3l6,3l5,3M1056,311l5,15M998,342l3,5l3,5l3,5l2,5M943,352l3,3l3,4l3,4l3,4M907,186l5,2l4,2l4,1l4,2M1087,321l1,5l1,6l1,5l1,5M1129,310l0,4l0,4l0,4l1,4M991,178l4,3l4,3l4,3l4,3M1167,158l4,-15M887,196l5,2l5,2l5,1l5,2M898,370l4,4l5,5l5,4l4,4M1005,157l6,4l6,4l5,4l6,5M873,222l4,2l5,2l5,1l4,2M900,186l14,5M1170,308l2,-11" stroke="#7cc4ff" stroke-width="2.0"/><path d="M964,99l19,4l18,4l18,5M766,217l14,2l14,2l13,2M799,246l26,6l25,8l25,10M808,272l22,7l21,8l20,9M900,441l10,11M806,199l15,3l16,3l15,4M908,124l9,2l9,1l9,2l9,2M962,108l16,3l15,4l15,4M905,439l8,9M860,388l9,7M742,361l24,3l24,5l23,8M760,313l14,2l13,3l13,3M970,117l20,6l20,8l19,9M877,109l29,4l29,4l29,6M880,110l25,3l25,4l25,5M751,176l29,2l29,3l28,5M743,231l19,2l18,2l18,2M789,248l18,3l18,5l17,5M873,164l15,3l14,5l15,4M798,328l21,7l21,9l20,10M799,270l9,2l9,3l9,2l9,3M878,137l15,3l14,3l15,4M832,284l13,5l13,6l12,6M980,121l23,9l23,11l21,14M844,128l29,5l30,5l29,6M850,149l9,2l9,1l10,2l9,2M933,106l27,5l26,6l25,8M816,321l13,6l13,5l13,7M824,191l9,2l9,2l9,2l9,2M818,225l10,3l9,2l10,3l9,3M828,351l22,11l21,14l20,15M736,307l16,1l15,2l16,2M784,376l15,5l14,5l14,6M902,436l4,4l3,4l4,4l3,5M810,194l15,3l15,3l14,4M904,123l24,5l23,6l23,7M830,180l8,2l8,1l7,2l8,2M802,301l27,10l26,11l25,14M804,307l22,8l22,9l22,11M823,398l4,2l3,2l4,2l4,2M743,289l21,2l22,4l20,4M868,384l4,3l4,3l4,3l4,3M791,324l21,7l20,7l20,10M855,385l8,5M784,297l25,7l25,8l24,11M795,284l22,6l22,8l22,9M927,445l3,5l3,4l3,4l3,5M774,181l26,3l27,4l26,6M793,165l25,3l25,4l25,5M824,157l17,2l17,4l17,3M830,350l22,12l22,13l20,16M747,365l25,4l24,7l24,8M805,209l24,5l22,6l23,7M941,451l5,7M750,328l8,1l8,2l8,1l8,1M924,152l15,5l14,5l13,6M807,190l25,4l24,6l24,7M970,117l23,7l23,9l22,11M747,347l20,3l19,4l19,5M892,433l3,3l3,3l3,4l3,3M962,142l8,3l8,3l8,4l8,3M851,153l17,3l16,4l17,4M842,357l9,4l8,5l8,5l8,6M906,435l6,6M955,131l14,4l13,5l13,5M864,105l25,3l25,3l25,4M957,107l8,2l8,2l8,1l8,2M934,116l21,4l20,5l19,7M835,211l8,2l8,2l8,3l8,2M974,135l19,8l19,9l17,11M856,166l20,4l19,5l18,6M810,236l7,2l8,2l7,2l8,2M774,301l26,6l26,8l25,10M743,346l18,2l18,3l18,5M852,152l17,3l16,3l16,4M866,411l3,2l4,3l3,3l3,2M982,127l22,9l21,12l20,14M770,362l15,4l16,4l15,6M823,409l10,5M860,386l7,5M737,208l29,2l28,3l28,5M755,365l28,6l27,8l26,11M777,174l8,1l8,1l8,1l8,1M897,119l26,5l27,6l26,8M914,445l7,10M807,131l18,2l18,2l19,2M935,145l9,3l8,3l8,3l8,3M811,268l15,4l14,4l14,6M805,144l9,1l9,1l9,1l9,1M806,392l12,5M749,347l18,3l18,4l18,4M749,369l25,5l24,6l23,8M836,179l15,3l16,4l15,4M795,385l11,4M814,332l20,8l19,10l19,11M833,411l7,4M800,394l5,2l5,2l5,2l5,2M796,256l15,3l14,4l14,4M843,160l15,3l14,3l15,3M881,126l23,4l22,5l22,6M885,126l18,3l18,3l18,5M922,162l8,3l8,3l8,3l7,3M918,146l10,3l9,3l9,3l9,3M729,369l25,2l26,5l24,6M979,138l22,11l21,13l20,16M833,355l25,14l24,17l22,18M827,336l15,7l14,7l14,8M839,364l7,4l7,4l6,4l7,4M836,145l25,4l25,5l24,6M814,397l14,7M925,467l3,4l2,3l3,4l2,3M830,247l14,4l14,5l13,5M830,218l18,5l19,6l17,7M823,119l16,2l16,1l16,2M743,197l27,2l27,3l26,4M853,149l14,2l13,3l14,3M796,137l29,3l28,4l28,4M747,283l8,1l7,0l8,1l8,1M830,139l8,1l8,1l8,1l8,1M758,255l10,1l9,1l9,1l10,2M839,152l15,3l16,3l15,3M967,136l9,3l8,4l9,3l8,4M812,394l11,5M820,241l15,4l14,4l13,5M824,225l21,6l22,7l21,9M799,291l14,4l15,4l14,6M854,105l25,2l25,3l25,3M797,229l29,7l29,8l28,11M813,220l24,7l24,7l24,9M783,295l23,6l22,7l22,9M982,101l16,4l17,4l16,5M757,366l28,7l27,9l26,11M786,281l26,7l25,8l24,10M803,319l24,9l23,10l23,13M961,116l24,7l24,9l23,11M755,224l15,2l16,2l15,2M888,448l3,4l3,3l3,3l3,4M807,336l23,9l22,11l22,13M908,131l9,1l9,2l8,2l9,3M745,339l25,4l24,6l24,7M842,119l28,4l29,4l28,5M1303,137l22,-7l23,-6l23,-5M1312,126l23,-6l22,-4l23,-4M1356,161l8,-3l9,-2l9,-3l8,-2M1403,120l19,-2l19,-2l19,-1M1374,159l27,-6l27,-6l27,-4M1246,308l8,-17l9,-16l11,-16M1415,174l28,-6l28,-4l28,-3M1344,120l16,-3l16,-3l17,-2M1312,281l19,-18l21,-16l22,-14M1430,156l24,-3l24,-3l24,-2M1331,122l30,-5l29,-5l30,-3M1449,212l18,-3l17,-3l18,-3M1286,142l28,-10l29,-8l29,-6M1270,253l6,-6l5,-7l6,-6l6,-6M1263,164l22,-13l24,-11l25,-8M1346,157l9,-3l10,-3l9,-3l10,-2M1381,236l7,-3l8,-3l7,-4l8,-3M1455,210l8,-1l8,-2l8,-1l7,-1M1259,115l29,-8l29,-6l29,-4M1279,106l16,-4l17,-3l17,-2M1446,170l16,-2l16,-2l16,-2M1387,273l27,-13l28,-11l29,-9M1340,191l22,-9l21,-8l23,-7M1337,200l8,-4l8,-4l8,-3l8,-4M1246,282l4,-7l4,-7l4,-7l4,-7M1296,173l14,-8l14,-6l14,-6M1437,231l21,-5l21,-5l21,-4M1307,161l22,-9l24,-8l23,-6M1329,157l27,-9l28,-7l28,-6M1442,216l14,-3l14,-3l15,-3M1328,163l13,-5l13,-4l13,-4M1365,265l22,-12l22,-11l23,-9M1421,227l16,-5l16,-5l16,-3M1451,234l20,-4l21,-4l21,-3M1375,188l14,-4l14,-5l14,-4M1294,132l14,-4l13,-4l14,-4M1389,152l8,-2l8,-2l8,-1l8,-2M1395,263l13,-6l13,-6l13,-5M1393,263l15,-7l14,-6l15,-6M1285,266l6,-7l7,-7l6,-7l7,-7M1463,180l9,-1l8,-1l9,-2l9,-1M1302,127l22,-6l22,-4l23,-5M1353,232l23,-12l24,-10l25,-8M1297,219l21,-15l22,-13l22,-11M1291,229l17,-14l18,-13l19,-11M1347,166l22,-7l23,-6l24,-6M1303,234l22,-17l23,-14l25,-12M1373,192l15,-5l16,-6l17,-4M1331,190l17,-8l17,-7l17,-6M1401,243l24,-9l26,-8l25,-6M1398,263l26,-11l27,-10l28,-7M1324,293l23,-20l24,-17l26,-15M1254,121l23,-8l23,-6l23,-5M1349,158l26,-7l25,-6l26,-5M1274,229l22,-20l24,-17l26,-14M1343,129l20,-4l20,-3l20,-4M1450,175l16,-3l16,-2l15,-1M1486,240l8,-1l7,-1l8,-1l8,-1M1459,245l15,-3l15,-4l15,-2M1398,180l22,-5l21,-5l22,-4M1383,266l7,-4l8,-4l8,-4l8,-3M1337,274l15,-12l16,-11l16,-9M1296,215l23,-16l23,-13l25,-11M1352,155l27,-7l28,-6l28,-5M1361,161l8,-3l8,-2l8,-2l9,-2M1431,172l13,-3l14,-2l14,-2M1277,303l14,-19l15,-18l16,-16M1454,183l16,-2l16,-2l16,-2M1282,141l19,-7l19,-7l20,-5M1301,208l22,-14l24,-13l24,-10M1283,110l29,-6l30,-5l30,-3M1359,187l24,-9l25,-7l25,-6M1376,221l18,-8l19,-7l19,-6M1407,237l18,-6l18,-6l19,-5M1301,108l23,-4l24,-3l24,-3M1273,266l15,-18l17,-17l18,-15M1371,138l15,-3l15,-3l15,-2M1324,244l7,-5l6,-5l7,-5l7,-4M1250,168l22,-15l25,-13l25,-10M1407,176l28,-6l29,-5l29,-4M1270,150l22,-10l22,-9l23,-7M1294,130l18,-5l18,-5l18,-4M1460,186l14,-2l15,-2l14,-2M1317,284l14,-13l15,-13l15,-11M1272,106l7,-2l8,-2l7,-1l7,-2M1451,165l16,-3l17,-2l16,-1M1351,137l14,-4l14,-3l14,-2M1358,231l9,-5l8,-4l9,-4l9,-4M1403,135l7,-1l8,-1l8,-1l8,-1M1316,263l7,-7l7,-5l7,-6l8,-6M1290,258l16,-16l16,-14l18,-13M1458,249l17,-4l16,-3l17,-3M1332,225l13,-8l13,-7l13,-7M1423,200l15,-3l14,-4l14,-3M1285,296l12,-16l14,-15l14,-14M1227,172l18,-17l22,-14l22,-12M1293,188l18,-11l19,-10l20,-8M1285,206l20,-15l22,-12l22,-11M1338,167l15,-6l16,-5l16,-5M1340,224l15,-9l15,-7l16,-7M1320,155l8,-4l9,-2l8,-3l9,-3M1432,240l21,-6l21,-5l21,-4M1393,244l23,-9l24,-8l24,-7M1376,241l27,-12l28,-9l28,-9M1324,297l10,-11l11,-9l11,-9M1249,294l10,-17l11,-17l12,-16M1430,178l9,-2l10,-2l9,-2l9,-1M1350,126l28,-5l27,-4l28,-3M1307,309l17,-18l18,-17l19,-15M1354,141l20,-4l19,-4l20,-4M1441,218l22,-5l22,-4l22,-3M1249,313l11,-21l12,-20l14,-19M1436,196l25,-5l25,-4l26,-3M1324,127l8,-2l8,-2l7,-1l8,-2M1292,123l9,-3l8,-2l9,-2l8,-2M1323,215l15,-9l16,-8l15,-8M1299,231l21,-16l21,-14l23,-11M1274,108l8,-2l8,-2l8,-2l8,-1M1290,203l14,-10l14,-9l15,-8M1272,260l5,-6l5,-6l5,-6l6,-6M1291,164l14,-7l16,-7l15,-6M1267,290l17,-23l18,-21l21,-20M1457,249l22,-5l21,-4l22,-3M1325,149l16,-6l17,-4l17,-4M1478,202l27,-4l27,-2l27,-1M1381,210l7,-3l7,-3l8,-2l7,-3M1301,265l18,-17l19,-15l20,-13M1424,157l28,-4l28,-3l29,-3M1434,223l17,-4l18,-4l17,-4M1316,280l17,-16l18,-13l19,-13M1298,183l22,-12l23,-10l24,-8M1397,129l14,-2l14,-2l14,-1M1349,143l13,-4l13,-3l13,-3M1460,243l23,-4l23,-4l23,-3M1314,227l23,-16l26,-13l26,-11M1418,264l16,-6l15,-6l16,-5M844,288l12,5M1031,341l5,12M1269,256l4,-6l4,-5l4,-4l4,-5M1304,222l3,-3l4,-2l3,-3l3,-3M1298,230l12,-9M1299,199l5,-4l5,-3l5,-3l5,-4M1304,211l10,-7M982,355l3,4l2,4l3,4l2,4M1279,242l4,-5l5,-5l4,-4l5,-5M1293,232l5,-4l5,-4l5,-5l5,-4M1299,205l5,-4l5,-3l5,-4l5,-3M1253,272l3,-5l3,-4l3,-5l3,-5M1045,336l2,5l2,5l2,5l2,5M846,230l6,2l6,2l6,2l6,2M844,266l14,5M854,359l4,3l4,3l4,2l4,3M1279,250l5,-5l4,-5l5,-5l5,-5M1296,208l4,-3l4,-3l4,-3l4,-3M847,335l10,5M1300,220l3,-2l3,-3l3,-3l4,-2M1233,271l3,-6l3,-6l3,-5l3,-6M851,227l5,1l5,2l5,2l5,2" stroke="#f2f8ff" stroke-width="2.0"/><path d="M721,335l21,1l21,2l21,3M897,454l5,6M768,208l9,1l10,1l10,1l9,1M830,413l8,4M800,406l5,2l5,2l4,2l5,2M922,159l16,5l15,6l15,7M806,191l27,6l28,6l26,9M839,199l23,6l23,8l22,9M828,400l4,2l5,2l4,3l4,2M792,328l27,9l27,12l25,14M744,339l21,3l22,4l21,6M735,291l28,3l29,5l28,7M788,291l17,4l17,5l16,6M721,376l25,2l25,3l24,6M737,304l9,1l9,1l9,1l10,1M788,171l21,3l22,3l21,4M754,391l15,3M935,444l7,9M802,411l12,5M782,387l4,1l4,1l4,1l4,1M808,162l8,1l8,1l8,1l8,1M782,417l5,1l4,2l4,1l5,2M935,162l15,7l15,7l15,8M745,271l26,3l26,5l26,6M722,322l21,1l21,2l21,3M811,119l20,2l21,2l21,2M832,403l11,7M793,323l25,8l24,10l23,12M818,319l26,11l25,14l23,16M742,236l25,2l25,4l24,4M896,438l8,8M787,258l25,6l25,7l24,9M843,202l9,3l9,2l9,3l9,3M754,318l14,2l14,3l13,3M822,316l26,12l26,14l23,17M783,224l22,4l22,4l22,6M883,181l7,2l7,2l7,3l8,2M755,332l8,1l9,1l9,2l9,2M738,209l28,2l28,3l28,5M796,319l20,7l21,8l19,9M882,444l3,3l4,4l3,3l4,4M828,232l24,8l24,9l23,11M867,182l19,6l19,6l19,8M899,428l3,4l3,3l4,4l3,3M817,418l4,1l4,2l3,2l4,2M761,306l15,2l14,3l15,4M880,454l6,6M828,304l17,7l17,8l17,10M802,336l19,7l19,8l18,10M812,188l21,4l21,5l20,5M889,394l10,9M714,302l29,1l28,3l28,5M755,395l6,1l5,1l5,1l5,1M752,334l24,4l23,6l22,7M853,399l11,7M769,142l25,2l24,2l25,3M740,385l5,1l4,0l4,1l4,0M855,216l8,2l8,3l8,3l8,3M744,301l9,1l9,1l10,1l9,2M854,404l3,3l4,2l3,3l4,2M755,282l23,3l23,5l23,6M851,183l27,7l26,9l26,11M794,355l23,9l22,10l21,12M762,353l18,4l18,5l17,5M780,158l20,2l20,2l20,3M982,95l18,3l17,4l18,5M843,233l9,3l10,4l9,3l9,4M805,402l14,6M788,341l28,10l27,12l25,15M797,254l22,5l22,7l22,8M820,120l14,1l14,2l15,1M799,225l15,3l14,3l14,4M771,300l27,6l27,9l27,10M898,452l10,11M835,374l8,4l7,5l8,5l8,5M747,253l29,4l30,5l28,7M786,339l24,8l24,10l24,12M747,225l27,2l28,4l27,6M857,447l6,5M774,305l21,4l21,6l21,7M794,242l14,3l13,3l14,4M848,418l4,2l3,2l4,3l3,3M822,211l16,4l15,4l15,5M783,191l28,4l28,6l27,6M841,198l18,5l18,5l17,7M812,360l21,10l21,11l19,13M787,305l19,5l18,6l18,7M802,349l17,6l18,8l16,9M753,324l17,2l16,3l17,4M806,159l15,2l16,2l16,3M1294,233l16,-13l16,-12l17,-10M1339,229l24,-14l25,-11l26,-10M1304,249l13,-11l14,-11l14,-9M1349,185l8,-3l7,-3l8,-3l7,-3M1372,227l7,-3l8,-4l7,-3l8,-3M1340,172l7,-3l7,-2l8,-3l7,-3M1302,105l26,-4l25,-4l26,-2M1337,203l24,-11l25,-10l26,-8M1392,148l22,-4l21,-3l21,-3M1407,151l8,-1l9,-2l8,-1l9,-2M1245,174l12,-10l13,-9l13,-8M1372,201l21,-8l20,-6l21,-6M1330,194l12,-6l13,-6l13,-5M1305,206l24,-14l26,-13l27,-10M1310,233l19,-14l20,-12l21,-11M1401,146l29,-5l29,-4l29,-2M1348,204l22,-9l22,-9l23,-7M1248,183l22,-17l25,-15l26,-12M1354,228l8,-4l8,-4l9,-5l8,-4M1330,296l13,-12l12,-10l14,-10M1349,211l13,-6l13,-6l13,-5M1415,221l29,-8l29,-7l30,-5M1349,237l21,-11l21,-11l22,-8M1336,299l14,-12l14,-11l15,-11M1338,176l7,-3l8,-3l8,-3l7,-3M1277,215l17,-14l17,-13l19,-10M1359,146l26,-6l26,-5l26,-4M1344,154l25,-7l24,-5l25,-5M1314,198l13,-8l14,-7l15,-7M1367,197l9,-4l9,-3l10,-4l9,-3M1334,186l24,-10l24,-8l25,-7M1311,252l17,-15l19,-12l19,-12M1402,145l15,-3l14,-2l15,-2M1319,202l18,-10l18,-8l18,-8M1313,244l11,-9l12,-9l13,-8M1281,257l13,-14l14,-13l16,-13M1407,265l25,-10l26,-8l26,-7M1252,333l12,-25l15,-24l16,-22M1252,176l13,-10l13,-10l15,-8M1284,325l15,-21l16,-20l19,-19M1436,214l28,-6l27,-5l28,-3M1381,239l17,-7l18,-7l17,-6M1378,238l14,-7l13,-5l14,-6M1377,190l26,-8l26,-7l26,-5M1247,171l20,-15l22,-12l23,-10M1394,145l27,-5l28,-4l29,-3M1384,178l7,-2l7,-2l7,-3l8,-1M1266,106l14,-4l15,-3l14,-2M1382,193l22,-7l23,-6l23,-5M1239,287l11,-20l13,-20l14,-18M1339,177l17,-7l18,-6l17,-6M1396,151l17,-4l18,-3l18,-2M1383,221l19,-8l19,-6l19,-6M1237,166l11,-9l11,-9l11,-7M1330,215l13,-8l13,-7l14,-6M1422,229l18,-6l19,-5l18,-4M1312,227l15,-11l16,-10l16,-9M1329,184l21,-9l22,-8l22,-7M1301,236l17,-13l17,-12l18,-11M1386,240l25,-10l26,-9l26,-7M1358,154l7,-2l7,-2l8,-2l7,-2M1348,230l7,-4l6,-3l7,-4l7,-4M1315,308l13,-15l15,-14l15,-12M1324,303l13,-13l15,-12l15,-12M1361,161l25,-7l25,-6l26,-4M1312,239l24,-17l25,-14l25,-12M1281,264l6,-8l7,-7l6,-7l7,-7M1380,155l21,-5l21,-4l21,-3M1382,154l21,-5l21,-4l21,-3M1287,310l8,-12l9,-11l9,-11M1361,167l22,-7l23,-6l23,-4M1411,152l19,-3l19,-3l20,-2M1269,168l18,-11l19,-10l20,-8M1254,164l13,-9l14,-9l15,-7M876,190l5,1l5,2l6,2l5,1M915,179l4,2l5,1l4,2l5,2M1268,242l4,-5l3,-4l4,-5l4,-4M853,295l14,6M1227,263l2,-6l3,-6l3,-5l3,-6M1066,332l3,10M856,302l14,7M1075,322l2,7l1,6l2,6l2,6M879,367l5,4l5,4l5,4l5,4M852,255l4,2l5,2l5,2l5,2M934,367l9,12M1256,244l3,-4l2,-3l3,-4l3,-4M1218,273l6,-14M849,307l5,2l5,2l5,3l5,2M874,369l10,7M859,236l13,4M903,179l15,5M968,356l3,4l2,4l3,4l3,5M845,345l6,3l5,3l5,3l5,3M842,257l5,2l5,2l5,2l5,2M855,282l5,2l5,3l5,2l5,2M880,186l4,1l5,2l4,1l4,2M854,346l11,6M1251,250l6,-9M882,370l4,4l4,3l4,4l4,3M1025,335l3,5l2,6l2,5l3,6M861,365l11,7M848,287l4,2l5,2l5,2l4,2M1174,304l1,-10M1297,189l4,-2l3,-2l3,-3l4,-2M1260,247l2,-4l3,-3l2,-3l3,-3M864,217l4,2l4,1l4,1l4,2M1014,344l3,5l2,4l2,5l2,4M1219,279l2,-5l2,-5l2,-5l2,-4M853,234l6,2l6,3l5,2l6,2M850,257l14,6M854,262l5,2l6,3l5,2l6,3M1060,336l4,13M945,179l6,3l5,3l5,2l5,3M861,345l4,3l5,3l4,3l5,3M1283,188l10,-8M1297,201l10,-7M1215,286l2,-6l3,-6l2,-6l2,-6M1284,225l10,-10M852,243l4,1l4,2l4,1l4,2M1295,190l5,-3l5,-3l6,-4l5,-3M1143,308l0,17M1223,170l4,-5l5,-5l4,-4l5,-5M1214,164l4,-4l4,-4l4,-5l4,-4M850,333l13,7M857,227l5,1l4,2l5,1l4,2M861,260l12,5M1204,158l3,-4l2,-3l3,-4l3,-3M1261,237l3,-5l4,-4l3,-4l4,-4M857,253l6,2l6,3l6,2l6,3M980,355l2,4l2,3l2,4l3,3M1265,168l3,-2l4,-3l4,-2l3,-3M872,362l12,9M926,175l5,1l5,2l4,2l5,2M856,273l13,6M1301,196l8,-6M840,326l6,2l6,3l5,3l6,3M854,235l12,4M867,361l5,3l5,4l4,3l5,4M1243,260l3,-6l4,-6l4,-6l3,-5M849,337l13,6M848,266l5,2l4,2l5,2l5,2" stroke="#b4dbff" stroke-width="2.0"/><path d="M850,256l14,6l15,6l14,7M775,393l12,3M869,154l8,2l8,2l8,2l8,2M841,119l21,2l21,3l22,3M851,145l20,4l19,4l19,4M915,161l26,10l25,12l24,14M820,318l26,11l25,14l24,16M815,207l15,3l14,4l15,4M824,182l21,4l20,5l21,6M794,408l5,2l5,2l5,2l4,2M867,400l10,7M825,241l28,9l27,11l25,13M936,160l19,7l17,9l18,10M830,146l14,2l14,2l14,2M710,382l26,1l27,2l26,6M831,324l19,8l18,10l17,11M914,444l6,8M879,127l26,4l25,6l25,6M924,466l2,4l3,4l3,4l3,4M743,325l9,1l9,2l10,1l9,1M748,344l19,3l19,4l19,5M789,415l5,2l5,2l5,2l5,2M723,368l22,1l21,3l20,4M824,399l7,3M813,286l14,4l13,5l13,5M801,385l12,4M833,172l8,1l9,2l8,2l9,2M773,368l7,2l8,2l8,3l7,2M809,321l21,8l21,10l20,11M923,127l18,5l17,5l17,5M912,111l26,4l26,6l26,7M796,206l29,6l29,7l29,9M889,134l7,1l8,2l7,1l7,2M882,457l9,8M826,352l7,3l8,4l7,4l7,4M792,169l23,3l24,4l24,5M739,327l25,3l25,5l25,7M789,154l22,2l21,3l22,3M741,294l24,3l24,4l24,6M849,191l18,5l18,6l17,6M711,373l23,1l22,2l23,4M759,363l9,2l10,2l9,2l9,2M823,243l24,7l24,10l23,10M785,243l27,6l27,7l26,9M805,275l18,5l18,6l17,7M1007,123l17,8l17,9l15,11M887,148l21,5l21,7l21,7M820,285l25,10l24,11l24,14M810,339l14,5l13,6l14,7M903,419l6,7M801,264l18,5l18,5l18,7M822,183l15,3l15,3l15,4M816,187l9,2l9,1l10,2l9,2M808,331l19,8l19,9l19,10M763,408l5,1l5,1l4,1l5,1M814,333l14,5l13,6l13,7M869,177l21,6l19,7l20,8M795,270l17,4l17,5l16,6M923,478l7,11M862,191l9,3l9,3l9,3l9,3M778,405l10,3M836,328l21,10l19,12l19,14M798,254l19,5l20,6l19,6M738,391l12,1M815,187l9,2l10,1l9,2l10,2M730,313l22,2l22,3l22,4M845,257l14,5l14,6l13,7M828,360l12,6l12,7l12,7M841,414l5,3l4,2l4,3l4,3M896,417l3,4l4,4l3,3l4,4M865,145l26,6l25,6l25,8M799,273l22,6l23,8l21,9M748,366l26,4l25,7l25,9M827,404l10,5M910,474l3,4l4,4l3,5l3,4M996,143l19,11l18,13l17,15M872,190l7,2l7,3l7,2l7,3M784,402l12,4M788,166l14,1l13,2l14,2M1285,239l21,-19l24,-16l25,-14M1270,146l8,-4l9,-4l9,-4l10,-4M1295,228l20,-15l20,-13l21,-11M1333,253l7,-5l7,-5l7,-5l7,-5M1303,175l27,-13l28,-10l28,-8M1295,307l5,-7l6,-7l6,-7l5,-6M1279,329l12,-18l14,-18l14,-17M1296,314l8,-11l8,-10l10,-11M1351,155l27,-8l26,-5l27,-5M1353,247l6,-5l7,-3l7,-4l6,-4M1370,208l16,-6l16,-6l16,-5M1297,122l14,-4l14,-4l14,-3M1332,235l14,-9l15,-9l15,-8M1344,192l8,-3l7,-4l7,-3l8,-3M1444,225l17,-5l18,-3l18,-3M1252,277l9,-15l10,-14l11,-14M1305,196l19,-11l20,-10l21,-8M1422,231l19,-6l20,-5l19,-4M1268,119l16,-5l16,-5l16,-3M1507,197l8,-1l8,0l8,-1l8,0M1261,169l6,-4l6,-5l7,-4l6,-4M1367,250l18,-10l18,-8l19,-8M1393,133l8,-2l8,-1l8,-1l8,-1M1320,133l18,-5l17,-4l19,-4M1275,166l14,-8l14,-7l14,-6M1322,301l12,-11l12,-11l13,-10M1246,177l11,-10l12,-9l13,-8M1336,289l19,-15l19,-13l21,-12M1312,212l18,-11l19,-10l20,-9M1335,197l8,-4l8,-4l8,-3l8,-4M1273,271l6,-8l6,-7l6,-7l6,-7M1298,237l5,-5l6,-5l6,-5l6,-5M1320,136l24,-6l24,-5l25,-5M1351,198l23,-9l24,-8l24,-7M1343,140l10,-3l9,-2l10,-2l9,-2M1309,213l19,-12l19,-11l20,-9M1386,246l21,-10l23,-8l22,-7M1240,140l20,-11l21,-9l22,-7M1271,151l18,-9l18,-7l18,-7M1468,221l28,-5l29,-3l28,-2M1292,130l25,-7l25,-6l26,-5M1298,228l11,-9l12,-9l12,-8M1388,141l27,-5l28,-3l28,-3M1403,238l27,-10l28,-7l28,-6M1435,136l17,-2l16,-2l17,-1M1358,140l8,-2l8,-2l8,-2l8,-1M1323,233l11,-8l12,-7l12,-7M902,196l10,4M1283,215l9,-9M1031,334l3,6l2,6l3,6l2,7M918,178l13,6M978,350l7,11M866,227l5,2l5,2l5,2l5,2M967,181l5,2l4,3l5,3l4,3M1176,308l0,-5l1,-5l1,-5l1,-5M879,183l5,1l6,2l5,2l6,2M1001,173l10,7M1043,147l5,4l5,5l5,5l5,5M850,294l6,3l5,2l6,3l6,3M876,364l11,8M1242,162l4,-3l4,-3l4,-3l4,-3M965,168l4,2l4,2l4,2l4,2M872,212l14,4M1041,157l11,10M1270,185l5,-4l6,-4l5,-4l6,-4M1023,332l2,5l2,4l2,4l2,5M897,183l10,3M1276,236l3,-4l4,-3l4,-4l4,-4M1013,337l2,5l3,6l3,5l2,6M950,176l11,6M1072,141l4,5l4,5l4,4l3,5M862,327l3,2l4,3l4,2l4,2M995,164l4,3l5,2l4,3l4,3M939,359l10,12M1256,170l4,-3l3,-2l4,-3l4,-3M856,277l6,3l6,3l6,3l6,3M857,356l4,2l4,2l3,3l4,2M851,305l6,3l5,3l5,2l5,3M999,354l5,10M853,285l6,2l6,3l6,3l6,3M1084,318l1,7l2,6l1,7l2,7M865,355l3,3l4,2l3,2l3,3M858,211l4,2l4,1l4,1l4,1M899,374l8,8M1066,144l4,5l5,5l4,5l4,6M867,223l12,4M1012,162l4,3l4,3l4,3l4,3M1069,325l4,13M1114,312l0,7l1,6l1,7l1,7M1149,322l0,-23M1010,350l6,12M917,183l6,2l6,3l6,2l5,3M848,233l5,2l5,2l5,2l5,1M1212,164l6,-8M976,356l8,12M960,356l8,11M1210,172l4,-6l5,-5l4,-5l5,-5M1013,160l6,4l5,4l5,4l5,4M851,316l5,2l5,3l5,3l5,2M1168,163l2,-5l1,-6l2,-5l2,-5M959,168l4,2l4,2l4,2l4,2M919,189l10,4M866,333l4,2l3,2l4,3l3,2M850,275l6,3l6,2l6,3l5,3M1220,159l3,-3l3,-3l2,-3l3,-3M859,241l4,2l4,1l4,2l4,1M1032,331l6,13M1241,255l3,-5l3,-6l4,-5l3,-5M1287,174l3,-3l4,-2l3,-2l4,-2M1193,302l2,-7l1,-7l2,-7l2,-6M868,356l4,3l3,2l4,3l3,2M846,327l6,3l5,3l6,3l6,3M1285,183l9,-7M1084,328l4,14M1072,322l3,11M1284,213l3,-4l4,-3l4,-3l4,-3M863,346l13,9M899,182l5,2l5,2l5,2l5,2M853,323l5,3l5,3l6,3l5,3M1223,164l3,-4l3,-3l3,-3l3,-3M907,366l9,10M956,358l4,5l3,4l4,5l3,5M1123,315l0,4l0,4l1,4l0,4" stroke="#9bcfff" stroke-width="2.0"/><path d="M869,471l8,8M1249,337l7,-14l6,-14l7,-13" stroke="#0846b6" stroke-width="2.0"/><path d="M822,154l6,0l6,1l6,1l5,1M754,252l7,0l6,1l7,1l6,0M1037,129l10,6M953,137l5,1l5,2l5,2l5,2M917,129l6,2l6,1l7,2l6,1M847,196l9,3l9,2l9,3l10,3M1216,120l6,-4M1356,112l8,-1l8,-1l8,-1l8,-1M1248,298l3,-7l4,-7l4,-7l4,-7M1308,168l14,-7M1140,315l-1,14M1317,172l5,-2l6,-3l5,-2l6,-3M1222,144l10,-8M1317,140l7,-2l8,-3l7,-2l7,-2M1324,132l4,-1l4,-2l5,-1l4,-1" stroke="#0a9cff" stroke-width="1.4"/><path d="M1040,141l4,3l3,3l4,3l4,3M1061,112l13,7M1028,148l12,8M1038,134l6,4l6,4l5,4l5,5M1035,113l4,2l5,2l4,2l4,2M1060,138l4,4l4,4l4,4l4,4M1033,113l6,2l5,3l5,2l5,3M1232,113l5,-2l6,-2l5,-3l5,-1M1171,335l0,-5l1,-4l0,-5l1,-4M1241,125l4,-2l4,-2l3,-2l4,-2M1213,128l6,-4l7,-4l6,-4l6,-4M1228,152l4,-4l4,-3l5,-4l4,-3M1233,147l3,-3l4,-3l3,-2l4,-3M1229,115l6,-3l6,-3l6,-2l6,-3M1229,290l3,-7l3,-6l3,-6l3,-6M1230,311l3,-7l2,-6l3,-7l3,-6M1211,312l2,-6l2,-6l2,-6l2,-6M1223,310l1,-4l2,-4l1,-5l2,-4M1242,154l4,-2l3,-3l4,-3l4,-3M1223,151l5,-5l6,-4l6,-5l6,-4M1232,282l3,-5l2,-6l3,-5l3,-6M1226,300l3,-6l2,-7l3,-6l3,-6M1229,301l3,-6l3,-7l3,-6l3,-7M1207,294l1,-4l1,-4l1,-4l2,-4M1241,142l4,-2l4,-3l4,-3l4,-2M1226,132l5,-4l6,-3l6,-4l6,-3M1234,305l1,-4l2,-4l2,-4l2,-4M1235,126l5,-3l6,-2l6,-3l5,-3M1208,133l5,-5l6,-4l6,-4l6,-4" stroke="#e6f2ff" stroke-width="2.8"/><path d="M815,437l4,2l5,2l4,3l4,2M888,411l4,3l3,3l3,4l3,3M892,461l8,9M832,308l22,10l21,12l20,13M761,394l9,2M816,419l4,1l3,2l4,2l4,2M832,282l20,8l19,9l19,11M830,217l25,7l24,9l23,10M720,382l22,1l22,2l21,5M841,344l17,9l16,11l16,11M778,396l4,1l4,1l3,1l4,1M838,270l18,7l17,8l17,9M836,273l20,8l19,10l18,10M842,254l24,10l24,11l23,14M821,241l26,8l26,10l25,13M810,414l3,2l4,2l4,1l3,2M798,425l13,5M860,449l8,7M935,161l21,9l20,11l19,12M920,93l26,3l26,4l26,5M768,412l13,3M791,413l4,1l5,2l4,1l4,2M890,421l10,10M845,447l13,9M803,416l5,2l5,2l5,3l5,2M1254,345l12,-23l13,-22l14,-22M1257,328l9,-17l10,-17l11,-16M1258,167l7,-6l8,-5l8,-5l8,-4M1256,177l16,-12l18,-11l18,-9M1257,171l7,-5l6,-5l7,-4l7,-5M1269,174l14,-9l15,-8l15,-8M1304,308l5,-6l5,-6l5,-6l5,-6M1343,111l16,-3l16,-2l16,-2M1027,179l4,4l4,4l4,5l4,4M948,312l10,11M993,309l2,4l3,4l2,3l3,4M1022,314l2,5l2,4l2,5l3,5M1021,243l3,4l3,4l3,4l3,4M1050,312l6,14M889,230l4,2l4,2l5,2l4,2M1112,212l1,6l1,6l1,5l1,6M1160,269l1,-12M898,314l10,7M1262,221l7,-8M1063,265l1,3l2,4l1,4l2,4M1176,232l1,-7l2,-7l1,-6l2,-7M1200,201l6,-12M945,332l3,4l4,4l3,5l4,4M1086,146l3,5l3,5l3,6l3,5M937,310l9,9M1140,150l0,12M1126,149l2,6l0,6l1,6l1,6M1125,168l2,12M1196,217l3,-6l2,-6l3,-7l3,-6M883,251l5,3l5,2l5,3l5,3M1026,286l3,6l3,6l3,6l3,6M923,198l4,2l4,2l4,2l3,2M1256,234l3,-3l2,-3l3,-4l3,-3M893,256l5,3l5,3l6,3l5,3M1086,164l4,6l3,6l3,6l2,7M884,222l14,6M1219,223l3,-5l3,-5l3,-5l3,-5M905,329l10,9M921,240l13,8M1200,215l5,-12M934,203l3,2l4,2l4,2l3,3M1247,201l3,-4l4,-4l3,-3l4,-4M1071,166l2,4l3,4l2,4l3,4M1037,225l7,11M879,337l5,3l4,3l5,3l4,3M970,298l9,12M1001,273l3,3l3,4l2,4l3,4M1124,270l0,4l1,4l0,5l0,4M1170,291l0,-7l1,-6l1,-7l1,-6M872,309l5,3l4,3l5,3l5,3M1059,158l4,4l3,5l4,4l3,4M978,299l9,12M917,331l4,3l4,4l4,4l3,3M1210,194l8,-13M1246,198l7,-8M1247,202l8,-8M872,297l4,2l3,2l4,2l4,3M1073,161l4,6l3,5l4,6l3,6M940,281l10,8M923,298l6,5l5,4l5,5l5,4M906,302l4,3l3,3l3,2l4,3M1076,256l1,4l1,4l2,4l1,4M1075,219l3,6l2,6l2,6l3,6M1063,218l5,10M1101,193l4,14M1105,153l5,12M915,272l3,3l4,3l4,2l4,3M1022,243l3,5l3,5l4,5l3,5M940,332l8,8M1034,300l2,4l2,5l2,4l2,4M1031,263l3,5l3,6l3,5l3,6M906,201l4,2l5,2l5,2l5,2M1156,208l1,-21M957,299l5,5l4,5l5,5l4,5M1013,298l2,3l2,4l2,3l2,3M1196,188l2,-4l2,-5l2,-4l2,-4M975,188l6,3l6,5l5,4l6,4M979,192l3,3l3,2l4,2l3,3M1092,146l7,14M1095,270l3,12M1105,266l2,11M1128,177l0,4l1,4l0,5l1,4M997,312l8,11M1026,316l5,11M1213,234l3,-6l2,-5l3,-5l3,-5M983,303l4,6l4,6l4,6l4,5M1142,219l0,20M968,270l10,11M906,278l4,3l3,2l4,3l4,2M938,256l10,8M1112,173l2,6l1,5l1,6l2,5M1109,239l1,5l1,6l1,5l1,5M1047,293l6,13M935,215l5,3l4,2l4,3l4,3M888,318l5,4l6,4l5,4l5,4M1246,225l4,-5l4,-5l3,-5l5,-5M916,225l6,3l5,3l5,3l5,3M930,227l10,6M947,200l6,4l6,4l6,3l5,4M1066,205l3,5l2,5l3,4l2,5M1009,312l2,4l3,5l2,4l3,5M1224,226l7,-12M1056,234l7,14M1154,298l0,-21M1162,237l1,-4l0,-5l1,-5l1,-5M1095,288l1,4l1,4l1,5l1,4M1041,277l2,4l2,4l2,4l2,4M1069,229l2,6l2,5l3,6l2,5M882,307l12,7M943,200l10,6M1010,194l4,4l4,3l4,4l3,4M1136,258l0,21M1225,225l6,-9M918,229l5,3l4,2l4,3l5,3M1236,182l3,-3l3,-3l3,-3l3,-3M915,196l4,2l5,2l4,2l5,2M933,310l4,4l4,4l3,4l4,3M1109,242l1,6l1,6l1,6l1,6M1109,179l2,6l2,7l1,6l2,7M1164,179l4,-15M1000,329l2,4l2,4l2,4l2,3M1198,229l5,-11M1200,214l5,-11M1188,185l2,-6l3,-6l2,-6l3,-5M1022,201l10,12M962,202l4,3l4,3l4,2l4,3M868,300l11,6M926,316l4,3l3,4l3,3l3,3M1200,186l3,-4l2,-4l3,-5l2,-4M1110,282l1,5l0,5l1,6l1,5M958,219l3,3l3,2l3,2l4,3M925,255l10,7M1044,262l3,5l2,4l2,4l2,4M1012,225l4,5l4,5l4,5l3,5M1093,155l6,11M1173,217l2,-13M1217,196l3,-6l4,-5l4,-5l4,-5M896,198l6,3l6,2l5,2l6,3M926,222l4,2l4,3l4,2l5,3M1061,294l1,3l1,4l2,4l1,4M935,293l4,3l3,3l3,3l4,3M1024,188l3,3l3,3l3,2l2,3M881,237l6,3l5,2l6,3l5,3M899,325l3,3l3,2l3,3l3,2M886,233l5,2l4,3l5,2l5,2M1256,202l3,-4l4,-3l3,-3l4,-4M872,263l14,7M1057,210l3,6l3,5l3,6l3,6M1248,200l9,-10M926,198l6,3l6,4l6,3l6,3M1034,324l5,12M1014,173l5,4l4,5l5,4l5,4M902,266l3,2l4,2l3,2l3,2M933,264l4,3l4,3l4,4l4,3M934,295l4,4l4,3l4,4l4,4M1057,297l4,10M1119,256l1,7l1,6l1,7l0,7M1180,228l1,-4l1,-4l1,-4l1,-4M909,345l9,8M1202,267l2,-6l2,-6l2,-6l2,-6M1008,237l7,9M940,338l10,11M906,302l5,4l5,4l5,4l5,4M904,314l4,3l3,2l3,3l4,3M901,205l14,6M1194,282l2,-7l2,-7l2,-7l2,-6M966,273l4,4l3,3l3,4l4,4M1012,327l7,13M1100,141l3,6l3,6l2,6l3,6M980,343l6,9M932,206l13,8M950,280l3,3l3,3l3,3l3,3M897,291l3,3l4,2l3,2l4,3M1110,172l3,10M939,328l9,9M963,319l4,6l4,5l5,6l4,5M1078,298l1,5l2,6l1,6l2,5M986,208l10,10M1222,211l2,-4l3,-5l3,-4l2,-4M1127,272l1,13M980,295l9,11M1036,299l4,10M1102,239l3,15M1004,308l3,5l3,5l3,5l3,5M1177,284l3,-15M891,323l4,3l5,3l4,4l4,3M973,303l5,5l4,6l4,5l4,6M1120,293l1,11M1038,271l5,10M1119,233l2,15M977,243l3,4l4,3l3,4l3,3M993,273l8,11M949,190l4,3l5,2l4,3l5,3M1056,227l3,5l2,5l2,5l3,5M1100,229l1,6l2,5l1,6l1,5M1210,191l8,-12M1187,169l5,-11M1012,198l4,5l5,5l4,4l5,5M1204,231l2,-5l2,-5l2,-5l3,-5M1223,237l2,-4l2,-4l2,-4l2,-4M1204,196l2,-4l2,-3l2,-4l2,-4M898,323l5,3l5,4l4,4l5,4M1002,296l4,5l3,5l3,5l3,5M988,289l9,13M1114,192l1,6l1,5l1,6l1,6M1060,268l2,4l1,4l2,3l1,4M968,224l5,4l4,4l5,4l5,4M1001,242l3,3l2,3l3,3l2,3M892,293l5,4l5,3l5,3l5,4M892,266l5,3l5,3l5,3l5,3M910,308l4,3l4,3l4,3l4,4M1187,217l5,-14M933,245l5,4l6,4l5,4l6,4M938,322l3,3l3,4l3,3l3,4M1268,186l10,-9M982,300l4,6l4,5l4,6l4,6M1157,226l-1,-21M986,268l4,5l4,5l3,5l4,5M889,209l13,5M1042,279l6,13M912,270l4,3l4,2l4,3l4,3M1160,258l0,-7l1,-7l1,-7l0,-7M1195,280l1,-6l2,-5l1,-6l2,-6M1032,190l9,11M1230,183l3,-4l3,-4l3,-3l4,-4M1184,280l1,-6l2,-6l1,-6l1,-6M1249,208l3,-4l4,-4l3,-3l4,-4M1245,220l3,-3l2,-3l3,-4l3,-3M875,330l4,3l5,3l4,3l5,3M872,233l15,6M1094,313l2,15M1008,253l8,11M933,201l11,6M989,334l4,6l3,5l4,6l3,6M975,307l3,4l4,4l3,4l3,5M948,337l4,5l4,5l4,5l4,4M914,219l5,3l5,2l5,3l5,3M1123,299l1,15M1018,242l3,4l3,5l3,4l3,5M890,258l6,3l5,3l6,3l6,4M894,317l6,4l5,4l5,4l5,4M1263,220l4,-4l4,-5l4,-4l5,-5M1049,254l2,4l2,3l2,4l2,4M1093,143l3,5l3,5l2,5l3,5M1209,202l4,-6l3,-6l4,-6l4,-6M1075,220l2,5l2,6l2,5l3,6M877,319l4,2l3,3l4,2l4,3M1053,251l3,4l2,5l2,4l2,5M907,307l6,4l5,4l5,5l5,4M1256,192l4,-5l5,-4l5,-4l5,-4M1075,212l2,5l2,5l3,6l2,5M901,300l9,6M1215,200l2,-5l3,-4l2,-4l3,-4M1102,156l3,6l2,6l2,6l2,7M912,217l5,2l6,3l6,3l5,4M947,278l9,8M897,241l5,2l6,4l5,3l6,3M952,269l5,4l4,4l5,4l4,5M1036,269l2,5l2,4l3,5l2,4M943,281l9,8M1053,233l2,4l2,3l2,4l1,3M1100,177l4,11M885,225l13,6M1183,201l4,-13M1157,216l0,-21M998,194l4,3l4,4l4,3l4,4" stroke="#0a9cff" stroke-width="2.0"/><path d="M801,138l8,1l9,1l9,1l8,1M858,391l8,5M852,324l4,3l5,2l4,3l5,2M911,172l9,3l9,4l9,4l9,4M847,322l8,4l9,5l9,5l8,5M790,426l9,3M1283,171l12,-7l12,-7l13,-5" stroke="#097ae6" stroke-width="1.4"/><path d="M1064,134l4,3l3,4l3,3l3,3M1065,102l5,3l4,2l5,3l4,3M1073,111l3,3l3,2l4,3l3,2M1190,307l1,-4l1,-4l1,-4l1,-5M1119,334l1,4l0,4l0,4l1,4M1205,337l1,-4l2,-5l1,-4l1,-5M1202,340l1,-7l2,-7l2,-7l1,-6M1246,327l3,-7l3,-6l3,-6l3,-7M1207,152l4,-4l4,-5l4,-4l4,-4M1153,326l-0,-16M1244,314l2,-5l2,-4l2,-4l2,-4M1234,314l3,-7l3,-6l3,-7l3,-6" stroke="#1fa2ff" stroke-width="2.8"/><path d="M741,310l7,0l8,1l7,1l8,1" stroke="#083eae" stroke-width="1.4"/><path d="M835,321l25,13l24,15l22,17M832,445l13,8M760,400l5,1l5,1l4,1l5,1M856,195l19,6l19,7l18,7M745,264l13,2l13,1l14,2M926,165l21,8l20,10l20,12M719,257l29,2l29,3l29,4M920,161l26,10l25,13l23,14M826,261l27,10l26,12l24,14M744,389l10,1M849,106l25,3l25,3l25,3M809,434l14,6M862,360l14,10l14,10l13,12M755,390l11,2M847,236l9,4l10,3l9,4l9,4M738,399l11,1M786,414l10,3M795,420l9,3M855,207l14,4l13,5l14,5M750,403l12,2M835,295l19,9l19,9l18,11M1268,334l12,-20l12,-19l15,-19M1480,219l28,-4l28,-2l29,-1M1272,336l12,-20l13,-19l14,-18M1456,163l28,-3l28,-2l28,-2M1327,305l13,-12l13,-12l14,-10M996,206l3,3l3,2l3,3l3,3M988,230l11,11M1124,263l1,6l0,6l1,7l0,6M948,270l8,7M1134,229l-1,22M896,255l13,7M937,310l4,4l3,3l4,4l3,3M1016,238l9,13M1251,212l9,-12M893,273l4,3l4,2l3,2l4,2M995,245l8,9M892,235l4,2l5,2l4,3l5,2M953,254l4,3l3,3l3,2l3,3M1001,187l6,5l5,5l5,4l5,5M938,311l8,8M1090,275l1,4l1,5l1,4l1,4M1192,207l5,-14M1223,224l3,-6l4,-6l4,-6l4,-6M946,217l4,3l4,2l4,3l4,3M911,241l11,7M897,267l13,8M1082,189l3,6l2,5l3,6l2,6M1119,168l3,13M1157,170l-0,-24M1029,232l7,10M951,237l10,7M1169,252l0,-5l1,-5l1,-4l0,-5M1063,170l6,9M1001,262l3,3l3,4l3,4l3,4M935,219l5,2l4,3l4,3l4,2M884,273l4,2l4,2l3,3l4,2M1011,311l2,4l2,4l3,5l2,4M874,279l5,3l5,3l5,3l5,3M962,314l6,8M1085,180l2,5l2,5l3,6l2,5M1090,160l3,6l2,6l3,6l3,7M1208,185l3,-4l2,-3l2,-4l3,-4M1201,183l2,-5l3,-4l2,-4l3,-5M1109,236l2,7l1,7l1,6l1,7M1181,284l1,-6l1,-7l1,-6l2,-6M896,300l6,4l6,5l5,4l5,4M1184,189l2,-6l2,-6l3,-6l2,-6M888,269l6,4l6,3l6,4l6,4M1082,216l2,5l2,6l2,5l2,5M919,285l4,3l4,3l4,3l3,3M1140,244l0,16M1128,258l1,5l0,5l0,5l1,5M979,305l3,5l4,5l3,4l3,5M1098,290l3,15M1018,226l6,8M920,295l11,9M933,335l4,4l4,4l3,4l4,4M1108,207l3,11M979,298l3,4l2,3l3,4l3,4M1019,246l7,11M1026,217l4,6l4,5l4,5l4,6M1027,299l6,11M1022,277l3,5l2,4l3,5l2,4M962,326l4,4l3,5l4,4l3,5M957,200l11,7M1114,211l3,13M1197,221l2,-6l2,-5l2,-5l2,-5M1091,206l2,6l2,6l2,5l2,6M1169,167l5,-14M1043,285l3,6l3,5l2,6l2,6M1231,239l3,-5l2,-4l2,-4l3,-3M1179,248l1,-4l1,-4l1,-4l0,-3M1242,186l3,-3l3,-3l3,-3l4,-3M980,258l4,5l5,5l4,5l5,5M1213,251l2,-4l2,-4l1,-4l2,-4M1096,219l2,6l1,7l2,6l2,6M910,211l6,3l6,3l6,3l6,3M964,320l3,4l3,4l3,4l3,4M1116,200l2,7l1,7l1,6l1,7M1156,270l0,-25M1002,228l4,4l3,5l4,4l4,5M904,324l4,3l4,3l3,3l4,4M964,291l9,10M1168,232l1,-5l1,-4l1,-4l0,-5M1067,213l2,4l2,4l2,4l1,4M988,244l4,4l4,4l3,3l3,4M940,237l6,4l5,4l5,4l5,4M1145,167l0,-16M1085,171l3,6l2,5l3,5l2,6M945,279l5,5l5,4l4,5l5,4M992,279l7,11M977,239l9,9M998,290l7,10M1000,273l8,11M1216,259l2,-4l1,-5l2,-4l2,-4M1126,227l1,13M1019,322l2,4l2,4l2,4l2,3M1130,237l-1,26M1150,199l-0,-20M1127,280l1,6l0,6l1,7l0,6M989,323l4,5l3,5l3,6l3,5M1137,167l-0,14M1003,290l3,4l3,5l3,5l3,4M1171,223l3,-13M1005,236l8,10M1046,254l2,4l2,4l2,4l2,4M1114,163l1,4l1,4l1,4l1,4M1038,179l4,4l4,5l4,4l3,5M1235,206l4,-5l4,-5l3,-5l5,-4M1004,282l4,5l3,6l3,5l4,5M945,349l7,8M1016,291l4,6l3,6l3,6l3,6M1197,201l1,-4l2,-4l2,-5l2,-4M1031,296l3,6l3,7l3,6l3,6M939,226l13,9M1182,209l2,-6l2,-6l2,-6l2,-6M885,330l10,7M931,345l3,3l2,3l3,3l3,3M932,281l4,3l4,4l3,3l4,3M1162,240l1,-7l0,-7l1,-7l1,-7M1228,221l5,-9M1050,234l2,4l3,5l2,4l2,5M1073,251l4,11M1043,200l7,10M989,327l3,5l3,5l3,5l3,6M961,336l2,4l3,3l3,4l2,3M1121,250l1,6l0,5l1,6l1,6M909,284l4,2l4,3l4,3l4,3M908,202l13,6M1249,238l4,-5l4,-6l4,-5l4,-5M1050,274l2,5l2,6l2,5l2,5M1060,241l2,5l3,4l2,5l2,5M1140,159l-0,22M955,197l4,2l4,3l4,2l3,3M1141,190l0,15M989,309l3,4l2,4l3,4l2,4M929,321l3,3l3,3l2,3l3,3M899,244l12,7M1019,253l2,3l2,4l3,3l2,4M1094,234l2,4l1,5l1,5l1,5M1176,168l2,-5l2,-5l3,-6l2,-5M1074,194l3,6l2,5l3,6l3,5M1126,293l1,4l0,5l0,4l0,5M1135,191l-1,24M1252,210l4,-5l5,-5l4,-5l5,-5M1177,167l4,-13M940,276l9,7M1180,272l3,-11M1147,180l-1,-25M1015,292l4,5l3,5l2,6l3,5M1232,227l7,-11M1063,255l2,5l2,5l2,4l2,5M1267,216l3,-4l4,-3l3,-4l3,-3M975,217l5,4l6,5l5,4l4,5M1117,190l1,5l1,5l1,5l1,5M880,239l5,2l5,2l5,3l5,2M1010,244l9,12M974,323l3,5l4,4l3,5l3,5M1109,175l3,10M1137,177l0,11M1185,201l4,-14M1085,156l6,10M1044,213l3,6l3,5l4,5l3,6M1101,244l1,5l1,5l2,6l1,5M1055,286l2,6l3,6l2,7l2,6M1009,207l4,4l4,5l4,4l4,4M1214,191l3,-5l4,-6l4,-5l4,-5M1157,304l0,-5l1,-6l0,-6l1,-5M1071,293l1,4l1,4l1,4l1,4M1245,232l3,-4l2,-3l2,-3l3,-4M1180,290l1,-4l1,-4l1,-4l0,-4M983,315l6,9M1047,220l3,4l3,5l2,5l3,5M1120,199l2,13M994,190l5,4l5,4l4,4l5,4M1198,194l2,-5l2,-5l3,-4l2,-5M1151,206l0,-12M1059,226l3,4l2,5l2,4l2,4M1111,229l3,15M1007,283l8,12M971,243l8,8M927,330l10,11M1099,227l1,4l1,4l1,4l1,4M966,296l10,12M1070,188l2,5l3,4l2,5l3,5M958,220l5,4l5,4l5,3l5,4M1166,264l2,-15M1101,205l2,6l1,7l2,6l2,6M933,241l5,4l4,3l5,3l5,4M1038,226l3,5l3,5l4,5l3,6M1026,265l6,9M1200,181l8,-13M1256,185l3,-3l3,-3l3,-2l3,-3M1180,180l2,-6l2,-5l2,-6l3,-6M1013,274l4,6l3,5l4,6l3,6M1020,230l3,4l2,4l3,3l3,4M1101,289l1,6l1,6l1,6l1,6M997,264l4,5l4,6l4,5l4,5M919,335l4,4l4,4l4,4l4,4M924,336l4,4l3,3l3,4l4,3M1084,220l2,4l1,4l2,4l1,4M999,230l5,5l4,5l5,6l4,5M1104,156l2,6l3,6l2,7l2,6M890,310l9,5M971,338l9,12M894,310l9,7M1216,204l4,-6l4,-6l4,-6l4,-5M978,209l5,4l4,3l4,3l4,4M899,263l5,3l4,3l5,3l4,3M1110,226l2,15M946,292l9,10M1232,188l9,-10M1088,279l1,6l2,7l1,7l2,6M1203,205l3,-5l2,-5l3,-5l3,-5M1149,307l-0,-24M970,223l9,7M931,331l3,3l3,3l3,3l2,3M892,266l5,2l4,2l4,3l4,2M1052,205l2,4l2,4l2,3l3,4M1124,225l1,7l1,7l1,7l0,7M888,301l9,6M966,319l3,3l3,4l3,4l2,4M1272,210l4,-4l4,-3l4,-4l3,-3M918,320l4,4l3,3l4,3l3,3M890,277l10,7M1032,297l2,5l2,4l3,5l2,4M1173,298l1,-7l1,-6l1,-7l1,-6M978,208l5,3l4,4l5,4l4,4M926,318l5,4l4,5l5,4l4,5M942,291l11,10M935,268l5,4l5,5l5,4l5,5M1044,212l2,4l3,4l2,4l3,4M972,310l4,4l3,5l3,5l4,4M1009,229l3,3l3,3l2,4l3,3M928,300l8,7M1019,206l3,4l3,4l4,3l3,4M998,290l3,5l3,5l4,5l3,5M905,261l9,6M1271,200l4,-4l5,-4l4,-3l5,-4M1169,267l1,-6l1,-6l1,-6l1,-6M983,241l5,4l4,4l4,5l4,4M883,300l12,8M1237,204l3,-5l4,-4l4,-5l4,-4M1077,234l4,10M1001,289l3,4l3,4l3,5l3,4M1043,242l7,12M1070,186l6,12M1107,234l2,7l1,6l1,6l1,6M968,306l3,5l4,4l3,4l3,4M956,328l3,3l3,4l3,3l3,4" stroke="#0a91f7" stroke-width="2.0"/><path d="M1072,130l11,11M1048,122l5,3l6,4l5,4l5,4M1074,106l5,3l5,4l5,4l5,5M1036,152l4,3l3,2l3,3l4,3M1066,129l4,5l5,4l4,5l4,4M1176,336l2,-15M1247,275l2,-4l3,-5l3,-5l3,-5M1157,334l-1,-20M1218,167l4,-5l5,-4l4,-5l5,-5M1227,139l3,-2l4,-3l3,-2l4,-3M1236,140l4,-3l5,-2l4,-3l5,-3M1206,107l4,-2l4,-2l4,-2l4,-2M1194,113l5,-3l4,-3l5,-4l5,-2M1241,313l7,-14M1181,344l1,-6l1,-5l0,-5l1,-6" stroke="#9bcfff" stroke-width="2.8"/><path d="M758,281l8,1l8,1l7,1l8,2M858,423l4,3M781,182l6,1l7,1l6,0l6,1M906,458l3,3M829,398l4,2M799,223l14,3l14,3l14,3M761,240l8,1l7,1l8,1l7,1M911,464l2,3M833,159l5,1l5,1l4,1l5,1M812,306l8,3l8,3l8,3l9,3M799,228l4,1l4,1l4,0l4,1M823,348l9,4l8,4l9,4l8,5M1353,179l7,-3l6,-2l7,-2l7,-2M1436,214l7,-2l7,-2l7,-1l7,-2M1372,223l14,-6M1437,139l5,-1l5,0l5,-1l5,-1" stroke="#7cc4ff" stroke-width="1.4"/><path d="M1056,122l6,4l5,4l5,5l5,4M1038,108l5,2l4,2l4,2l4,2M1055,131l4,3l3,3l4,3l3,3M1057,126l12,9M1227,148l11,-9M1204,132l5,-5l6,-4l5,-4l6,-4M1211,328l2,-6l1,-7l2,-6l2,-6M1232,312l5,-15M1193,301l4,-15M1220,120l6,-4l6,-3l6,-3l6,-2M1211,114l4,-3l4,-2l4,-2l5,-2M1228,159l4,-4l5,-4l4,-4l5,-4M1163,332l1,-7l0,-7l1,-7l0,-7M1184,311l1,-4l1,-5l1,-4l1,-5M1209,109l6,-3l6,-3l6,-2l7,-3M1166,337l1,-5l0,-6l1,-6l0,-6M1136,312l0,27M1232,135l6,-4l7,-3l6,-4l6,-3M1210,300l3,-7l2,-7l2,-7l3,-7M1238,295l2,-6l3,-5l3,-6l3,-6M1219,295l2,-6l2,-6l2,-6l3,-5M1156,335l1,-23M1122,331l1,7l0,6l1,7l0,6M1232,317l2,-6l3,-6l2,-7l3,-6M1200,114l5,-4l6,-3l6,-3l6,-3M1237,303l3,-7l3,-6l3,-7l4,-6M1187,324l1,-5l1,-6l1,-5l1,-6M1195,120l5,-4l4,-3l5,-4l5,-3M1144,339l1,-20M1238,308l2,-5l3,-6l2,-5l3,-5" stroke="#cde6ff" stroke-width="2.8"/><path d="M1044,146l4,3l4,4l4,3l4,4M1157,356l0,-6l1,-6l0,-5l0,-6M1155,356l0,-27M1218,331l2,-5l1,-5l2,-6l2,-5M1239,326l3,-7l3,-6l3,-7l3,-7M1173,355l1,-7l1,-7l1,-8l1,-7M1145,364l1,-30M1246,320l1,-4l2,-4l2,-3l2,-4M1216,162l10,-11M1229,329l1,-4l2,-4l1,-4l2,-4M1241,164l5,-4l5,-3l5,-4l4,-4" stroke="#0a9cff" stroke-width="2.8"/><path d="M865,192l17,5l16,6l17,6M839,207l26,8l25,9l25,11M863,211l14,5l14,6l13,5M856,264l14,7l15,7l14,8M845,299l17,8l16,9l16,10M820,432l14,7M850,203l20,6l20,7l19,8M825,445l4,3l5,3l4,2l4,3M849,233l22,8l22,10l21,11M838,447l3,2l4,3l3,2l4,2M839,432l12,8M860,191l20,7l21,7l19,8M1265,332l9,-16l9,-15l10,-15M1264,346l14,-25l15,-24l18,-22M1202,238l5,-12M1184,221l1,-5l2,-5l1,-5l2,-4M1051,240l3,6l3,5l2,6l3,5M1171,259l1,-5l1,-5l0,-5l1,-5M1045,235l7,12M1149,240l1,-16M1163,221l1,-6l1,-7l2,-7l1,-6M1062,222l2,3l2,4l2,4l2,4M1185,237l2,-6l2,-6l1,-6l2,-6M1075,242l2,5l2,5l2,6l1,5M1240,221l6,-9M1135,190l-1,25M1116,251l0,5l1,5l1,5l0,5M1195,240l5,-15M1163,226l2,-15M1109,196l4,15M1242,226l6,-9M1097,212l1,4l1,4l2,4l1,4" stroke="#097ae6" stroke-width="2.0"/><path d="M776,296l8,1l9,2l9,2l9,3M771,276l9,1l9,2l9,2l9,2M1475,172l5,-1l5,0l6,-1l5,0" stroke="#b4dbff" stroke-width="1.4"/><path d="M1063,130l5,4l4,4l5,4l4,5M1051,144l4,4l4,3l4,4l4,4M1056,99l5,1l4,2l4,2l5,2M1042,137l6,5l5,5l6,4l5,6M1064,121l4,4l5,4l4,4l5,4M1031,100l5,1l5,2l4,1l5,2M1072,106l5,3l6,4l5,4l4,4M1062,129l5,5l5,5l5,5l5,5M1154,331l0,-16M1204,330l1,-6l2,-6l1,-6l2,-6M1184,310l1,-6l1,-7l1,-6l2,-7M1211,317l1,-6l2,-6l2,-6l2,-6M1169,320l0,-5l1,-4l0,-5l1,-4M1233,168l4,-4l4,-4l4,-4l4,-3M1160,338l0,-7l1,-7l0,-7l0,-7M1124,327l0,7l1,7l0,7l1,7M1183,315l0,-6l1,-5l1,-6l1,-5M1170,342l1,-6l1,-6l0,-7l1,-6M1204,123l4,-3l5,-3l4,-3l4,-3M1126,315l0,7l1,8l0,7l1,7M1114,334l0,4l1,4l0,4l0,5M1227,324l3,-7l2,-6l3,-6l2,-7M1182,343l0,-5l1,-5l1,-5l1,-5" stroke="#b4dbff" stroke-width="2.8"/><path d="M1037,115l4,2l3,2l4,2l4,2M1050,125l4,3l3,3l4,2l4,3M1036,121l4,2l4,3l4,2l4,3M1042,122l5,3l5,3l5,3l5,3M1229,121l6,-3l6,-3l6,-3l6,-2M1222,306l1,-4l2,-4l1,-4l2,-4M1232,124l13,-7M1241,135l6,-4l6,-3l5,-3l6,-2M1243,288l2,-4l3,-5l2,-5l3,-4M1243,272l2,-5l3,-5l3,-6l3,-5M1182,321l0,-6l1,-5l1,-6l1,-5M1230,287l3,-6l3,-7l3,-7l3,-6M1227,305l2,-5l2,-5l2,-5l2,-6M1238,146l4,-2l3,-2l3,-3l4,-2M1241,136l4,-2l3,-2l4,-2l4,-2" stroke="#ffffff" stroke-width="2.8"/><path d="M907,435l9,9M842,128l17,2l18,3l17,3M719,260l29,1l29,3l29,5M779,415l13,4M840,351l17,9l17,11l16,12M774,395l11,3M817,415l7,4M861,176l28,7l27,10l26,11M869,395l10,8M970,145l19,9l19,11l18,13M843,333l8,5l9,5l8,4l9,6M901,175l9,3l9,3l9,4l9,4M854,196l24,7l23,9l23,10M869,457l3,3l4,3l3,3l4,3M830,195l24,6l24,8l24,8M841,247l9,2l8,3l8,4l8,3M901,421l7,7M821,437l4,2l4,3l4,2l3,2M788,405l10,3M793,396l10,3M835,430l5,3l4,3l5,3l4,3M878,163l23,7l21,7l22,9M838,422l4,3l4,2l4,3l4,3M723,277l22,1l22,2l23,4M772,153l27,2l27,3l28,4M846,340l13,7l13,8l13,9M797,148l9,1l9,1l10,1l9,1M836,436l7,5M843,444l4,3l4,3l4,3l4,3M841,310l12,6l13,6l12,7M921,149l28,10l27,12l25,15M750,404l5,1l5,1l6,1l5,1M845,347l15,9l15,10l15,10M842,293l23,11l22,13l22,15M1256,173l23,-16l25,-12l26,-11M1411,265l9,-4l9,-3l9,-4l10,-3M1254,188l20,-17l23,-14l24,-11M1276,314l4,-7l5,-8l5,-7l5,-7M1276,177l18,-11l19,-10l19,-8M1352,293l23,-17l25,-14l25,-12M1337,298l21,-16l21,-15l23,-14M1251,179l22,-17l24,-13l25,-11M1263,199l20,-17l23,-14l23,-12M1261,330l10,-20l12,-18l13,-18M1499,216l15,-2l14,-1l15,-1M1272,183l16,-12l17,-9l18,-9M1102,303l1,5l1,5l1,5l1,5M932,196l5,3l5,2l5,3l5,3M858,291l5,3l4,2l5,2l4,3M970,295l3,3l3,3l2,4l3,3M1056,199l3,4l2,4l3,4l2,4M998,333l2,4l3,4l2,5l2,4M1250,178l12,-10M1090,305l4,14M966,346l9,12M1182,209l1,-6l2,-5l2,-6l2,-5M1097,180l2,5l2,6l2,6l2,5M1175,207l1,-5l2,-6l1,-6l2,-6M1190,206l4,-10M1001,328l3,5l3,5l3,5l2,5M1077,218l2,4l1,4l2,4l2,4M1063,213l5,10M909,265l4,2l4,3l3,2l4,3M895,269l6,3l5,3l5,3l5,3M972,177l13,8M962,216l5,4l5,3l5,4l5,4M1162,276l0,-6l1,-5l0,-6l1,-5M899,327l3,2l3,3l3,2l4,3M981,306l3,6l4,5l4,6l4,5M930,352l11,11M1264,187l4,-4l5,-4l4,-3l4,-3M938,287l10,9M994,291l7,9M1201,274l1,-5l2,-5l1,-4l1,-5M1112,241l1,7l1,7l1,6l1,7M1059,316l4,15M1196,231l2,-5l2,-6l2,-5l2,-5M874,286l5,3l5,2l5,3l5,3M1207,231l2,-5l2,-4l2,-5l2,-5M1142,266l0,18M900,238l6,4l6,3l6,3l6,4M948,321l4,4l4,5l4,4l3,5M905,319l5,4l4,3l5,4l4,4M995,309l3,4l2,4l2,3l3,4M1121,145l2,5l1,5l1,5l1,5M1021,257l4,5l3,6l3,6l4,5M1070,316l2,5l1,4l1,5l2,5M1021,301l6,11M1152,280l-0,-12M949,271l5,5l4,4l5,5l4,4M955,303l5,5l4,5l4,5l5,6M1016,219l9,10M965,294l4,5l3,4l4,4l3,4M963,262l3,4l4,3l4,4l3,4M1149,286l-0,-25M951,298l10,10M1100,277l3,14M1155,241l1,-25M959,190l4,3l4,2l5,3l4,3M936,280l3,2l3,3l4,3l3,3M926,239l5,3l5,3l4,3l5,3M1215,190l3,-4l2,-5l3,-4l3,-4M867,270l10,5M1065,298l1,4l1,4l2,4l1,5M1205,203l2,-5l3,-6l3,-5l3,-5M1120,187l2,12M868,256l6,2l5,3l5,2l5,3M1065,315l2,5l2,5l1,5l1,5M992,212l4,3l3,3l3,3l3,3M1178,167l2,-4l2,-5l2,-4l1,-4M1033,318l2,4l2,4l2,4l1,4M1203,184l2,-3l2,-4l2,-4l3,-3M984,304l3,4l3,5l3,4l3,5M929,225l5,3l6,4l5,3l6,4M979,223l5,4l5,5l5,5l5,5M944,272l3,3l4,3l3,3l4,4M909,245l4,2l4,2l3,2l4,2M1167,190l1,-5l1,-5l1,-5l2,-5M1199,186l3,-6l3,-6l4,-5l3,-6M946,228l10,7M1136,282l0,21M865,309l4,3l4,2l4,2l4,2M939,341l4,4l3,4l4,5l3,4M993,262l8,10M1064,149l5,5l4,5l4,6l4,5M934,308l4,4l4,3l4,4l3,4M871,343l4,2l4,3l4,3l4,3M1233,205l9,-12M1170,208l3,-11M893,250l4,3l5,2l5,3l4,2M899,285l12,8M1159,245l0,-7l1,-6l1,-7l0,-7M926,236l6,4l6,4l6,4l5,4M950,221l4,3l4,2l3,3l4,2M1076,264l2,5l1,4l2,5l1,4M1030,279l5,10M1203,228l5,-12M879,221l5,2l5,2l5,2l5,3M931,287l8,7M1083,255l2,6l2,7l1,6l2,6M1006,316l3,6l3,5l3,6l3,6M1080,283l1,5l1,5l2,6l1,5M953,328l4,4l3,5l4,5l4,4M958,263l4,5l5,4l5,5l4,4M924,308l11,9M974,213l4,2l3,3l3,3l3,2M1057,220l3,6l3,5l3,6l2,6M993,232l5,5l4,5l5,5l4,5M1230,210l3,-4l3,-4l3,-4l3,-4M1137,175l-1,23M1195,159l2,-3l3,-4l3,-4l2,-4M1137,199l-0,13M1198,223l2,-5l2,-6l3,-6l2,-5M1173,254l1,-6l1,-6l1,-7l1,-6M1091,155l3,4l2,5l2,5l2,5M920,202l10,5M992,211l3,2l3,3l3,3l3,3M1063,254l2,5l1,5l2,5l2,5M1088,195l3,6l2,5l2,6l2,6M1245,218l3,-3l3,-4l3,-3l2,-4M1141,187l-0,15M1032,168l9,8M990,272l3,4l3,4l3,4l3,4M889,357l5,3l5,4l4,4l5,4M1091,300l3,10M1052,319l1,5l2,5l2,4l2,5M894,198l13,6M1161,183l2,-6l1,-7l1,-6l2,-7M1057,206l6,8M1155,264l0,-19M925,244l11,7M886,209l6,3l6,2l6,3l6,2M963,319l3,4l3,3l2,3l3,4M901,222l5,3l6,3l6,3l5,3M1127,211l1,7l0,6l1,7l0,6M914,298l4,4l4,3l5,4l4,4M915,309l4,3l4,4l4,4l4,3M871,290l11,7M898,212l14,6M1095,221l2,7l2,6l2,7l1,6M1147,310l-0,-24M930,305l5,4l4,5l5,4l5,5M1054,322l2,5l2,6l2,6l1,6M1137,209l-0,16M985,297l8,10M1142,173l-0,10M911,336l4,3l4,4l4,4l4,4M987,327l2,3l2,4l3,3l2,4M986,286l7,9M1146,178l-0,-15M1049,304l2,5l2,6l2,5l2,5M1007,336l5,9M1033,171l4,4l4,4l4,4l4,4M966,248l11,10M1018,213l4,4l4,5l4,5l3,5M927,213l6,3l6,3l5,4l6,3M1209,256l1,-6l3,-5l2,-5l2,-5M1008,193l5,4l5,5l4,5l5,5M1109,174l1,6l2,6l2,6l1,6M1019,258l3,4l3,4l2,4l3,4M936,312l5,4l4,4l4,4l4,5M1090,197l2,5l1,4l2,4l1,4M1090,306l3,13M1226,188l6,-9M865,299l5,3l5,3l6,3l5,3M1003,204l10,11M1089,153l3,6l3,6l3,5l2,6M907,342l9,8M1009,275l2,4l3,3l2,4l3,4M1112,145l4,13M890,298l4,2l4,3l4,2l4,3M1075,297l1,6l2,6l2,6l2,7M1102,263l1,7l2,7l1,7l1,6M930,314l3,3l4,3l3,3l4,4M1125,301l1,12M882,265l11,5M1156,247l1,-21M965,321l3,4l3,4l3,4l3,4M1069,179l5,9M1119,257l1,5l1,5l0,5l1,6M1200,190l7,-12M978,196l4,3l5,3l4,4l4,3M1113,267l2,13M1152,253l1,-18M916,347l4,3l4,4l4,4l3,4M988,308l8,12M1143,197l0,15M998,187l4,3l4,3l4,3l4,4M938,250l10,7M969,222l8,6M928,220l13,8M1135,144l-1,28M1252,237l8,-11M933,254l4,3l4,3l4,4l4,3M1016,294l2,4l3,5l2,4l3,5M952,351l9,11M895,335l12,9M952,238l5,3l4,4l5,3l4,4M869,344l3,3l4,2l3,2l4,3M1007,308l3,4l2,4l3,4l2,5M873,336l5,3l4,3l5,3l4,3M897,250l6,4l6,3l6,3l6,4M1068,318l2,5l1,5l2,5l1,5M1165,165l1,-6l2,-6l2,-6l2,-6M1159,298l1,-11M990,279l4,5l4,6l4,5l4,6M923,245l12,8M980,261l4,4l3,4l4,4l3,4M1059,292l4,10M1019,271l3,5l4,6l3,6l3,6M1140,263l-0,23M1026,194l4,5l4,5l4,4l4,5M1025,180l7,7M990,269l4,4l3,5l4,4l3,5M883,355l5,4l5,4l5,4l5,4M1109,300l1,5l1,5l0,6l1,5M952,304l3,3l3,4l3,3l2,3M981,279l8,10M918,256l10,7M1034,298l2,5l3,5l2,6l2,5M1105,276l2,15M1017,204l10,12M1120,241l1,13M1190,278l2,-6l2,-7l1,-6l2,-6M1214,199l7,-13M894,318l12,8M984,313l3,4l3,5l3,4l3,5M983,284l7,9M1010,277l2,3l3,4l2,4l3,4M1123,301l1,7l0,6l1,7l0,6M1073,278l1,6l2,6l2,6l2,6M1246,177l5,-4l4,-4l5,-4l4,-3M1026,311l3,5l2,4l2,4l2,5M866,272l12,6M1242,199l3,-3l2,-4l3,-3l3,-3M1049,255l4,9M1025,284l2,4l3,4l2,4l2,4M1034,173l9,10M1182,237l1,-6l2,-6l1,-5l2,-6M1051,319l2,6l2,6l2,7l3,6M1080,209l5,12M1191,223l2,-4l2,-5l1,-5l2,-4M1015,205l9,11M951,261l9,7M936,340l5,4l4,5l4,5l4,4M1123,264l0,5l1,5l0,5l1,5M1059,156l4,4l3,5l4,4l3,4M889,346l5,4l5,4l5,4l5,4M1146,262l-1,-15M1052,300l3,6l2,6l2,6l2,6M997,202l5,4l4,5l5,5l5,4M1108,267l2,10M1008,316l3,5l3,6l3,5l3,5M1087,243l4,13M1079,270l2,6l2,6l2,6l1,6M1131,154l0,22M882,241l14,7M864,222l6,2l6,2l6,3l6,2M998,192l5,4l5,5l5,4l5,5M880,260l3,2l4,2l4,2l3,2M907,264l4,2l4,2l3,3l4,2M984,283l3,3l3,4l3,3l3,4M1251,179l11,-10M1151,277l-0,-23M878,340l5,4l6,4l5,4l5,4M962,320l7,9M1085,261l2,6l1,7l2,6l2,6M880,270l11,5M1064,224l2,4l2,4l2,4l1,4M952,250l3,3l4,3l3,3l3,3" stroke="#1fa2ff" stroke-width="2.0"/><path d="M1062,106l5,3l4,2l5,3l4,3M1050,114l5,2l4,3l5,3l4,3M1046,119l6,4l6,3l6,4l5,5M1033,131l4,2l3,2l4,3l3,2M1036,128l4,2l4,3l4,2l3,3M1036,109l6,2l5,3l6,3l6,3M1220,168l3,-4l4,-4l4,-4l4,-4M1217,298l2,-6l2,-5l2,-6l2,-6M1195,313l1,-5l1,-5l2,-5l1,-5M1125,325l1,14M1239,313l2,-4l2,-5l2,-4l2,-4M1247,319l3,-6l3,-6l3,-6l2,-5M1169,342l0,-6l1,-6l1,-6l0,-5M1232,280l2,-4l2,-4l2,-4l2,-4M1200,335l1,-6l2,-6l1,-7l2,-6M1141,328l0,15M1221,289l2,-6l2,-6l3,-6l2,-5M1245,296l2,-4l2,-3l2,-4l2,-4M1174,340l1,-5l1,-5l0,-5l1,-5" stroke="#7cc4ff" stroke-width="2.8"/><path d="M816,221l8,2l9,2l8,2l9,2M821,395l9,5M812,275l5,1l5,2l4,1l5,2M1330,220l8,-5l7,-4l8,-4l7,-4M1314,189l6,-4l6,-3l6,-3l6,-3M1300,235l10,-9l11,-9l12,-8" stroke="#5cb8ff" stroke-width="1.4"/><path d="M881,171l14,4l14,4l14,5M743,369l10,1l9,2l10,1l9,2M752,388l10,2M1067,107l13,8M1037,156l6,5M843,263l7,2l6,3l6,2l6,3M902,432l4,4M1291,113l6,-2l7,-1l7,-2l6,-1M1472,240l15,-3l14,-3l14,-1M1314,270l7,-6l7,-6l6,-6l7,-6M1415,254l12,-5l13,-4l13,-4M1449,230l9,-2l9,-2l9,-2l9,-2M1366,146l5,-1l5,-1l4,-1l5,-1M1157,329l-0,-12" stroke="#0a91f7" stroke-width="1.4"/><path d="M865,423l4,3M800,307l4,1l5,1l5,2l4,1M777,241l5,1l6,1l5,1l6,1M1427,145l8,-1l8,-1l8,-1l7,-1M1449,212l5,-1l5,-1l5,-1l6,-1" stroke="#9bcfff" stroke-width="1.4"/><path d="M819,440l11,6M857,452l10,9M844,448l11,8M856,208l18,6l17,6l17,8M819,440l13,8M846,441l11,8M1272,334l10,-17l10,-16l12,-16" stroke="#086fdd" stroke-width="2.0"/><path d="M894,470l3,4" stroke="#085dcd" stroke-width="1.4"/><path d="M949,106l5,1l6,1l5,1l6,1M818,426l5,3" stroke="#0865d5" stroke-width="1.4"/><path d="M796,167l5,0l5,1l5,1l5,0M1307,189l11,-7l12,-6l12,-6M1366,124l8,-2l7,-1l8,-1l7,-1" stroke="#3bacff" stroke-width="1.4"/><path d="M900,107l5,1l6,1l5,0l5,1M1454,234l5,-1l6,-2l6,-1l5,-1M1496,216l5,-1l5,-1l6,0l5,-1M1318,153l5,-2l5,-2l5,-2l5,-2" stroke="#1fa2ff" stroke-width="1.4"/><path d="M875,466l9,10M1483,178l19,-2l19,-1l19,-1" stroke="#0865d5" stroke-width="2.0"/><path d="M848,119l18,2l17,2l18,3M701,353l29,0l29,2l28,5" stroke="#085dcd" stroke-width="2.0"/><path d="M854,213l5,1l5,2l5,1l5,2" stroke="#086fdd" stroke-width="1.4"/><path d="M1246,316l3,-6l2,-6l3,-6l3,-6M1247,314l2,-5l2,-4l3,-4l2,-4M1145,348l-0,-23M1170,356l1,-14M1192,347l2,-14M1229,320l2,-6l2,-6l2,-6l3,-5M1163,364l0,-7l1,-6l0,-6l1,-6M1160,369l0,-7l1,-8l0,-7l1,-7M1239,169l5,-4l5,-4l5,-4l5,-4M1233,329l2,-4l1,-4l2,-4l1,-3" stroke="#0a91f7" stroke-width="2.8"/><path d="M1192,354l1,-8l2,-7l1,-7l2,-8M1232,328l2,-4l1,-5l2,-4l2,-5M1239,105l7,-2l7,-2l6,-2l7,-2M1172,360l1,-7l0,-6l1,-6l1,-6" stroke="#0855c5" stroke-width="2.8"/><path d="M1185,347l1,-5l0,-5l1,-5l1,-5M1219,105l5,-2l4,-2l5,-1l4,-2M1194,352l1,-5l1,-5l1,-6l1,-5M1138,335l-1,18" stroke="#086fdd" stroke-width="2.8"/><path d="M1186,344l1,-8" stroke="#0855c5" stroke-width="1.4"/><path d="M1187,359l1,-7l1,-8l2,-7l1,-7M1145,351l0,-23M1140,331l1,26M1129,339l1,14" stroke="#0985ee" stroke-width="2.8"/><path d="M1209,335l2,-7l1,-6l2,-6l2,-6M1171,361l0,-6l1,-6l1,-6l0,-5M1180,347l2,-16M1215,344l2,-7l2,-7l2,-7l2,-7" stroke="#097ae6" stroke-width="2.8"/><path d="M1150,360l0,-18M1174,353l0,-4l1,-4l0,-4l1,-4M1155,362l1,-26" stroke="#0865d5" stroke-width="2.8"/><path d="M1176,359l1,-6l0,-5l1,-5l1,-5" stroke="#085dcd" stroke-width="2.8"/><path d="M1472,177l10,-2l10,-1l10,-1l9,-1M1459,178l5,-1l5,0l5,-1l5,-1M1437,192l5,-1l4,-1l5,-1l5,-1M1448,186l14,-2l15,-2l15,-2" stroke="#cde6ff" stroke-width="1.4"/><path d="M1115,224l0,6M1093,309l1,6M1176,250l1,-6M1139,198l-0,6M1120,187l0,4M1099,276l1,6M1184,177l2,-5M1139,287l0,8M1142,262l-0,8M1161,204l0,5M1195,228l3,-8M1143,267l-0,9M1122,169l-0,9M1173,196l2,-8M1084,228l2,5M1121,253l-0,4M1101,234l2,9M1169,249l-0,5M1154,184l0,7M1113,168l0,7M1109,211l2,9M1172,295l-0,6M1142,219l-0,8M1126,268l-0,4M1120,272l-0,7M1181,248l1,-4M1179,202l2,-5M1162,296l0,9M1117,233l-0,8M1178,238l1,-6M1132,249l-0,8M1195,262l2,-7M1087,232l2,6M1135,184l0,6M1140,234l0,7M1176,192l2,-6M1152,188l-0,4M1194,200l3,-8M1149,192l0,6M1136,208l-0,9M1163,292l0,4M1187,217l1,-4M1162,211l0,5M1127,211l0,6M1163,259l0,6M1147,274l-0,4M1181,254l1,-6M1161,208l-0,4M1112,248l1,4M1133,215l-0,5M1140,205l-0,7M1148,231l-0,7M1088,184l3,5M1195,218l3,-8M1185,178l2,-7M1196,259l2,-5M1166,183l-0,4M1116,206l0,4M1173,257l-0,5M1159,292l-0,5M1143,270l0,8M1195,244l2,-6M1184,172l2,-5M1149,228l-0,5M1101,312l1,5M1089,210l3,7M1115,199l0,6M1189,242l2,-9M1096,279l2,8M1171,200l0,6M1089,210l3,8M1139,222l-0,6M1132,275l0,8M1096,235l2,5M1151,235l0,8M1111,154l2,5M1123,229l0,9M1173,192l1,-5M1149,156l-0,5M1159,214l-0,7M1146,237l0,4M1198,234l2,-5M1153,279l0,7M1144,230l-0,6M1163,280l-0,4M1170,256l0,8M1085,236l2,6M1095,255l2,7M1084,167l4,8M1136,236l-0,5M1096,261l2,7M1187,261l2,-8M1187,256l1,-5M1184,202l3,-8M1154,220l0,5M1186,256l2,-9M1181,220l2,-8M1181,203l2,-8M1084,292l1,5M1194,253l2,-6M1118,194l-0,9M1162,238l-0,8M1156,271l0,7M1167,227l0,5M1138,265l0,5M1173,184l0,5M1171,223l0,7M1169,225l-0,8M1179,192l1,-5M1142,215l0,8M1131,301l-0,9M1125,280l-0,8M1160,201l0,7M1173,208l-0,7M1194,292l2,-7M1131,291l0,9M1099,252l2,7M1111,284l1,7M1084,280l2,6M1179,246l2,-8M1118,206l0,7M1117,228l-0,5M1122,173l-0,9M1146,281l-0,7M1146,252l0,9M1087,284l1,5M1192,281l1,-5M1189,227l3,-8M1150,234l0,7M1087,175l3,7M1123,263l-0,7M1090,324l1,5M1123,236l-0,6M1176,209l2,-7M1194,216l2,-6M1157,199l0,5M1134,275l0,6M1166,223l0,4M1110,191l1,5M1107,278l1,5M1170,277l-0,7M1109,324l1,9M1101,243l2,6M1115,269l-0,5M1168,250l0,7M1193,215l1,-4M1124,244l-0,5M1092,190l2,5M1127,219l0,5M1195,237l1,-4M1146,191l0,5M1119,256l0,8M1132,163l-0,6M1177,251l1,-4M1120,274l0,5M1160,243l0,6M1188,243l1,-5M1090,216l2,5M1195,260l2,-7M1124,243l-0,6M1176,210l1,-5M1111,169l2,7M1191,258l1,-4M1162,253l-0,8M1141,237l-0,5M1166,261l0,9M1173,163l-0,7M1093,188l3,7M1103,257l1,7M1188,184l2,-5M1132,230l0,6M1198,260l2,-6M1171,192l-0,7M1194,197l3,-7M1101,242l2,7M1175,195l2,-6M1142,220l0,4M1194,256l2,-8M1183,295l1,-6M1085,302l2,8M1173,244l1,-5M1105,187l2,5M1166,187l0,4M1132,209l-0,8M1113,294l-0,6M1136,170l0,5M1121,189l0,8M1147,225l-0,5M1105,265l1,5M1155,214l0,6M1178,249l1,-7M1117,315l0,7M1106,215l1,6M1089,256l2,6M1086,323l1,7M1178,227l1,-4M1166,202l-0,9M1175,266l1,-5M1177,229l1,-6M1173,224l1,-5M1167,180l0,5M1165,207l0,7M1166,203l-0,5M1125,278l0,7M1171,251l-0,8M1200,210l4,-8M1160,209l-0,8M1162,239l-0,8M1086,234l2,5M1186,235l2,-6M1146,226l-0,8M1168,278l-0,7M1181,220l2,-8M1085,263l1,4M1169,183l-0,7M1187,225l1,-5M1121,287l0,5M1097,202l2,7M1088,263l1,5" stroke="#000008" stroke-width="3.2"/><path d="M1025,311l4,8M884,345l4,4l5,3l4,3l4,4M1157,309l0,-5l1,-6l0,-5l0,-6M1175,254l1,-6l1,-6l1,-6l2,-5M1108,259l1,5l1,5l1,5l1,5M879,247l14,6M1018,214l7,8M1187,180l4,-10M876,243l10,5M1075,205l2,4l2,5l2,4l2,5M936,354l8,9M1183,215l2,-4l1,-5l2,-4l1,-5M1149,264l-0,-20M959,196l5,3l4,3l5,3l4,3M965,212l3,2l4,3l3,2l3,3M876,264l4,2l4,2l5,2l4,2M1020,322l4,7M914,214l5,2l5,3l5,2l4,3M1010,264l3,4l2,3l3,4l2,4M1076,160l8,13M1131,205l0,8M970,241l11,11M991,289l3,3l3,4l2,3l3,4M1118,256l1,10M1174,184l3,-9M878,249l5,2l5,3l5,2l5,3M922,277l9,7M1010,294l6,9M1111,276l1,6l1,5l1,5l0,5M1064,165l9,12M999,342l5,8M1125,157l2,9M981,337l3,4l3,5l3,5l3,5M931,266l4,3l3,3l4,3l3,3M1035,280l6,11M1153,213l-0,-14M1222,222l2,-4l2,-4l3,-4l2,-4M1274,191l10,-8M1058,164l4,4l3,4l3,4l3,4M1060,279l4,9M885,215l14,5M1276,217l9,-8M1083,217l4,10M991,229l3,3l4,3l3,4l3,3M1149,243l0,-10M981,293l3,4l3,4l2,3l3,4M1043,241l3,5l3,5l3,5l2,6M929,269l4,3l4,3l3,3l4,3M975,286l8,9M1063,302l4,12M949,250l3,3l4,3l3,3l3,3M1227,231l6,-12M909,361l9,9M958,279l3,3l3,3l3,3l3,3M1152,222l1,-15M985,311l4,5l3,5l3,5l3,5M1248,179l3,-3l3,-3l4,-3l3,-3M916,241l9,6M1038,191l3,3l3,4l2,3l3,3M1147,228l-0,-16M1027,256l8,13M1102,313l2,10M1008,293l2,4l3,4l3,5l2,4M1194,265l2,-8M974,305l3,3l2,4l3,3l3,4M1159,185l3,-16M924,363l7,7M903,297l4,3l4,3l5,3l3,3M928,265l4,3l3,3l4,2l3,3M1020,237l7,9M887,203l5,2l6,2l5,2l5,2M894,368l8,7M1197,161l5,-8M1113,243l1,12M1050,312l2,4l1,4l2,4l1,4M1251,190l10,-9M999,246l8,10M1112,229l0,5l1,4l1,5l1,5M977,336l4,5l3,5l3,5l3,5M1069,304l3,12M1044,181l10,12M948,284l4,4l4,4l4,3l3,4M1101,296l1,4l0,5l1,4l1,4M861,302l10,5M1252,238l3,-4l3,-4l3,-4l3,-4M1213,194l5,-8M979,337l2,4l3,4l3,4l2,4M1154,177l-1,-17M1106,186l2,4l1,3l1,4l1,4M1043,221l6,10M1236,212l8,-11M1000,295l7,10M1123,197l2,8M940,219l8,6M1212,231l4,-9M1164,182l2,-10M938,215l12,7M1239,240l6,-10M1163,231l2,-15M861,323l4,2l4,2l4,3l3,2M1053,168l3,3l3,4l3,4l3,3M1056,176l9,12M1161,202l1,-4l1,-4l0,-4l1,-4" stroke="#0846b6" stroke-width="2.4"/><path d="M1282,191l4,-3M1001,212l6,6M975,322l5,7M1238,228l6,-10M904,310l4,3M1034,224l6,8M964,209l5,3M979,206l6,5M1285,221l8,-7M987,205l6,5M1021,286l5,8M1033,282l5,10M1045,166l4,4M943,257l5,4M1259,225l4,-4M1240,216l5,-8M1028,263l5,7M1016,243l4,5M1208,210l5,-11M1049,268l3,7M993,237l7,8M1071,199l3,5M1209,230l4,-10M892,279l9,6M1287,206l6,-5M1056,280l2,5M1246,218l3,-5M909,211l10,4M1048,282l5,11M997,192l9,8M892,353l8,6M1078,330l2,8M1259,203l4,-4M979,290l7,8M1204,246l2,-5M1050,306l2,5M999,247l5,6M966,218l8,5M1075,212l3,7M975,265l5,5M1071,213l4,9M1234,231l6,-10M1268,251l7,-9M1036,243l3,5M1077,214l3,7M1006,271l4,5M1007,255l4,5M1017,222l4,4M1272,162l6,-4M969,356l5,7M1053,255l3,6M1044,276l4,7M1237,266l4,-8M923,332l7,7M1042,280l4,10M849,227l10,3M1215,214l5,-9M874,198l10,3M1050,220l5,9M974,230l9,8M1270,223l6,-6M1246,178l4,-4M890,334l5,4M1022,210l5,7M1272,259l5,-8M898,249l6,3M1276,216l4,-5M1231,197l3,-4M890,288l5,3M1010,205l4,4M1280,204l5,-4M1254,220l3,-4M1218,261l2,-6M982,256l7,7M1063,215l6,10M971,198l7,4M1074,279l4,11M1229,213l3,-5M1051,285l4,9M852,267l6,2M1075,206l5,10M1071,258l2,5M1224,275l5,-11M1216,278l3,-8M1248,257l4,-7M854,229l9,3M1076,334l2,7M1059,229l3,5M894,191l11,4M1003,333l3,6M931,254l10,7M1066,254l3,8M1054,308l2,6M978,306l6,7M1283,197l4,-4M1051,234l3,4M1239,208l5,-8M1003,280l6,9M1259,191l8,-7M1052,184l7,9M1267,223l3,-4M1012,297l5,8M990,304l4,5M1256,178l4,-4M1224,213l3,-5M962,271l6,6M1024,228l5,6M1217,166l8,-9M883,214l10,4M1229,168l4,-4M1001,194l6,5M1019,275l6,9M1206,197l4,-7M1273,168l10,-7M1206,290l2,-7M1202,255l3,-10M1040,184l8,9M1271,212l4,-4M1078,245l2,7M889,254l10,5M964,240l8,6M1040,241l5,8M1064,190l5,8M1276,205l5,-5M935,281l9,8M1070,185l4,6M1237,221l4,-6M965,197l9,6M1013,305l3,5M947,320l4,4M1025,288l6,10M965,241l6,5M1047,282l4,9M1294,202l8,-6M1241,196l4,-4M952,209l7,4M1219,267l4,-8M885,324l7,5M1068,294l2,5M1296,225l4,-4M939,242l8,6M1204,199l3,-6M1080,247l3,10M1212,206l5,-11M1206,274l2,-6M1011,304l5,9M983,256l8,8M979,208l7,6M1277,242l4,-4M1053,264l4,10M1031,304l3,6M923,344l6,5M925,225l8,5M1025,312l3,6M1078,216l4,9M905,185l6,2M1248,186l8,-9M1005,218l4,4M1012,203l7,7M896,277l8,5M1247,200l7,-9M967,352l4,5M1213,245l3,-9M1211,191l5,-8M1022,215l3,4M1203,281l2,-5M1222,276l3,-7M943,184l5,3M982,361l4,5M919,365l6,6M891,335l5,4M1257,212l6,-8M1070,308l2,7M1052,240l4,9M1026,186l7,7M1265,194l5,-5M1235,253l3,-7M1243,234l4,-6M1045,276l4,8M847,286l11,5M1230,207l4,-5M1208,170l6,-9M1074,233l4,10M1271,258l3,-4M1073,200l4,7M976,257l4,4M1075,215l5,10M1304,208l8,-6M1251,250l3,-6M1055,281l4,9M1218,216l5,-9M1071,211l3,6M1245,246l6,-10M1226,265l3,-6M1218,255l3,-8M880,293l6,3M1041,177l5,5M1051,224l3,6M1048,201l3,4M1240,261l4,-7M907,189l9,4M1209,258l2,-5M1234,231l5,-9M1262,221l5,-6M997,189l5,4M895,266l7,4M1204,292l3,-11M1080,280l3,11M958,240l4,3M893,325l5,3M1068,298l2,7M1000,217l6,7M1070,231l2,5M1068,234l4,9M1223,238l5,-10M1079,216l3,6M1249,227l4,-7M991,190l6,4M1205,181l5,-8M1000,274l5,6M1023,250l6,10M1242,237l6,-9M1225,266l4,-8M1263,192l6,-5M1070,271l2,6M989,231l4,4M1060,226l4,6M1221,281l2,-5M1299,229l5,-4M1047,234l3,5M1038,229l3,5M1264,239l5,-6M1209,231l4,-9M1023,297l4,8M1283,224l8,-8M1036,193l5,5M1220,203l5,-8M956,212l5,4M1002,192l4,4M1062,212l3,5M1078,288l3,11M959,238l8,6M1262,241l3,-4M853,236l8,3M938,302l6,6M1035,188l6,7M1029,209l4,5M1022,262l4,6M1049,247l4,7M1065,183l5,8M1218,205l5,-8M1062,245l2,5M1242,195l8,-9M975,200l5,3M1043,194l6,9M960,345l3,4M868,233l9,4M1271,242l4,-4M1074,182l5,9M1278,209l8,-7M1025,288l3,6M1220,197l3,-5M996,253l4,5M888,283l8,5M1031,211l6,7M1218,280l3,-10M942,238l7,5M1256,173l8,-7M913,242l4,3M981,249l7,8M1266,182l7,-6M1072,159l6,9M1231,262l3,-6M1020,233l4,4M980,230l8,8M894,213l6,3M928,209l5,2M867,359l9,6M1237,209l3,-4M1227,237l3,-6M1022,219l5,6M1017,218l4,5M1248,235l5,-8M1037,282l5,10M1228,256l6,-10M1270,209l8,-8M998,237l5,6M963,357l6,8" stroke="#000008" stroke-width="2.7"/><path d="M1176,167l5,-14M997,192l4,3l4,3l4,3l3,4M873,342l9,6M1002,212l8,8M982,187l3,3l4,2l4,3l3,2M865,271l5,2l4,2l5,3l4,2M1240,206l8,-10M1103,197l1,4l1,4l1,4l1,4M975,255l7,7M1042,249l7,13M1143,159l1,19M1159,207l1,-5l1,-5l0,-4l1,-5M1094,155l5,11M1070,298l2,4l1,4l1,5l2,4M965,179l5,3l5,2l4,3l5,3M954,275l9,8M907,327l11,9M962,317l6,7M974,320l3,4l3,5l3,4l4,5M877,202l4,1l4,2l4,1l5,2M1263,228l3,-4l3,-3l3,-4l3,-3M1057,303l3,8M898,242l8,4M1113,223l0,5l1,4l1,4l1,4M1170,250l3,-15M1058,194l3,4l3,5l3,5l2,4M1085,197l4,10M1142,199l-0,11M932,280l4,4l4,3l4,4l4,4M936,230l13,8M948,337l10,11M985,327l7,10M1069,235l2,4l2,5l2,5l2,5M1225,197l6,-10M1238,235l3,-4l2,-3l2,-4l2,-3M1145,284l-0,-19M1203,170l9,-13M1037,257l2,4l2,5l3,4l2,4M1175,218l3,-13M1083,191l4,9M1099,220l2,5l1,5l1,5l1,5M1263,179l12,-9M943,310l10,10M911,304l5,3l4,4l4,3l4,4M1192,266l3,-11M975,314l5,7M1103,197l1,4l1,5l1,4l2,5M865,302l4,2l3,2l4,2l4,2M987,185l3,2l4,3l3,2l3,2M1109,151l1,4l1,4l2,4l1,4M1092,227l1,5l2,6l2,6l1,6M929,301l8,8M1208,269l4,-13M879,279l12,6M927,195l5,3l5,2l5,3l5,3M887,322l9,6M892,230l12,6M907,336l11,10M969,241l3,3l4,3l3,3l4,4M1094,219l5,15M1200,268l4,-15M883,228l5,2l5,3l5,2l5,2M922,306l11,9M1134,290l-0,22M973,280l3,4l3,3l3,4l3,3M1044,250l4,9M895,333l7,6M1172,291l1,-10M883,252l12,6M989,334l2,4l3,4l2,4l2,3M898,318l11,9M1048,249l4,8M1189,158l5,-8M877,339l5,3l4,3l4,3l5,4M1219,188l3,-4l2,-4l3,-3l3,-4M1080,268l4,15M1125,191l0,5l1,4l0,4l1,5M1102,153l2,5l2,5l2,5l2,5M930,207l5,2l4,3l5,2l4,3M949,331l3,3l3,3l2,3l3,3M1004,312l7,13M878,352l5,3l4,3l4,4l4,3M1126,238l0,5l0,5l1,4l0,5M1189,275l4,-13M910,254l5,3l5,3l4,3l5,3M1217,194l6,-9M1207,260l2,-6l2,-5l3,-6l2,-5M1185,284l1,-4l1,-4l1,-4l1,-5M909,272l5,2l4,3l4,3l4,3M1093,154l2,4l2,4l2,5l2,4M899,228l5,3l5,2l5,3l4,2M1167,235l2,-12M994,337l6,9M1140,204l-0,20M891,342l4,3l3,2l4,3l3,3M1063,164l5,7M1194,292l1,-5l2,-6l1,-5l1,-6" stroke="#083eae" stroke-width="2.4"/><path d="M966,190l4,3l4,2l4,3l4,3M933,242l12,8M1101,323l2,11M861,301l5,3l6,3l5,3l5,3M1017,186l5,4l4,4l4,5l4,4M890,322l5,4l5,3l4,3l5,4M917,307l4,3l3,3l3,2l3,3M1065,148l4,4l4,4l3,5l4,4M978,210l9,7M1026,329l2,4l2,3l2,4l1,4M1026,173l7,7M977,354l2,4l2,3l2,4l3,3M1202,283l1,-4l2,-4l1,-4l1,-4M1112,292l2,15M949,177l5,2l5,3l5,3l5,2M908,184l10,4M1218,273l5,-12M1290,183l11,-6M903,280l12,7M1262,189l4,-4l4,-4l5,-3l4,-4M1147,167l-1,-21M1083,153l3,5l3,5l3,5l2,5M989,266l3,4l3,4l3,4l3,4M914,252l11,6M879,189l14,5M1021,305l2,3l2,4l2,3l2,4M969,334l6,9M896,367l9,8M1041,310l4,10M898,222l8,4M884,333l5,3l4,3l4,4l5,3M953,175l14,7M886,274l5,2l4,3l5,3l5,3M985,339l3,4l3,5l2,4l3,5M1207,288l4,-14M892,315l10,7M1002,218l10,12M1257,160l10,-7M872,238l9,3M1226,169l9,-10M1061,326l3,9M1287,205l3,-3l4,-3l3,-2l4,-3M1126,315l1,15M1023,169l9,8M1147,167l-0,-17M985,310l9,12M1234,167l9,-9M1056,302l1,4l2,5l1,4l2,5M1243,186l4,-4l4,-4l4,-4l3,-3M935,361l10,12M853,233l13,4M845,321l5,3l5,2l5,3l5,3M905,311l8,6M1045,288l2,4l1,4l2,4l2,4M858,328l12,7M899,231l11,6M1134,307l-1,19" stroke="#085dcd" stroke-width="2.4"/><path d="M979,209l9,7M1246,227l7,-10M955,239l12,10M1150,304l-0,-21M916,237l13,7M1151,172l-0,-17M897,287l5,3l4,3l5,3l4,4M1158,214l1,-5l0,-6l1,-5l1,-5M1247,186l11,-11M910,329l3,3l3,2l3,3l3,3M912,198l12,6M958,236l4,3l3,3l4,3l4,3M876,297l13,8M1074,298l1,5l2,6l1,5l2,5M1070,168l3,4l2,5l3,4l3,5M932,292l4,3l4,4l4,3l4,4M1072,164l3,4l3,5l3,5l2,4M874,337l10,6M949,348l4,4l3,4l3,4l3,5M967,295l10,11M1008,242l8,9M1123,169l3,14M1096,213l5,15M987,248l3,3l3,3l3,3l2,3M1195,243l1,-5l2,-4l1,-5l2,-4M958,288l6,7M1173,265l2,-9M1068,194l8,13M1116,220l1,6l1,6l1,6l1,6M968,331l3,4l3,4l3,4l3,4M903,279l7,4M1033,222l7,11M1262,180l3,-3l4,-3l4,-2l3,-3M999,227l2,3l3,3l3,3l3,3M1095,296l2,10M1084,194l2,4l2,4l2,5l2,4M1069,152l4,4l3,5l4,5l3,5M1095,169l3,8M1106,168l4,10M944,266l4,4l3,3l4,3l4,4M948,200l5,3l4,3l5,3l5,3M1001,322l2,4l3,4l2,4l2,4M873,278l9,5M924,245l4,3l4,3l5,3l4,3M1125,200l2,9M1220,219l3,-5l2,-5l3,-4l3,-5M1135,256l-1,24M1144,256l0,-16M948,335l4,4l3,4l4,5l3,4M1170,241l1,-5l1,-6l1,-5l1,-5M1115,175l2,5l1,6l1,5l1,5M1217,238l3,-5l2,-6l3,-5l3,-5M1020,203l4,4l4,4l3,5l4,4M1133,186l0,22M1140,226l-0,10M1162,298l2,-14M1143,206l0,12M947,238l8,6M873,302l5,2l4,3l4,2l5,3M1028,173l8,8M1071,313l3,9M1054,184l9,12M1053,275l3,7M1146,174l0,-19M1046,219l3,5l3,4l2,5l3,5M1006,233l3,4l3,4l4,3l3,4M1165,295l1,-4l0,-4l1,-4l0,-4M1114,248l1,6l0,5l1,6l1,6M947,256l7,6M944,258l3,2l3,3l3,3l3,2M1045,319l4,8M1198,215l4,-8M1011,214l6,7M938,342l10,11M1041,215l7,9M1064,227l7,14M931,313l3,3l3,3l3,3l3,3M990,308l6,8M1193,233l5,-14M1057,271l5,12M1055,197l2,4l3,4l2,4l2,4M957,319l7,8M958,318l4,5l4,4l3,5l4,4M910,283l7,5M914,336l9,8M920,310l4,2l3,3l3,3l3,3M1046,216l3,5l3,4l3,5l3,5M1175,166l3,-8M1155,163l-0,-16M881,283l7,4M999,186l5,4l4,3l4,3l3,4M1100,292l1,4l1,4l0,4l1,4M1007,244l10,12M1226,221l4,-7" stroke="#0835a6" stroke-width="2.4"/><path d="M1285,228l7,-7M1303,194l11,-7M1179,309l1,-6l1,-6l1,-6l1,-6M1232,161l4,-3l3,-3l4,-4l4,-3M876,373l4,3l4,3l3,3l4,3M1259,247l4,-5l3,-4l3,-5l4,-4M1262,265l5,-7M844,283l13,5M1299,209l8,-6M1119,317l1,10M917,178l4,2l4,2l4,1l4,2M1274,245l10,-11M1255,252l6,-10" stroke="#0985ee" stroke-width="2.4"/><path d="M866,264l8,4M1085,322l2,9M1103,314l1,6l1,6l1,6l0,5M1282,237l3,-4l4,-3l3,-4l4,-3M1019,331l3,5l2,5l3,5l2,5M882,186l15,4M875,341l7,5M864,327l12,7M1050,326l1,5l2,5l2,5l2,5M864,206l15,4M1275,238l5,-6M1265,237l2,-3l3,-3l3,-3l2,-4M982,174l11,7M1255,167l9,-7M852,253l9,4M853,233l5,2l5,2l5,2l5,1M958,180l5,3l5,3l5,2l5,3M1163,308l1,-10M1234,260l2,-4l2,-4l2,-4l2,-4M1225,275l1,-4l2,-4l2,-4l1,-3M1058,327l4,11M1253,234l6,-8M893,366l4,3l3,4l4,3l4,4M975,353l2,4l3,4l3,4l2,5M866,331l11,7M1295,196l10,-7M846,279l4,2l5,2l5,2l5,2" stroke="#086fdd" stroke-width="2.4"/><path d="M1009,206l4,4l4,4l4,5l4,4M1261,223l4,-5l3,-4l4,-4l4,-4M1142,211l-1,24M1256,207l4,-4l3,-3l3,-4l3,-3M1039,216l9,13M909,242l8,4M1145,224l1,-21M885,254l5,2l5,3l4,2l5,3M1020,280l7,13M1196,248l4,-14M1097,210l3,12M1204,181l2,-4l3,-4l2,-4l2,-4M1160,243l1,-5l0,-5l1,-5l0,-5M1200,226l5,-12M885,309l11,7M1144,291l1,-16M1156,170l1,-5l1,-6l0,-5l1,-5M1042,297l5,13M1108,281l2,12M1162,299l1,-13M1064,174l3,5l3,5l3,5l3,5M917,306l10,8M938,323l4,4l3,4l4,4l3,3M1191,171l2,-5l3,-4l2,-5l3,-5M975,231l7,6M1024,267l7,13M1164,252l1,-6l1,-5l0,-6l1,-6M1032,182l8,9M1068,187l6,12M1241,220l2,-4l3,-3l2,-3l3,-4M950,255l9,7M1094,167l2,4l2,5l2,4l2,5M1121,215l2,15M1167,274l0,-6l1,-5l1,-6l1,-6M1179,187l3,-10M1095,203l3,9M1172,264l2,-12M946,258l4,3l4,4l4,4l4,3M912,303l11,10M922,322l8,8M1150,308l-0,-21M1146,226l-0,-21M1073,187l5,11M903,248l8,5M1014,211l4,5l4,4l3,4l4,5M954,268l10,8M1044,196l3,4l3,4l2,4l3,4M940,285l4,4l4,4l3,3l4,4M1090,206l5,12M1041,264l4,8M1060,293l1,4l2,4l1,4l1,3M1060,282l5,13M1041,242l3,5l3,5l3,6l2,5M1155,210l0,-19M1016,227l3,3l3,4l3,4l3,4M939,327l4,4l4,4l3,4l4,4M1232,212l3,-5l3,-5l4,-5l3,-4M1242,237l3,-5l4,-4l3,-5l3,-5M908,255l7,5M987,289l9,11M962,280l3,4l4,4l3,4l4,4M1038,211l8,12M968,341l3,4l3,4l2,3l3,4M930,327l10,10M1009,282l3,4l2,4l2,3l3,4M1009,253l6,9M1070,278l3,9M1018,304l5,9M1038,211l5,7M1157,217l0,-19M1024,289l4,7M1266,216l7,-8M1085,263l4,15M1163,194l2,-11M1096,278l1,6l2,5l1,6l1,5M1013,284l6,10M1208,198l5,-10M1098,212l2,6l1,5l2,6l1,5M923,321l9,9M1263,224l10,-11" stroke="#05259b" stroke-width="2.4"/><path d="M1241,173l6,-6M1071,148l3,4l3,3l3,4l2,4M1049,312l2,4l1,5l2,4l1,4M1037,212l3,4l3,5l3,4l3,4M1109,170l3,9M1196,194l2,-5l3,-5l2,-5l3,-5M889,234l4,2l4,2l4,2l4,2M876,350l4,2l3,3l3,2l4,2M970,285l3,3l2,3l3,4l3,3M855,324l12,7M1048,319l2,5l2,4l1,5l2,5M1072,211l6,12M930,291l6,6M880,220l5,2l5,2l5,3l5,2M1228,220l3,-4l3,-5l3,-4l3,-5M884,292l13,8M1077,282l2,5l1,4l2,5l1,5M1174,253l0,-5l1,-5l1,-5l1,-5M897,256l9,5M1080,201l2,4l1,3l2,4l2,4M1041,190l3,4l3,4l3,4l3,5M1022,211l3,4l3,4l4,4l3,4M889,363l4,3l4,3l3,3l4,3M1034,243l5,7M1148,276l0,-9M1206,172l9,-12M1131,267l-0,17M1091,256l1,6l2,5l1,6l1,5M1279,179l3,-2l4,-3l3,-2l4,-2M1219,218l6,-9M1075,208l2,4l2,5l2,5l2,5M980,351l6,8M1057,245l5,13M936,303l8,8M896,222l4,2l4,2l4,2l4,2M994,330l7,13M1035,212l3,4l3,4l2,4l3,4M1100,186l4,13M1218,233l5,-9M879,296l10,6M1153,209l-0,-22M1200,222l2,-5l2,-5l2,-5l3,-5M891,277l4,2l4,3l3,2l4,3M1051,273l2,4l1,3l2,4l2,4M892,285l4,3l4,3l4,2l4,3M1156,167l0,-22M1192,216l5,-13M958,188l10,6M970,179l9,6M933,335l3,4l4,4l4,4l3,5M1037,269l7,13M1248,236l6,-10M957,206l10,7M903,337l12,10M1020,237l2,3l3,3l2,3l2,4M971,276l10,11M1148,298l-1,-22M1252,222l4,-4l3,-4l3,-4l3,-4M1174,222l2,-11M1143,298l-0,12M947,203l11,7M881,303l10,6M864,347l4,3l4,2l4,3l4,3M1116,270l0,5l1,6l1,5l0,6M1109,218l2,10M865,348l10,6M867,304l5,2l5,3l5,3l4,3M1006,208l3,3l3,3l3,3l2,3M941,183l5,2l5,2l4,3l5,2M1011,225l4,4l3,5l4,5l3,4M891,203l5,1l4,2l5,2l4,2M1143,179l0,13M1275,182l5,-3l4,-3l5,-4l4,-3M1018,245l5,7M903,208l12,5M1060,317l4,11M1225,202l5,-8M1025,317l2,4l2,4l2,4l1,5M894,333l10,7M897,218l5,2l5,3l5,2l5,2M1105,234l2,6l1,5l1,5l1,5M924,267l7,6M969,278l4,4l4,5l4,4l4,4M1049,179l3,4l3,4l3,5l4,4M1114,311l2,14M967,357l6,8M979,210l4,3l4,4l5,4l4,3M951,332l3,4l3,3l3,4l3,3M1051,267l4,8M940,225l4,3l3,3l4,2l4,3M1053,223l2,4l2,4l2,4l3,4M1120,230l1,5l1,6l0,6l1,5M1192,186l4,-9M1007,330l7,14M1045,264l5,11M1133,201l-0,20M1124,196l1,6l0,5l1,6l1,5M865,288l4,3l5,2l4,2l5,3M1094,175l7,14M909,278l12,8M1115,205l2,10M919,209l7,4M1132,155l0,16M1130,174l-1,22M862,281l7,3" stroke="#084ebe" stroke-width="2.4"/><path d="M940,333l4,5l4,4l4,5l3,4M962,293l3,3l4,4l3,4l3,3M1055,238l6,11M1070,187l7,12M976,173l12,8M942,181l14,7M1007,293l3,5l3,5l4,5l2,5M1254,208l9,-9M1120,168l1,5l1,5l1,6l1,5M1167,180l1,-5l1,-5l1,-4l2,-5M1284,207l10,-9M1072,265l4,11M978,203l5,3l5,4l4,3l4,4M963,287l8,9M998,213l3,3l3,4l3,3l4,3M978,299l3,4l3,3l2,4l3,4M1260,217l4,-4l4,-4l3,-4l4,-4M985,233l3,3l3,3l3,3l3,3M961,172l9,4M1174,285l1,-4l1,-4l0,-4l1,-4M1104,265l3,14M1162,278l0,-5l1,-6l0,-5l1,-5M1004,250l4,5l3,4l3,4l3,4M984,164l5,3l5,3l5,3l4,3M878,212l13,5M1051,308l3,10M1045,178l4,5l4,5l3,4l4,5M1017,221l7,8M986,315l3,4l4,5l3,5l3,5M1112,306l1,5l0,5l1,5l0,5M1131,278l0,11M1189,270l2,-9M1008,296l3,4l2,4l3,4l2,4M902,284l4,3l4,3l5,3l4,3M1151,271l0,-18M1258,171l8,-7M997,234l6,6M1291,203l11,-8M904,309l12,9M919,308l12,9M1111,275l0,6l1,5l1,6l1,6M973,198l7,5M1283,214l4,-4l4,-3l4,-4l5,-3M1017,272l3,4l2,4l3,4l3,5M964,263l4,4l4,4l3,4l4,4M1096,193l1,4l2,4l1,4l1,4M921,274l5,3l4,3l5,4l4,3M952,289l3,4l4,3l4,4l3,4M932,257l11,8M1048,171l3,4l4,4l3,5l4,4M1079,246l2,5l2,5l1,6l2,5M982,296l3,4l3,4l3,4l3,4M1104,301l0,4l1,5l1,4l0,4M1077,189l4,8M915,283l3,3l4,3l4,3l4,3M1057,205l7,11M1086,314l3,13M1097,311l2,11M1135,279l-0,19M1205,285l1,-4l2,-5l1,-4l2,-5M1147,312l1,-23M1022,184l4,3l4,4l4,4l3,5M1072,168l5,7M901,281l3,2l4,2l4,3l3,2M1004,168l4,2l3,3l4,3l3,2M1138,199l0,9M995,166l12,8M1203,257l2,-4l1,-5l2,-4l2,-5M1047,323l2,6l2,6l2,5l2,6M998,337l8,12M950,293l7,7M1203,182l8,-13M1061,274l5,13M982,337l4,5l3,5l3,5l2,4M932,181l9,3M961,323l7,9M949,207l10,7M1033,265l2,4l2,3l2,4l2,4M1104,237l1,5l1,5l1,5l1,5M1150,260l0,-14M1049,261l6,11M1251,170l9,-8M1104,258l3,13M879,326l10,7M1081,303l4,15M1237,252l3,-5l3,-5l2,-5l3,-5M1012,187l10,9M1017,251l2,4l3,4l3,5l3,4M895,342l12,10M1002,278l6,7M904,226l5,2l4,2l4,2l4,3M1152,170l-0,-9M964,318l6,7M1187,300l1,-5l1,-5l1,-5l1,-5M1020,175l6,5M1034,201l6,8M1088,268l2,8M1091,153l3,4l2,4l2,4l2,4M878,269l4,2l3,2l4,2l4,2M1019,288l6,12M1061,226l3,5l2,4l2,5l2,4M857,244l5,2l5,2l4,2l5,2M1021,241l3,4l3,4l2,4l3,4M879,263l14,7M1178,244l2,-10M1205,225l5,-11M960,220l4,3l3,3l4,3l4,3M960,246l9,8M985,343l6,11M1132,298l0,24M1117,256l1,10M1021,228l2,4l3,3l2,3l3,4" stroke="#0855c5" stroke-width="2.4"/><path d="M1063,213l3,5l2,5l2,4l3,5M1031,253l7,13M1187,188l5,-11M1216,220l4,-8M1008,209l7,8M1142,252l0,10M1062,247l2,5l2,5l2,5l2,5M1006,235l3,3l3,4l3,4l2,3M948,284l4,4l4,4l3,4l4,3M1009,243l7,9M1144,216l-1,-16M1163,189l1,-6l1,-5l1,-5l1,-6M1024,242l8,12M1019,244l3,4l2,3l2,3l3,4M1085,254l4,13M952,247l4,3l4,3l4,4l3,3M1160,296l1,-15M1175,263l2,-8M1031,212l6,8M1121,252l1,13M1171,271l2,-14M977,262l3,3l3,3l3,4l2,3M1044,234l6,9M1191,268l3,-15M1089,192l6,12M1128,207l2,13M993,317l7,12M959,244l4,3l3,3l3,3l3,3M1028,247l8,11M947,231l5,3l4,4l4,3l5,4M1024,204l8,9M1192,286l1,-5l2,-6l1,-6l2,-5M1157,231l1,-6l0,-5l1,-6l0,-6M1197,272l1,-5l2,-5l1,-5l2,-5M939,251l4,3l4,3l4,3l3,3M1164,180l3,-14M1024,243l5,7M1132,221l0,20M987,254l3,3l4,4l3,4l3,4M1002,300l3,5l3,4l3,5l3,5M1045,215l3,4l2,3l3,4l2,4M1108,225l3,13M1129,169l0,17M1084,217l2,5l2,5l1,6l2,5M1160,203l1,-5l0,-5l1,-5l1,-5" stroke="#031690" stroke-width="2.4"/><path d="M1293,232l3,-3l4,-3l3,-3l3,-3M854,352l13,8M1266,264l3,-4l3,-4l2,-4l3,-4M1047,336l2,5l1,5l2,4l1,5M847,232l12,4M934,367l9,11M844,309l8,4M873,377l4,2l3,3l3,2l4,3M1247,262l2,-4l2,-4l3,-4l2,-4M1051,147l4,3l3,3l4,4l3,3M1230,282l2,-5l2,-5l2,-5l3,-5" stroke="#0a9cff" stroke-width="2.4"/><path d="M871,243l14,6M892,191l4,2l3,1l4,1l4,2M1114,150l3,8M1280,230l10,-9M1138,150l-0,12M1240,259l6,-12M890,311l12,9M1269,224l9,-9M884,259l7,4M858,231l5,2l5,2l5,2l5,2M1219,268l3,-9M920,184l13,5M932,182l8,4M881,328l7,5M1085,145l5,8M1085,298l4,14M878,211l7,3M885,324l4,2l4,3l3,2l4,3M946,181l9,5M1037,164l4,3l3,3l4,4l3,3M1215,283l1,-4l1,-3l2,-4l1,-4M1103,315l0,4l1,4l1,4l0,5M853,249l4,1l4,2l4,1l4,2M882,228l5,2l5,3l5,2l5,2M1022,300l3,4l2,5l2,4l2,5M872,284l9,5M870,282l14,7M1027,168l10,10M881,360l10,9M1260,178l9,-8M1268,238l6,-7M1289,190l11,-8M1220,271l3,-5l2,-5l2,-5l2,-5M888,351l10,8M1056,319l3,8M905,342l10,9M1232,260l3,-5l2,-6l3,-5l3,-5M871,273l4,2l4,2l3,1l4,2M1174,158l4,-11M1225,162l9,-10M1271,176l9,-7M879,189l10,3M855,224l9,3M981,352l4,8M883,191l4,1l5,2l4,2l5,1M1035,311l2,4l2,4l2,4l1,4M1220,262l2,-4l2,-5l2,-4l2,-5M899,344l3,3l4,3l3,3l3,3" stroke="#0865d5" stroke-width="2.4"/><path d="M852,341l9,6M974,168l4,2l4,2l4,2l3,2M878,370l4,3l4,2l3,3l4,3M1216,158l6,-7M1285,202l3,-3l4,-3l4,-3l4,-3M1146,323l0,-19M869,366l7,5M956,173l5,2l5,3l6,3l5,3M1253,242l6,-9M887,193l4,1l4,2l4,1l4,2M1221,264l6,-14M852,276l5,2l5,2l5,3l5,2M1299,192l7,-5M925,182l6,3l5,2l5,2l5,3M1058,335l3,11M977,354l5,7M1278,187l3,-3l3,-2l3,-3l4,-2M1036,337l4,9M922,364l3,3l4,4l3,3l3,4M843,238l5,2l5,1l4,2l5,1M1204,289l4,-14M969,354l8,12M914,185l10,4M1278,226l4,-4l4,-3l3,-4l4,-3M1221,277l2,-4l1,-4l2,-5l2,-4" stroke="#097ae6" stroke-width="2.4"/><path d="M1183,271l1,-4l0,-4l1,-4l1,-4M1227,220l7,-12" stroke="#010684" stroke-width="2.4"/><path d="M1268,243l3,-4l3,-3l3,-4l3,-4M1269,263l3,-4l3,-3l2,-4l3,-3M1250,257l5,-8M1263,248l3,-3l2,-3l3,-3l2,-3M851,234l12,4M1275,247l4,-4l3,-4l4,-5l4,-4M1274,240l2,-4l3,-3l3,-3l3,-3" stroke="#1fa2ff" stroke-width="2.4"/><path d="M844,288l7,3M848,288l5,2l5,2l5,3l4,2M1299,195l7,-5M1216,290l1,-5l2,-5l2,-4l2,-5M1246,260l3,-4l2,-3l2,-4l2,-3M850,227l9,3M1266,259l9,-12M846,221l6,1l5,2l5,2l6,2M1229,164l9,-9M847,261l5,2l5,2l5,2l4,2M1270,243l3,-3l3,-3l3,-4l3,-3M1223,271l2,-5l2,-4l2,-4l2,-5M933,177l14,7" stroke="#0a91f7" stroke-width="2.4"/><path d="M1306,222l3,-3l4,-3l3,-2l4,-3M1243,266l6,-11" stroke="#3bacff" stroke-width="2.4"/><path d="M1283,240l4,-5l4,-4l4,-4l5,-4" stroke="#5cb8ff" stroke-width="2.4"/><path d="M1143,331l-0,14M971,385l5,8M964,386l4,5M907,414l8,9M1141,330l-0,11M1009,398l5,13M979,400l7,14M1015,354l6,13M1063,378l2,8M961,387l3,6M1006,409l4,10M911,421l7,8M1051,362l3,10M1088,379l2,12M1024,352l6,13M877,381l11,9M963,450l6,10M1049,344l3,7M1009,391l4,10M1036,359l5,12M1078,375l1,9M910,391l10,11M1043,376l5,15M1080,383l2,11M1007,383l4,7M918,383l8,8M1041,347l4,11M1074,360l2,11M1087,385l2,11M1082,366l3,15M975,432l6,11M1030,397l5,13M1043,383l4,11M981,443l4,7M951,366l9,12M931,381l7,9M1013,398l5,11M1085,351l3,14M1004,435l3,7M1144,344l0,-13M981,433l4,9M1041,384l3,9M1010,361l4,7M974,382l4,6M975,386l7,11M997,416l3,7M960,432l4,7M911,405l7,7M976,449l4,9M982,432l5,9M933,398l9,13" stroke="#0a91f7" stroke-width="1.8"/><path d="M1104,344l1,7M1074,349l2,10M962,373l7,10M963,388l6,10M1037,391l3,7M969,401l7,12M1105,344l1,7M980,406l6,10M976,383l7,12M944,437l5,8M952,417l5,7M977,418l6,10M1091,373l1,9M1104,371l1,8M1057,367l3,12M935,371l6,7M955,431l7,12M1061,381l4,14M973,367l7,11M998,367l5,11M976,452l4,8M989,428l6,13M1049,384l3,13M938,387l4,6M1037,345l4,12M910,378l5,5M995,390l4,7M946,416l4,5M1065,337l3,11M1020,360l3,7M1108,330l1,7M1073,382l4,14M1074,352l2,10M907,398l6,6M963,398l8,14M995,365l3,6M969,380l6,9M907,385l8,8M933,421l6,8M1130,324l0,13M939,394l4,5M1039,376l3,8M967,385l4,5M1107,327l2,10M1081,380l2,11M983,408l5,11M952,395l9,13M921,409l7,8M949,413l7,10M979,391l3,6M997,413l6,13M918,390l7,8M1119,352l1,8M986,436l6,13M916,379l9,9M907,384l5,4M1036,343l5,14M942,423l5,6M1078,380l2,8M985,411l3,6M1036,377l3,7M1047,360l2,7M1106,359l1,10M1039,395l4,10M1027,407l5,15M1056,385l1,6M937,437l4,6M1096,363l1,7M954,419l8,12M926,413l8,9M902,391l4,4" stroke="#b4dbff" stroke-width="1.8"/><path d="M912,416l2,2M1021,372l2,4M933,410l4,5M1067,354l1,5M1006,373l3,5M1055,390l1,3M1009,427l1,3M1114,373l0,5M1079,365l1,5M956,430l3,4M1126,341l0,4M1005,437l2,5M1037,390l1,5M979,448l2,3M1079,377l1,5M952,441l3,5M1131,332l-0,4M980,403l2,3M979,365l2,3M1090,339l1,4M1074,377l1,6M957,382l3,4M1010,434l1,4M1066,360l1,3M984,393l3,5M1040,387l2,5M990,393l3,5M1080,359l1,5M961,463l2,4M957,409l3,5M1011,406l2,5M1143,348l0,5M1093,373l1,4M1110,363l0,4M1011,418l2,5M988,429l2,5M1099,342l1,6M927,427l2,3M951,420l3,4M1131,346l0,6M1065,373l1,4M992,378l2,3M1056,404l2,6M935,391l4,4M990,412l2,4M984,425l2,3M949,437l3,4M1096,333l0,4M949,384l2,3M896,391l2,2M1010,357l2,5M936,398l3,5M1148,355l0,-6M1055,356l1,4M1113,333l0,4M1038,406l1,4M1035,359l2,4M1044,411l1,5M994,425l2,5M998,385l2,3M1102,371l1,6M1069,364l1,4M1139,330l0,6M1090,372l1,5M975,381l3,4M1138,320l-0,4M980,430l1,3M1046,411l1,5M1019,413l2,5M1133,368l-0,5M980,449l1,3M1147,355l0,-4M942,376l3,3M992,444l2,5M950,398l3,4M925,434l4,5M952,418l2,3M1126,360l0,5M1034,420l1,4M954,456l2,4M981,440l2,3M1062,399l1,3M1013,433l2,4M1032,392l2,5M939,427l2,3M788,457l14,6l13,6l13,7M857,467l12,11l12,12l11,12M794,493l5,2l4,2l4,2l4,2M787,464l4,2l4,2l4,1l5,2M726,460l10,1l10,1l10,1l10,1M744,402l6,0l6,1l6,1l6,1M747,420l8,1l9,2l8,1l8,2M734,444l14,1l14,3l14,3M782,494l6,2l5,2l6,3l5,2M878,477l7,7l6,7l6,7l6,8M738,456l4,0l5,1l5,0l5,1M854,461l7,6l6,5l6,6l6,6M836,471l10,8l11,9l10,9M790,495l5,2l5,3l5,2l5,3M790,424l13,5l12,6l13,6M805,438l4,2l4,2l4,2l4,2M735,458l7,1l7,1l7,1l7,1M757,402l15,3l15,4l14,5M797,427l13,6l14,7l12,7" stroke="#000008" stroke-width="1.8"/><path d="M1085,356l3,14M943,393l6,9M1105,348l2,15M996,357l5,9M986,411l6,11M992,403l5,10M1052,401l3,11M1003,384l7,14M918,380l5,6M1077,360l2,11M1060,346l3,7M949,441l5,8M998,433l6,15M1034,410l4,11M1132,333l0,9M1045,372l4,13M1132,319l0,8M966,392l5,7M919,403l5,5M1000,434l3,8M999,371l7,13M968,454l6,11M1002,433l6,13M1020,400l5,12M957,419l5,8M1004,433l3,8M1000,411l6,13M1000,380l5,10M1058,380l3,13M1117,332l0,8M1018,412l4,11M975,407l5,10M928,386l8,9M913,400l8,9M991,371l7,13M1102,331l2,12M1104,348l2,14M1129,339l0,12M937,431l9,12M953,375l6,8M1034,359l2,6M1029,399l3,7M981,402l6,12M1032,371l4,11M1039,405l3,10M952,417l7,12M1124,335l0,13M982,427l6,11M931,373l9,9M1007,407l4,10M936,398l6,8M957,420l8,13M1037,392l3,8M956,390l4,7M942,429l8,12M1052,394l2,8M919,374l7,7" stroke="#0985ee" stroke-width="1.8"/><path d="M1144,374l-0,-13M1131,370l-0,7" stroke="#010684" stroke-width="1.8"/><path d="M1031,403l3,8M1137,346l-0,12M930,433l5,7M1014,418l4,9M1004,383l3,6M1070,376l2,7M920,421l8,11M950,389l9,13M1145,351l-0,-14M1036,414l2,6M971,404l6,11M885,400l10,9M1020,382l3,7M984,386l4,6M997,430l4,9M1129,355l1,11M951,385l8,11M926,423l9,11M1142,336l0,7M919,427l6,7M1008,432l4,10M959,402l4,6M1051,405l2,8M1128,358l0,10" stroke="#5cb8ff" stroke-width="1.8"/><path d="M978,407l6,11M1086,379l2,12M954,423l6,10M980,442l4,9M988,444l5,10M1017,424l5,13M1055,399l4,14M1124,346l1,12M981,393l7,13M1042,378l3,10M993,421l6,13M982,399l5,9M1070,368l2,8M966,425l5,9M1005,394l6,13M1054,398l2,8M1043,369l4,12M1009,417l3,9M1022,385l6,15M959,443l8,13M979,424l4,8M1001,420l5,11M1023,383l4,11M1075,381l3,12M1091,363l1,7M918,403l8,9M1028,361l5,14M978,379l8,14M1017,406l4,10M1065,366l2,9M1127,342l1,14M960,393l5,8M1076,381l3,15M1033,375l3,9M1053,381l2,9M1067,395l1,7M964,440l4,6M949,427l4,6M1003,423l2,6M1037,400l3,12M1016,378l2,6M1025,387l4,9M926,430l4,6M969,432l3,6M1010,420l5,14M953,420l9,13M979,428l4,9M974,383l6,9M990,417l5,11M1110,350l1,10M1011,371l5,11M979,417l6,12M1004,382l5,12M1053,368l2,7" stroke="#7cc4ff" stroke-width="1.8"/><path d="M968,411l7,12M933,401l7,8M943,441l6,10M1051,356l3,9M1032,414l5,15M1055,355l2,9M1046,404l5,14M938,404l6,8M1048,364l3,9M1039,357l5,14M990,371l6,10M1032,401l4,13M1017,367l4,11M907,390l6,6M1047,385l2,6M946,401l8,13M919,386l6,6M1063,388l2,7M984,383l3,5M1012,389l5,12M994,399l7,14M1057,395l4,14M1056,382l3,12M1038,392l2,6M1027,405l6,15M1089,380l2,9M1076,359l3,10M1126,337l0,15M984,441l4,8M1016,391l3,9M1012,406l6,14M1064,375l3,10M1111,357l1,8M1054,356l4,12M966,404l7,13M1060,378l3,10M921,404l6,7M937,412l5,8M919,408l5,6M983,376l6,11M989,437l4,8M1044,400l3,10M944,438l7,11M1064,396l1,6M1025,397l3,8M949,423l5,7M954,428l9,13M978,393l7,13M1084,361l3,15M992,391l5,10M963,445l3,6M1066,353l2,11M956,393l8,12M1024,409l3,9M1083,383l2,10M973,408l6,12M1075,346l3,15M1120,347l0,9M984,434l4,8M900,392l8,8M1099,350l1,11M960,374l9,12M1062,384l2,7M1041,374l5,15M1036,410l3,9M1019,364l5,12M1100,364l1,10M960,386l7,10M1049,391l2,6M961,397l5,7" stroke="#9bcfff" stroke-width="1.8"/><path d="M1114,325l1,10M941,447l4,7M916,418l5,6M924,405l6,8M945,447l6,9M1144,354l-0,-10M922,402l9,10M1136,354l-0,11M1042,365l4,13M941,437l7,10M885,377l11,9M946,448l8,13M1134,323l0,8M1132,355l0,15M927,371l10,12M889,401l11,11M1010,398l4,9M1062,357l2,6M982,368l3,5M1145,350l0,-7M926,387l6,8" stroke="#0a9cff" stroke-width="1.8"/><path d="M1080,341l2,12M1082,335l3,13M1140,345l-0,11M1147,361l-0,-16M1043,349l4,13M1121,364l1,12M1140,325l0,8M971,362l6,11M886,381l12,10M1089,333l2,7M1133,347l-0,14M954,371l4,5M949,373l7,9M1141,344l0,11M1140,321l0,13M1112,326l1,7" stroke="#3bacff" stroke-width="1.8"/><path d="M993,401l6,12M964,445l7,11M1051,379l5,14M1041,410l2,7M1084,349l2,9M1043,390l2,8M992,415l7,14M1063,395l3,11M1107,351l1,6M920,398l6,7M1106,374l1,10M1126,349l0,10M934,414l6,8M988,436l4,8M1071,385l3,16M1034,410l3,11M974,412l5,11M955,431l6,11M972,410l7,13M938,408l7,9M977,371l6,9M1095,383l1,9M1075,383l3,15M953,420l8,12M1137,318l0,12M1103,356l1,6M1070,376l2,6M936,404l6,7M957,403l4,7M944,420l7,11M1023,386l3,8M970,367l8,12M1040,409l4,11M915,400l5,5M1109,340l2,14M954,451l7,10M1129,341l1,13M1022,398l4,10M983,431l3,6M1033,415l3,10M1001,402l5,10M1021,407l6,15" stroke="#097ae6" stroke-width="1.8"/><path d="M954,410l6,9M1099,379l1,12M1061,395l3,12M947,439l6,9M1055,389l4,14M1049,378l2,7M974,375l4,6M1019,390l5,12M1105,376l1,11M1068,352l3,10M938,404l7,9M1026,406l4,11M938,421l6,8M1009,408l4,10M1030,376l5,15M1015,421l3,8M986,390l7,14M1072,367l4,14M1092,377l2,13M978,433l5,8M935,438l5,8M969,441l7,12M976,412l5,9M1006,430l3,6M1022,367l5,13M1042,409l3,11M1140,362l0,12M1090,374l1,11M942,440l9,13M924,408l5,5M952,446l5,9M1039,364l3,7M988,421l5,10M997,377l4,7M955,409l6,9M1011,378l3,8M1095,341l2,13M1111,355l1,7M1054,382l3,12M1102,346l2,16" stroke="#086fdd" stroke-width="1.8"/><path d="M1016,370l5,13M991,441l6,12M1143,340l-0,7M1109,364l1,9M946,419l7,10M1102,358l1,9M1047,406l3,13M1092,381l3,14M960,440l6,11M1138,365l0,11M1113,368l1,11M1135,356l0,8M980,382l8,14" stroke="#085dcd" stroke-width="1.8"/><path d="M1100,345l2,14M966,365l8,11M1036,349l3,8M1107,332l1,7M957,449l7,13M1094,335l1,7M1074,340l2,8M1040,366l3,9M925,376l4,5M938,404l4,6M959,377l9,13M1012,401l5,11M990,381l3,7M908,382l7,7M936,416l4,5M1019,403l5,14M986,404l3,6M998,364l5,8M1056,359l2,8M932,407l7,9M957,375l8,10M970,408l3,6M1003,407l3,6M920,376l6,7M1060,351l2,8M1089,341l2,10M1070,386l2,9M1081,371l3,12M910,394l11,12M1057,370l3,10M1037,348l3,10M913,389l8,9M1071,356l2,8M971,409l6,11M964,446l5,10" stroke="#cde6ff" stroke-width="1.8"/><path d="M947,374l9,11M1013,357l5,13M1092,334l2,10M1121,332l1,13M1095,338l1,9M986,368l4,7M894,392l5,4M877,380l10,7M1091,333l1,8M1036,350l6,14M905,409l7,8M998,357l6,10M969,364l6,10M945,374l4,5M1085,331l2,11M974,368l5,8M1128,329l0,13M933,422l4,6M1004,362l5,11M1020,353l3,7M918,419l6,7M985,363l6,10M970,369l6,8M897,395l10,10M1047,353l4,9M948,452l5,9" stroke="#f2f8ff" stroke-width="1.8"/><path d="M1083,345l3,13M955,458l4,6M1061,344l2,8M936,422l4,6M1140,322l-0,15M963,379l3,5M1084,339l3,15M952,456l4,6M1142,323l-0,14M975,374l5,8M906,381l11,11M1030,348l6,13M952,375l5,8M1091,345l1,8M911,375l10,10" stroke="#e6f2ff" stroke-width="1.8"/><path d="M1134,321l-0,15M1101,331l2,11M900,409l7,7M1113,333l1,11M900,397l11,11M907,415l8,8M884,383l7,6M890,398l9,9M883,389l6,5M925,422l8,10M930,428l7,10M884,383l10,8M921,418l6,8M878,377l9,7M1141,322l-0,9M932,426l6,8M917,378l8,9M898,403l10,9M925,421l9,11M899,403l7,7M902,406l9,10M930,434l9,13M1096,333l2,12" stroke="#ffffff" stroke-width="1.8"/><path d="M1010,420l6,13M1005,417l4,8M1101,371l1,9M1024,384l4,12M1091,382l3,15M966,414l4,6M1003,369l3,6M1052,376l3,11M1084,383l2,9M1133,347l1,15M1008,369l6,12M988,429l3,6M1059,376l3,10M1051,368l3,8M939,417l4,6M1134,342l-0,13M973,448l5,8M1100,361l2,13M1105,357l1,13M1041,386l5,15M937,413l8,12M955,390l9,12M1059,391l2,7M1043,370l2,6M1068,353l5,15M941,389l10,13M1112,348l1,14M1127,359l1,14M1009,409l5,11M1074,385l2,10M960,409l5,8M1148,360l0,-10" stroke="#0865d5" stroke-width="1.8"/><path d="M1138,357l-1,16" stroke="#05259b" stroke-width="1.8"/><path d="M1097,327l2,13M987,363l3,6M966,371l8,13M955,459l5,9M1135,345l-1,15M1045,353l4,11M931,421l5,7M906,415l9,9M927,379l8,9M909,418l8,9M1073,342l4,14M1020,360l6,13M1129,333l1,11" stroke="#1fa2ff" stroke-width="1.8"/><path d="M1138,339l-0,10M1121,353l1,11" stroke="#0855c5" stroke-width="1.8"/><path d="M1122,368l1,11M1143,357l-0,14" stroke="#0835a6" stroke-width="1.8"/><path d="M1127,365l1,16" stroke="#0846b6" stroke-width="1.8"/><path d="M1150,370l-0,-10" stroke="#031690" stroke-width="1.8"/><path d="M1128,363l0,6" stroke="#083eae" stroke-width="1.8"/><path d="M1143,364l-0,10" stroke="#00007b" stroke-width="1.8"/><path d="M1115,374l1,8" stroke="#084ebe" stroke-width="1.8"/><path d="M1505,422l17,-4l16,-3l17,-1M1516,606l9,-2l8,-2l9,-2l8,-1M1498,501l7,-2l6,-2l7,-2l7,-2M1449,530l12,-9l13,-8l13,-7M1510,477l17,-4l17,-3l18,-1M1510,398l17,-3l17,-2l18,-1M1489,267l14,-2l14,-2l14,-2M1517,337l6,-1l6,-1l5,-1l6,0M1486,460l7,-3l6,-2l7,-2l8,-3M1528,490l14,-2l14,-1l14,0M1476,378l13,-5l13,-3l13,-4M1419,340l7,-4l8,-4l8,-4l8,-4M1493,524l6,-2l6,-2l5,-2l6,-2M1472,588l6,-4l7,-3l6,-4l6,-3M1465,581l15,-9l16,-8l16,-8M1516,243l17,-1l16,-1l16,-1M1536,236l14,0l14,-1l14,0M1495,280l15,-2l15,-2l15,-2M1426,323l13,-6l12,-5l13,-5M1474,497l6,-3l6,-3l6,-2l6,-3M1476,566l13,-7l13,-6l13,-5M1494,569l5,-2l5,-3l6,-2l5,-2M1501,526l16,-5l15,-4l16,-3M1456,502l5,-4l5,-3l5,-3l5,-3M1542,518l6,-1l6,0l6,0l6,0M1503,261l8,-1l8,0l7,-1l8,-1M1533,557l7,-1l7,-1l7,-1l7,0M1516,363l6,-1l6,-1l6,-1l5,0M1462,588l14,-10l14,-8l14,-7M1467,327l8,-3l9,-3l8,-2l9,-2M1477,396l6,-3l7,-2l7,-3l8,-2M1510,585l10,-3l9,-2l9,-3l10,-1M1509,442l8,-2l8,-1l8,-2l9,-1M1498,556l5,-2l5,-2l6,-2l5,-1M1460,553l6,-4l7,-4l6,-4l7,-4M1518,504l5,-1l5,-1l4,-2l5,0M1450,323l9,-3l9,-3l9,-3l9,-3M1487,601l15,-7l16,-6l17,-5M1472,314l14,-4l13,-3l14,-3M1525,433l5,-1l5,-1l6,-1l5,0M1439,347l17,-7l17,-7l17,-5M1460,370l8,-4l8,-3l9,-3l8,-2M1438,439l14,-9l15,-8l15,-7M1501,547l13,-5l15,-4l14,-2M1485,342l9,-2l9,-3l9,-2l9,-1M1475,314l16,-5l16,-3l16,-3M1471,379l15,-5l15,-5l16,-3M1529,435l15,-2l16,-1l16,0M1524,535l9,-2l10,-1l9,-1l9,-1M1480,287l14,-3l15,-3l14,-2M1478,276l16,-4l16,-2l16,-3M1512,475l6,-2l6,-1l7,-1l6,-1M1511,235l14,-1l15,-1l15,-1M1493,610l14,-7l14,-5l14,-4M1492,563l7,-3l7,-2l7,-3l7,-3M1491,489l14,-5l14,-4l14,-3M1447,504l13,-8l13,-8l14,-8M1489,386l8,-3l8,-2l8,-2l8,-2M1506,365l6,-1l5,-1l6,-1l6,-1M1515,316l16,-2l16,-1l16,-1M1465,504l5,-2l5,-3l5,-3l5,-3M1531,316l17,-1l16,-1l16,0M1499,581l14,-6l15,-4l14,-3M1485,412l6,-2l6,-2l6,-2l6,-2M1521,269l10,-1l9,-1l9,0l10,-1M1536,523l9,-1l8,0l9,-1l9,0M1422,276l6,-2l6,-3l6,-2l7,-3M1515,502l8,-1l7,-2l8,-1l8,-2M1509,483l5,-1l6,-1l5,-2l5,-1M1488,587l16,-7l17,-6l18,-5M1504,415l5,-1l6,-1l5,-2l5,-1M1517,468l6,-2l6,-1l6,-1l7,-1M1488,579l9,-4l8,-4l9,-3l9,-4M1491,285l13,-3l13,-2l13,-1M1428,426l8,-6l9,-5l8,-5l9,-5M1522,550l15,-3l15,-1l15,-1M1468,425l6,-3l6,-3l7,-3l6,-2M1449,499l15,-9l14,-8l15,-7M1492,463l8,-3l9,-3l8,-2l8,-2M1455,296l9,-3l8,-2l9,-3l9,-2M1462,253l9,-3l10,-2l9,-2l9,-1M1425,336l8,-4l8,-4l9,-4l8,-4M1471,515l4,-2l5,-3l5,-2l4,-3M1498,239l14,-2l14,-1l13,-1M1432,443l13,-8l14,-8l13,-8M1538,254l9,0l8,0l9,0l8,0M1458,595l8,-6l8,-5l8,-6l9,-5M1489,464l15,-5l14,-5l15,-3M1484,357l6,-2l7,-2l6,-1l7,-2M1436,334l6,-3l6,-2l6,-3l7,-3M1463,344l7,-3l7,-2l7,-3l7,-2M1481,422l5,-2l5,-2l6,-2l5,-1M1479,416l14,-5l15,-4l14,-4M1451,499l13,-9l14,-8l14,-7M1510,403l7,-1l7,-1l7,-2l8,-1M1466,320l13,-4l14,-4l14,-3M1470,397l15,-6l16,-5l16,-4M1457,480l6,-4l7,-3l7,-4l6,-3M1456,588l5,-3l4,-3l4,-3l5,-3M1544,578l7,-1l6,0l7,0l7,0M1513,245l6,-1l6,-1l6,0l6,-1M1464,304l5,-2l5,-1l5,-2l5,-1M1525,337l9,-1l8,-1l9,0l9,-1M1507,377l15,-3l15,-2l16,-1M1479,608l5,-3l5,-3l5,-3l5,-2M1470,336l7,-3l8,-2l9,-2l8,-2M1443,573l14,-11l14,-10l15,-10M1498,518l8,-3l9,-3l8,-2l9,-2M1476,374l5,-2l6,-1l5,-2l5,-2M1479,557l16,-8l17,-7l17,-5M1416,341l16,-8l16,-8l17,-7M1523,600l5,-1l6,-2l6,-1l6,-1M1544,381l8,0l8,0l8,0l8,0M1425,372l13,-7l13,-7l13,-6M1517,461l6,-2l5,-1l5,-1l5,0M1437,288l15,-5l15,-5l16,-4M1454,426l8,-5l9,-4l8,-4l9,-3M1496,529l14,-5l15,-4l15,-3M1443,402l8,-4l8,-4l8,-4l8,-3M1492,565l6,-3l6,-2l7,-3l6,-2M1426,426l8,-5l8,-6l8,-5l9,-5M1536,301l6,-1l6,0l5,0l6,0M1463,422l13,-6l14,-5l14,-5M1440,322l8,-3l7,-3l8,-3l7,-3M1423,295l7,-3l6,-2l7,-3l7,-3M1444,514l14,-9l14,-9l14,-8M1507,241l15,-1l15,-1l15,-1" stroke="#000010" stroke-width="3.0"/><path d="M1475,430l18,-6l17,-6l18,-4M1423,363l11,-7l12,-6l12,-6M1486,311l8,-2l8,-1l7,-2l8,-1M1538,547l14,-1l14,0l15,0M1502,574l13,-4l14,-4l15,-3M1503,563l14,-4l15,-4l14,-3M1478,531l4,-2l5,-3l4,-2l5,-2M1450,497l8,-6l8,-5l8,-4l9,-5M1517,420l5,-1l5,-1l5,-1l5,-1M1466,587l5,-3l5,-3l5,-3l5,-3M1485,579l6,-3l6,-3l6,-3l6,-2M1539,330l6,0l7,0l6,-1l6,0M1486,276l9,-2l9,-1l9,-2l10,-1M1498,513l9,-3l9,-3l10,-2l9,-3M1493,399l14,-3l14,-4l14,-2M1469,563l4,-3l5,-2l4,-3l5,-3M1511,395l8,-1l8,-1l8,-2l8,-1M1516,319l5,-1l6,-1l5,0l6,-1M1533,348l15,-1l16,0l16,0M1456,604l6,-5l7,-5l7,-5l7,-5M1445,522l14,-9l14,-9l15,-8M1481,564l15,-7l15,-6l16,-5M1435,339l14,-6l14,-6l14,-5M1453,574l8,-6l8,-5l7,-5l8,-5M1471,505l5,-3l6,-3l5,-3l6,-2M1476,393l18,-6l17,-4l18,-4M1500,534l17,-5l17,-4l17,-3M1460,578l13,-9l13,-8l14,-7M1455,515l8,-5l9,-5l8,-5l9,-4M1458,510l13,-8l14,-7l14,-6M1526,236l5,-1l5,0l5,0l5,-1M1501,544l17,-5l17,-4l16,-3M1414,270l9,-4l9,-4l9,-3l9,-3M1518,483l8,-2l9,-2l9,-1l8,-1M1484,448l13,-5l14,-4l13,-3M1534,302l15,0l14,-1l15,0M1533,408l17,-1l16,0l17,-1M1518,547l18,-4l17,-2l18,0M1516,533l14,-4l15,-2l14,-1M1431,479l15,-10l14,-10l16,-8M1455,406l13,-6l14,-5l13,-5M1484,430l14,-4l14,-4l14,-4M1502,430l6,-2l7,-2l7,-1l7,-2M1452,418l4,-3l5,-2l4,-3l5,-2M1429,288l15,-6l15,-5l15,-5M1517,496l8,-2l8,-1l8,-2l9,-1M1441,537l14,-11l15,-10l15,-9M1496,573l9,-4l9,-3l9,-3l9,-2M1465,449l8,-3l7,-4l8,-3l8,-3M1519,361l16,-2l15,-2l16,0M1520,449l15,-3l14,-1l15,-1M1441,417l7,-4l7,-4l7,-4l7,-3M1492,487l13,-4l13,-4l14,-3M1477,419l8,-3l8,-3l8,-3l9,-2" stroke="#085dcd" stroke-width="2.6"/><path d="M1499,603l6,-3l6,-2l6,-2l6,-2M1467,580l9,-5l9,-5l8,-5l9,-4M1494,322l8,-1l8,-2l8,-1l9,-2M1467,280l17,-4l17,-3l17,-3M1504,572l15,-4l14,-4l15,-3M1479,383l7,-2l8,-3l8,-2l8,-2M1536,470l7,0l8,-1l8,0l7,0M1457,432l9,-5l9,-4l9,-4l9,-4M1476,455l13,-5l13,-5l14,-4M1516,307l6,0l5,-1l6,-1l5,0M1451,376l6,-2l6,-3l6,-3l6,-2M1451,554l14,-10l16,-10l16,-8M1517,576l9,-2l9,-2l9,-2l9,-1" stroke="#0865d5" stroke-width="2.6"/><path d="M1457,540l8,-6l9,-5l8,-5l9,-5M1470,293l17,-5l16,-3l17,-3M1436,356l15,-7l15,-7l16,-6M1512,315l5,0l6,-1l6,-1l6,-1M1478,606l13,-8l14,-6l14,-6M1480,471l13,-6l14,-5l15,-4M1434,464l11,-8l11,-7l12,-7M1491,279l8,-2l8,-1l8,-1l8,-1M1433,453l6,-4l6,-4l6,-4l6,-4M1492,463l5,-2l5,-2l4,-2l5,-1M1540,276l7,0l7,0l7,0l7,0M1485,278l9,-2l10,-1l9,-2l9,-1M1538,577l8,-1l7,-1l8,0l8,0M1479,404l8,-3l7,-2l8,-2l8,-3M1493,489l6,-2l5,-1l5,-2l6,-2M1433,306l6,-3l6,-2l6,-3l6,-2M1476,446l14,-6l15,-5l15,-4M1484,337l13,-4l14,-3l14,-2M1425,359l8,-5l8,-4l8,-4l8,-4M1501,393l18,-4l18,-3l18,-2M1471,338l4,-2l5,-1l5,-2l5,-1M1495,311l6,-2l7,-1l6,-1l6,-1M1440,456l5,-3l6,-4l6,-4l6,-3M1481,441l9,-4l9,-3l9,-3l10,-3M1437,323l7,-3l8,-3l8,-4l8,-3M1499,571l9,-4l10,-3l9,-3l10,-2M1438,284l17,-5l16,-5l17,-5M1444,416l14,-8l15,-7l15,-6M1502,613l5,-2l5,-2l5,-2l6,-1M1529,567l5,-1l5,-1l5,-1l5,0M1447,556l7,-5l6,-5l7,-5l7,-5M1532,434l9,-1l9,0l9,-1l9,0M1453,482l7,-4l8,-4l7,-5l8,-3M1486,435l8,-3l8,-2l8,-3l8,-2M1513,601l13,-4l14,-3l13,-1M1522,232l17,-1l17,-1l18,0M1448,429l16,-9l17,-7l17,-7M1492,415l8,-3l8,-2l8,-2l8,-2M1510,286l15,-2l15,-1l15,-1M1525,331l5,0l6,-1l6,0l5,-1M1479,580l8,-4l8,-4l7,-4l9,-3M1448,499l13,-8l13,-8l13,-7M1449,324l9,-3l9,-4l10,-3l9,-3M1489,394l14,-4l15,-3l14,-2M1499,616l13,-5l14,-4l14,-4M1541,377l6,-1l5,0l5,0l5,0M1519,450l8,-2l8,-1l9,-1l8,-1M1477,571l8,-4l8,-4l7,-4l9,-3M1505,409l13,-3l13,-2l14,-2M1528,577l9,-1l10,-1l10,-1l9,-1M1475,304l14,-4l15,-3l15,-3M1429,459l7,-5l7,-5l8,-5l7,-5M1445,351l14,-7l15,-5l16,-5M1482,248l18,-3l18,-3l18,-2M1520,412l9,-1l8,-1l8,-1l8,-1M1512,543l16,-5l16,-2l17,-2M1481,249l14,-2l14,-2l15,-2M1529,259l7,0l7,-1l7,0l7,0M1530,567l16,-2l16,-1l16,-1M1537,473l13,-1l14,0l14,0M1496,253l6,-1l5,-1l5,-1l6,0M1483,342l7,-2l7,-2l8,-2l7,-1M1471,544l8,-5l9,-4l9,-5l9,-3M1542,605l8,-1l7,0l8,0l7,0M1435,297l14,-6l15,-5l15,-5M1446,432l5,-3l6,-3l5,-3l6,-3M1492,448l7,-2l8,-2l8,-3l8,-2M1497,612l6,-2l5,-3l6,-2l6,-2M1474,253l8,-1l8,-2l8,-1l8,-2M1447,271l6,-2l6,-2l6,-2l6,-2M1490,453l14,-5l14,-4l13,-3M1467,492l14,-7l15,-7l15,-5M1495,376l15,-3l15,-3l15,-2M1527,286l7,-1l6,0l7,0l6,-1M1512,246l8,-1l9,0l9,-1l9,-1M1467,372l14,-5l15,-5l15,-4M1527,456l7,-1l7,-1l7,-1l7,0M1447,462l6,-4l6,-4l7,-4l6,-3M1511,396l8,-2l7,-1l8,-1l8,-1M1527,307l13,-2l14,0l13,0M1495,480l15,-5l15,-4l16,-3M1482,487l15,-6l16,-5l16,-4M1531,454l16,-1l16,-1l16,0M1445,311l12,-5l13,-4l13,-4M1499,262l8,-1l9,-1l8,-1l9,-1M1525,540l5,-1l5,-1l6,-1l5,-1M1455,447l9,-5l9,-4l9,-5l9,-4M1521,526l7,-2l8,-1l7,-1l8,-1M1462,384l7,-3l6,-2l6,-3l7,-2M1528,370l15,-1l14,-1l15,0M1520,314l7,-1l7,0l7,-1l7,0M1456,518l6,-4l6,-4l6,-3l5,-4M1464,309l5,-2l5,-2l5,-1l6,-2M1481,508l14,-5l13,-6l14,-4M1444,490l5,-3l5,-4l5,-3l6,-3M1444,340l8,-3l9,-4l9,-3l8,-3M1541,553l5,-1l5,0l5,-1l6,0M1478,284l14,-3l13,-3l14,-2M1449,433l15,-8l15,-7l15,-7M1515,587l17,-4l17,-3l18,-1M1507,594l5,-2l6,-2l5,-2l5,-1M1532,311l17,-1l16,0l16,-1M1482,274l7,-1l7,-2l7,-1l6,-1M1464,360l8,-3l8,-3l9,-2l8,-3M1458,369l8,-3l9,-4l9,-3l9,-3M1483,500l14,-6l15,-5l14,-4M1522,518l6,-1l7,-1l6,-1l6,-1M1451,299l5,-2l5,-1l5,-2l5,-2M1482,372l14,-4l14,-4l15,-3M1516,582l6,-1l5,-2l5,-1l5,-1M1507,442l14,-3l14,-3l15,-2M1468,281l15,-4l15,-3l15,-3M1476,432l6,-3l6,-2l6,-3l7,-2M1500,510l14,-4l14,-4l14,-2M1499,241l17,-2l16,-1l17,-1M1461,604l8,-6l8,-5l8,-5l8,-5" stroke="#000021" stroke-width="3.0"/><path d="M1436,468l4,-3l5,-3l4,-3l5,-3M1489,251l15,-3l14,-2l15,-1M1489,398l17,-4l16,-4l16,-3M1478,372l7,-2l6,-2l7,-2l7,-2M1522,538l9,-1l8,-2l9,-1l9,-1M1483,596l6,-3l5,-3l5,-3l6,-2M1481,405l6,-2l7,-2l6,-2l7,-2M1469,350l7,-2l6,-2l7,-2l6,-2M1508,354l17,-3l17,-2l17,-1M1534,380l6,-1l7,0l6,-1l6,0M1477,278l8,-2l8,-2l9,-1l8,-2M1521,443l9,-2l10,-1l9,-1l9,0M1447,381l5,-2l4,-2l5,-2l4,-2M1535,297l16,0l17,-1l16,0M1479,271l17,-3l17,-3l17,-2M1506,360l16,-3l15,-2l16,-1M1530,359l15,-1l16,0l15,-1M1538,591l6,0l5,-1l6,0l6,-1M1524,365l6,0l6,-1l5,-1l6,0M1431,323l8,-4l9,-4l9,-3l8,-4M1429,357l5,-3l6,-3l5,-3l6,-3M1432,435l13,-8l14,-8l14,-8M1483,406l8,-3l9,-3l9,-2l9,-3M1539,371l14,0l13,-1l14,0M1502,602l5,-2l6,-2l5,-2l6,-2M1488,307l17,-3l17,-3l17,-2M1435,300l5,-3l6,-2l6,-2l6,-3M1453,566l5,-4l5,-3l5,-4l5,-3M1513,476l17,-4l17,-2l17,-1M1483,431l5,-2l5,-2l6,-2l5,-1M1451,368l15,-6l15,-6l15,-4M1446,322l13,-5l13,-5l14,-4M1454,307l5,-2l5,-1l5,-2l6,-2M1434,279l15,-5l15,-5l16,-4M1421,285l4,-2l5,-2l5,-2l4,-2M1489,396l8,-2l9,-3l8,-2l9,-2M1488,435l6,-2l6,-2l6,-2l6,-1M1434,344l14,-7l15,-6l15,-5M1449,491l6,-4l5,-4l6,-4l7,-3M1529,245l15,-1l15,0l14,0M1505,268l7,-1l8,-1l8,-1l7,0M1498,591l16,-6l16,-5l17,-3M1534,265l6,-1l6,0l6,0l6,0M1446,493l4,-3l5,-3l4,-3l5,-3M1524,592l13,-3l14,-2l13,0M1498,492l9,-3l8,-2l9,-2l8,-2M1524,294l18,-1l17,-1l17,0M1492,535l14,-6l15,-5l15,-3M1472,515l16,-8l16,-7l17,-5M1537,432l6,-1l7,0l6,-1l7,0M1462,460l7,-4l7,-3l7,-4l7,-3M1521,265l7,-1l6,0l6,-1l7,0M1507,384l10,-2l9,-2l10,-1l9,-1M1462,289l6,-2l6,-2l6,-1l6,-2M1461,457l5,-2l6,-3l5,-3l6,-3M1444,498l12,-8l12,-8l13,-7M1476,511l14,-7l14,-6l15,-4M1444,485l11,-8l12,-7l13,-7M1456,467l8,-4l8,-5l8,-4l9,-4M1503,387l6,-1l7,-2l6,-1l7,-1M1475,454l16,-7l17,-5l17,-5M1502,306l18,-2l18,-2l18,-2M1493,262l8,-2l9,-1l9,-1l8,-1M1532,320l15,-1l15,0l15,-1M1479,356l17,-5l18,-4l18,-3M1491,394l13,-4l14,-3l14,-2M1538,530l8,-1l8,0l7,-1l8,0M1422,354l6,-4l6,-3l6,-4l6,-3M1489,499l9,-3l9,-3l9,-3l9,-3M1518,552l13,-3l14,-2l13,-1M1478,581l15,-7l15,-7l16,-6M1450,590l13,-10l15,-10l15,-9M1545,398l7,0l7,0l7,0l7,0M1486,535l16,-6l17,-6l18,-4M1466,548l14,-8l15,-8l16,-6M1532,374l10,-1l10,0l9,-1l10,0M1454,482l7,-4l7,-4l8,-4l7,-4M1521,501l16,-3l16,-2l17,0M1452,471l12,-7l12,-7l13,-5M1525,472l16,-3l15,-1l16,0M1479,387l5,-3l6,-1l6,-2l6,-2M1532,432l8,-1l8,0l9,-1l8,0M1459,323l17,-6l17,-4l18,-4M1538,345l14,-1l14,0l14,0M1433,335l17,-8l17,-6l17,-6M1493,478l5,-2l6,-2l6,-2l5,-1M1483,409l18,-5l17,-5l18,-3M1488,499l9,-3l9,-3l9,-3l9,-3M1489,442l16,-5l15,-4l16,-3M1464,513l13,-8l15,-7l14,-6M1482,443l15,-5l15,-5l16,-3M1449,460l6,-4l7,-4l6,-4l7,-4M1509,596l8,-3l9,-2l9,-2l9,-2M1497,564l7,-2l7,-3l7,-2l7,-3M1416,273l14,-6l14,-5l15,-5M1436,439l4,-2l4,-3l4,-3l4,-2M1542,466l7,0l8,0l7,-1l8,0M1540,232l9,0l8,-1l9,0l9,0M1460,571l5,-3l4,-4l5,-3l5,-3M1486,390l5,-2l5,-1l5,-2l5,-1M1514,322l6,-1l6,-1l6,-1l6,-1M1471,322l5,-2l5,-1l6,-2l5,-1M1546,292l7,0l7,0l7,0l6,0M1407,290l14,-6l14,-7l14,-5M1505,340l6,-1l5,-1l5,-1l5,-1M1529,349l15,-2l14,0l15,0M1449,579l14,-11l15,-10l16,-9M1445,538l14,-11l15,-9l16,-9M1537,452l8,-1l7,0l8,0l7,0M1507,579l6,-2l7,-2l6,-2l7,-2M1495,246l8,-1l9,-1l9,-1l9,-1M1422,382l12,-8l14,-7l13,-7M1482,431l16,-6l16,-4l16,-4M1463,567l8,-5l8,-5l9,-5l9,-5M1502,540l8,-3l8,-2l7,-3l8,-2M1549,363l5,-1l5,0l6,0l5,0M1501,601l8,-3l7,-2l7,-3l8,-2M1468,455l8,-4l8,-3l8,-3l8,-4M1486,369l18,-5l17,-4l18,-2M1472,298l17,-5l18,-3l18,-3M1477,259l6,-1l7,-2l6,-1l6,-1M1461,279l18,-5l18,-3l18,-4M1429,298l13,-5l14,-6l13,-4M1477,327l7,-2l8,-2l7,-2l7,-1M1484,497l7,-3l7,-3l7,-3l7,-2M1530,582l15,-3l15,0l15,-1M1520,442l15,-3l16,-1l15,-1M1489,247l6,-1l6,-1l7,-1l6,-1M1536,500l5,0l5,-1l5,0l5,-1M1525,556l13,-3l13,-1l14,-1" stroke="#000008" stroke-width="3.0"/><path d="M1445,576l14,-11l14,-10l14,-8M1454,485l7,-4l7,-4l6,-4l7,-3M1424,458l12,-10l14,-9l13,-8M1447,403l8,-4l8,-4l8,-3l9,-4M1491,604l5,-2l6,-3l6,-3l5,-2M1458,602l6,-4l5,-4l6,-4l6,-4M1422,431l14,-11l16,-9l15,-9M1487,517l13,-5l13,-5l14,-4M1453,348l7,-3l7,-3l7,-3l7,-2M1502,411l18,-4l17,-3l18,-2M1472,479l15,-7l15,-6l16,-5M1536,278l15,0l15,0l15,0M1530,267l16,0l16,-1l16,0M1535,484l6,0l6,-1l5,0l6,-1M1534,391l17,-1l17,-1l17,0M1520,397l9,-1l9,-1l9,-1l10,-1M1528,373l9,-1l10,0l10,-1l9,0M1505,286l9,-2l8,-1l9,-1l8,0M1511,476l7,-1l7,-2l8,-1l7,-2M1527,376l7,-1l8,0l7,-1l7,0M1485,246l14,-3l14,-1l14,-2M1521,454l5,-1l6,-1l6,-1l6,-1M1498,501l8,-3l8,-3l9,-2l8,-2M1488,412l8,-2l8,-3l8,-2l9,-2M1515,256l9,-1l10,-1l10,0l9,-1M1509,467l18,-4l17,-2l18,-2M1445,337l17,-7l17,-5l17,-6M1531,290l7,-1l7,0l7,0l7,0M1536,506l14,-1l13,0l14,-1M1482,309l6,-2l7,-1l6,-2l7,-1M1487,546l7,-3l7,-3l7,-3l6,-2M1495,466l6,-2l7,-2l7,-2l6,-2M1533,469l17,-2l16,0l17,0M1511,460l8,-2l8,-1l8,-2l8,-1M1531,371l13,-1l14,-1l13,0M1512,326l9,-2l9,-1l9,-1l9,-1M1453,528l12,-8l13,-8l14,-7M1463,389l7,-3l8,-3l7,-3l7,-2M1521,395l17,-2l17,-1l18,0M1484,390l8,-2l8,-3l8,-2l8,-2M1490,346l17,-4l17,-3l17,-2M1460,498l14,-8l14,-7l15,-6M1483,397l15,-5l15,-4l16,-3M1516,600l5,-2l6,-1l6,-2l6,-1M1532,263l6,-1l6,0l6,0l6,0M1434,452l13,-9l13,-7l14,-8M1468,526l16,-9l16,-7l17,-6M1460,302l16,-4l16,-5l17,-3M1424,390l14,-9l14,-8l15,-7M1490,521l16,-6l16,-5l16,-3M1423,333l5,-3l6,-3l6,-2l6,-3M1448,263l14,-4l13,-4l14,-3M1462,454l16,-8l16,-6l17,-6M1511,315l5,-1l6,-1l5,0l5,-1M1466,354l8,-3l7,-2l8,-3l7,-2M1447,512l8,-5l8,-5l8,-5l8,-5" stroke="#000000" stroke-width="3.0"/><path d="M1441,411l13,-7l12,-6l13,-6M1435,267l8,-3l8,-3l9,-2l8,-3M1499,324l14,-2l15,-3l14,-1M1463,518l12,-7l12,-7l13,-5M1475,435l5,-2l5,-2l5,-2l5,-2M1524,501l8,-1l8,-1l9,-1l8,-1M1488,577l14,-6l15,-6l15,-4M1440,566l13,-11l13,-10l14,-9M1487,447l14,-5l15,-4l15,-3M1468,567l9,-6l9,-4l8,-5l9,-4M1432,391l7,-4l8,-4l7,-4l7,-4M1472,591l13,-8l13,-7l14,-6M1429,453l6,-5l7,-4l7,-5l7,-4M1497,426l8,-2l9,-2l8,-2l9,-2M1471,406l14,-6l14,-5l15,-4M1538,572l8,-1l9,-1l9,0l9,0M1440,284l8,-3l8,-2l8,-3l9,-3M1518,420l14,-2l13,-2l14,-1M1529,584l9,-2l10,-1l9,-1l9,0M1474,503l13,-6l13,-6l14,-4M1521,591l15,-3l16,-3l16,0M1513,303l6,-1l7,0l7,-1l6,-1M1471,481l6,-3l5,-3l6,-2l6,-3M1472,491l7,-4l8,-3l8,-4l8,-3M1475,478l9,-4l9,-4l10,-4l9,-3M1475,292l6,-1l6,-2l6,-1l6,-1M1526,268l14,0l13,-1l14,0M1513,318l7,-1l8,-1l8,-1l8,-1M1485,428l7,-2l7,-2l7,-2l7,-2M1484,464l6,-3l7,-2l7,-3l7,-2M1447,408l8,-5l8,-4l9,-4l8,-4M1461,447l6,-3l6,-3l6,-3l6,-3M1512,348l5,-1l5,-1l6,-1l5,-1M1484,412l14,-5l14,-3l15,-4M1457,423l14,-7l14,-6l15,-6M1470,362l17,-6l16,-4l17,-4M1448,319l5,-2l6,-2l6,-3l6,-2M1474,544l15,-8l16,-6l16,-6M1497,607l15,-6l16,-5l16,-4M1483,272l15,-3l16,-3l15,-1M1515,297l15,-1l15,-1l15,-1M1476,476l14,-6l14,-5l14,-5M1502,464l9,-2l9,-2l8,-2l9,-2M1532,466l15,-1l14,-1l15,0M1468,495l6,-3l6,-3l6,-3l6,-3M1505,358l17,-3l19,-2l18,-2M1500,269l15,-2l15,-2l16,-1M1533,270l6,-1l7,0l7,0l7,0M1512,240l9,-1l9,-1l8,-1l9,0M1509,243l7,-1l7,0l7,-1l7,-1M1485,297l5,-1l6,-1l5,-2l5,-1M1411,308l15,-8l16,-7l15,-6M1528,389l7,-1l7,-1l7,0l7,0M1517,382l5,-1l5,-1l5,-1l5,0M1471,603l5,-3l4,-3l5,-3l5,-3M1483,337l5,-2l5,-1l5,-1l4,-1M1474,322l8,-2l9,-2l8,-2l8,-2M1496,318l8,-2l9,-2l8,-1l8,-1M1510,379l9,-2l8,-1l8,-2l9,-1M1524,249l14,-1l15,0l14,0M1487,350l13,-3l14,-3l13,-3M1482,616l5,-4l6,-3l6,-3l6,-3M1440,400l16,-8l16,-8l16,-6M1456,328l17,-6l17,-5l17,-4M1442,293l5,-2l5,-2l5,-2l5,-2M1470,248l7,-1l7,-2l7,-1l7,-1M1449,454l7,-4l8,-4l7,-4l7,-4M1451,623l12,-10l13,-10l14,-9M1521,589l17,-4l16,-1l17,-1M1452,513l5,-3l5,-4l5,-3l5,-3M1492,442l16,-5l16,-4l17,-3M1523,426l6,-1l6,-1l6,-1l6,0M1480,269l18,-3l18,-3l18,-2M1476,454l5,-2l5,-2l5,-2l5,-2M1493,474l18,-5l17,-5l18,-3M1520,609l7,-1l7,-2l7,-1l7,-2M1502,401l7,-2l8,-2l7,-1l8,-2M1443,497l12,-9l13,-7l13,-8M1408,289l13,-7l14,-6l13,-5M1455,308l17,-6l17,-4l17,-4M1531,532l17,-2l17,-1l16,0M1468,269l5,-1l5,-2l5,-1l5,-1M1428,448l12,-8l12,-8l12,-7M1432,488l15,-11l15,-10l16,-9M1474,562l6,-3l5,-3l5,-3l5,-3M1543,513l7,0l6,-1l7,0l6,0M1496,441l15,-4l15,-4l15,-2M1468,468l6,-3l6,-3l6,-3l6,-3M1461,333l8,-3l9,-3l9,-3l9,-2M1452,389l15,-7l15,-6l15,-5M1493,243l14,-2l14,-1l13,-2M1527,414l16,-1l16,-1l16,0M1512,429l9,-2l10,-2l10,-1l10,-1M1458,262l8,-2l7,-2l7,-2l7,-1M1436,422l8,-5l8,-4l8,-5l8,-4M1468,618l7,-4l6,-5l7,-4l7,-4M1497,526l7,-3l6,-2l7,-2l6,-2M1543,484l6,0l7,-1l6,0l7,0M1460,328l8,-3l8,-3l9,-2l8,-3M1487,601l13,-6l14,-6l14,-5M1442,288l16,-5l16,-5l17,-5M1532,244l16,-1l17,0l16,0M1434,466l14,-10l15,-9l16,-8M1527,263l8,0l9,-1l8,0l8,0M1501,281l9,-2l9,-1l10,-1l9,-1M1488,331l6,-2l7,-2l7,-1l7,-2M1446,496l5,-4l5,-3l5,-3l5,-4M1493,319l7,-1l7,-1l7,-2l7,-1M1432,357l6,-3l7,-4l6,-3l6,-3M1479,604l4,-2l5,-3l4,-2l5,-2M1461,369l5,-2l5,-2l5,-2l5,-2M1503,596l7,-3l8,-3l8,-2l8,-2M1483,446l8,-3l8,-3l8,-3l8,-2M1540,271l10,0l9,0l10,0l10,0M1475,544l11,-7l13,-5l12,-5M1493,566l5,-2l5,-2l5,-3l6,-2M1529,413l14,-1l13,-1l14,0M1471,574l4,-3l4,-3l5,-2l4,-3M1544,526l6,-1l6,0l6,0l6,0M1434,449l8,-5l8,-5l8,-5l8,-5M1429,367l16,-8l16,-8l17,-7M1526,292l6,-1l6,0l5,-1l6,0M1476,499l12,-6l13,-6l14,-4M1487,398l16,-5l16,-4l17,-3M1477,613l6,-4l6,-3l7,-4l6,-3M1480,332l5,-2l6,-1l5,-2l5,-1M1427,419l6,-4l6,-4l7,-4l6,-4M1499,510l7,-2l8,-2l7,-3l8,-2" stroke="#000018" stroke-width="3.0"/><path d="M1514,256l7,-1l8,0l7,-1l7,0M1458,406l14,-6l13,-5l14,-5M1541,274l8,-1l8,0l8,0l8,0M1433,433l7,-4l7,-5l7,-4l7,-4M1458,613l12,-9l14,-9l14,-8M1468,495l6,-4l8,-3l7,-4l7,-3M1512,423l10,-1l9,-2l10,-1l9,-1M1448,335l16,-6l16,-6l16,-4M1513,478l16,-4l16,-2l16,-1M1459,292l8,-3l7,-2l7,-2l8,-2M1540,373l9,0l9,-1l10,0l9,0M1477,611l12,-7l12,-6l12,-5M1481,283l8,-2l7,-1l7,-2l7,-1M1470,355l8,-3l7,-2l8,-2l7,-3M1473,591l5,-3l5,-3l6,-3l5,-3M1531,475l9,-1l9,-1l10,-1l9,0M1445,377l5,-3l6,-3l5,-2l5,-3M1456,397l13,-6l13,-5l13,-5M1474,253l16,-3l16,-2l16,-3M1526,337l6,-1l6,0l5,-1l6,0M1503,451l17,-4l17,-3l17,-2M1482,370l15,-5l16,-3l15,-3M1488,618l9,-4l9,-4l9,-4l9,-3M1511,556l7,-2l7,-2l7,-2l7,-1M1432,292l14,-5l14,-5l15,-5M1546,419l6,0l6,-1l5,0l6,0M1541,234l6,0l7,0l7,0l6,0M1466,510l8,-5l9,-4l8,-4l9,-4M1508,328l5,-1l6,0l5,-1l5,-1M1426,468l12,-9l11,-8l12,-7M1460,555l14,-10l16,-8l15,-7M1492,574l9,-4l9,-3l9,-3l9,-3M1418,347l7,-4l7,-4l8,-4l7,-4M1465,591l15,-10l15,-8l16,-8M1485,505l16,-6l17,-6l17,-4M1435,474l13,-9l13,-9l14,-7M1482,298l7,-2l7,-1l7,-2l7,-1M1486,590l8,-4l9,-4l8,-3l9,-4M1510,378l16,-3l16,-2l16,-1M1463,333l15,-5l16,-5l16,-4M1508,403l16,-4l17,-2l17,-1M1531,255l8,0l7,-1l7,0l7,0M1523,440l5,-1l6,0l5,-1l5,-1M1509,477l6,-2l6,-1l5,-2l6,-1M1536,322l8,0l7,0l8,-1l7,0M1412,354l15,-9l15,-8l16,-8M1445,462l8,-5l8,-5l9,-5l9,-4M1442,388l6,-3l6,-3l6,-3l5,-2M1457,577l4,-4l5,-3l5,-3l4,-4M1418,285l5,-3l6,-2l5,-2l5,-2M1522,244l8,-1l8,-1l8,0l8,0M1454,526l8,-5l9,-5l8,-6l9,-4M1518,286l13,-2l13,-1l14,0M1438,338l4,-2l5,-2l5,-3l5,-2M1496,618l16,-6l15,-6l17,-3M1483,434l7,-2l6,-3l7,-2l7,-2M1434,518l14,-10l14,-10l15,-9M1493,439l17,-5l16,-3l17,-3M1459,539l4,-4l5,-3l5,-3l5,-2M1530,444l15,-2l14,0l14,-1M1493,258l14,-2l14,-2l13,-1M1475,325l13,-4l14,-3l14,-3M1410,280l9,-4l8,-4l9,-4l8,-3" stroke="#083eae" stroke-width="2.6"/><path d="M1444,363l13,-6l13,-5l13,-5M1419,311l17,-8l16,-7l17,-6M1514,424l9,-2l9,-1l9,-1l9,-1M1444,472l12,-8l12,-7l13,-6M1532,354l17,-2l17,0l17,0M1469,469l13,-6l13,-6l13,-4M1445,522l8,-6l8,-6l8,-5l8,-5M1457,546l7,-5l7,-4l7,-5l7,-4M1511,363l17,-3l17,-2l18,0M1429,482l14,-11l14,-9l15,-9M1464,319l13,-4l14,-4l14,-3M1456,297l8,-3l9,-2l8,-3l9,-2M1519,257l17,-1l18,-1l18,0M1447,292l5,-1l5,-2l5,-2l5,-2M1438,431l13,-8l13,-7l13,-6M1467,569l5,-3l5,-3l5,-3l5,-3M1451,344l12,-5l13,-5l13,-4M1441,530l13,-9l13,-9l14,-8M1540,261l6,0l5,0l6,-1l6,0M1515,607l8,-3l8,-2l8,-2l9,-1M1495,252l9,-1l10,-1l10,-2l10,-1M1416,345l13,-7l13,-7l13,-6M1439,266l9,-3l9,-3l9,-3l10,-2M1470,376l7,-3l7,-2l7,-3l7,-2M1489,274l14,-3l15,-2l15,-2M1489,610l16,-7l16,-6l16,-4M1462,604l4,-3l5,-3l4,-3l4,-3M1470,299l8,-2l7,-2l8,-2l7,-2M1515,534l14,-4l15,-2l15,-1M1412,274l16,-7l16,-6l17,-5M1452,472l4,-3l5,-3l5,-3l5,-2M1452,478l12,-8l13,-7l13,-6M1465,610l6,-5l7,-4l7,-5l7,-4M1445,333l15,-6l16,-5l16,-5M1483,376l9,-3l10,-2l9,-3l9,-2M1531,578l15,-2l15,0l15,-1M1518,240l6,-1l6,0l6,-1l5,0M1468,477l15,-7l15,-7l16,-5M1442,411l9,-5l8,-4l9,-4l9,-4M1521,344l14,-1l14,-1l14,-1M1461,562l12,-9l13,-7l14,-7M1438,265l6,-2l5,-2l6,-2l5,-2M1470,432l7,-3l7,-3l7,-3l7,-2M1516,339l18,-2l18,-2l18,0M1517,411l9,-1l9,-1l8,-1l9,-1M1507,279l7,-1l7,-1l7,-1l8,0M1498,442l7,-2l8,-2l7,-2l8,-1M1431,299l14,-6l14,-5l14,-4M1503,424l9,-2l8,-2l8,-2l8,-1M1472,552l12,-7l13,-6l14,-6M1494,246l5,-1l5,0l5,-1l5,-1M1438,282l9,-3l9,-3l9,-3l9,-3M1418,327l8,-4l8,-4l8,-4l8,-4M1428,437l13,-9l13,-8l14,-7M1460,268l6,-1l5,-2l6,-1l5,-1M1499,566l17,-6l18,-4l18,-3M1467,298l14,-3l14,-4l14,-3" stroke="#0846b6" stroke-width="2.6"/><path d="M1441,369l8,-4l8,-4l8,-3l8,-4M1459,324l7,-3l8,-3l7,-2l8,-2M1521,385l8,-1l9,-1l8,-1l8,-1M1518,314l6,-1l7,-1l6,0l6,-1M1516,434l9,-1l9,-2l8,-1l9,-1M1531,400l14,-1l13,-1l13,0M1517,496l17,-4l16,-2l17,0M1449,411l7,-4l8,-4l8,-3l7,-4M1448,470l6,-4l7,-4l7,-4l6,-3M1448,270l8,-2l8,-2l9,-3l8,-2M1436,482l14,-9l14,-9l15,-8M1498,415l8,-2l9,-2l8,-2l9,-1M1466,451l16,-7l16,-6l17,-5M1503,473l6,-2l7,-1l6,-2l6,-1M1470,557l13,-8l14,-6l14,-6M1438,391l6,-4l6,-3l6,-3l6,-3M1472,504l6,-3l5,-3l6,-3l5,-2M1448,297l5,-2l5,-1l5,-2l6,-2M1442,278l15,-5l15,-5l15,-4M1507,452l14,-3l13,-2l14,-2M1467,296l7,-2l7,-2l6,-1l7,-2M1442,575l13,-11l13,-10l14,-9M1422,368l7,-5l8,-4l7,-4l8,-4M1446,293l8,-3l8,-3l9,-3l8,-2M1484,393l6,-2l6,-2l7,-2l6,-2M1433,389l13,-8l14,-6l14,-7M1529,393l14,-2l14,0l15,-1M1444,458l7,-4l8,-5l7,-4l8,-5M1531,427l6,-1l7,0l6,-1l7,0M1464,500l6,-3l6,-3l6,-4l6,-3M1455,496l13,-8l14,-8l14,-6M1474,276l15,-3l15,-3l15,-3M1532,525l9,-1l8,-1l9,-1l9,0M1474,411l5,-2l5,-2l5,-2l5,-2M1525,494l6,-1l6,-1l6,-1l5,0M1452,461l4,-2l4,-3l5,-2l4,-3M1465,370l6,-2l5,-2l6,-2l6,-2M1455,449l14,-8l15,-7l16,-6M1475,314l8,-2l7,-2l8,-2l7,-2M1512,570l9,-2l9,-2l10,-2l9,-2M1486,465l16,-5l16,-5l16,-3M1432,309l15,-6l16,-6l16,-5M1494,397l17,-5l17,-3l17,-2M1457,269l5,-2l6,-2l6,-1l6,-2M1479,281l8,-2l8,-1l8,-2l9,-1M1533,254l16,-1l17,0l16,0M1430,450l7,-5l8,-5l7,-5l8,-4" stroke="#084ebe" stroke-width="2.6"/><path d="M1528,372l5,0l6,-1l5,0l5,-1M1456,611l7,-6l7,-5l8,-5l8,-5M1509,500l14,-4l14,-2l14,-2M1513,531l15,-4l15,-2l15,-1M1533,236l15,0l14,-1l15,0M1507,406l15,-3l15,-2l16,-2M1506,519l14,-4l14,-3l14,-2M1517,539l8,-2l8,-1l8,-2l7,-1M1452,330l5,-2l4,-2l5,-2l5,-1M1454,368l14,-6l14,-5l15,-5M1539,598l9,-1l9,0l9,-1l9,0M1493,379l14,-4l14,-3l14,-2M1446,400l8,-4l8,-4l8,-4l8,-3M1518,261l7,-1l7,0l6,-1l7,0M1484,453l9,-3l9,-3l10,-3l9,-3M1451,580l12,-9l12,-9l13,-8M1456,269l8,-3l8,-2l8,-2l8,-2M1469,560l5,-4l6,-3l6,-4l6,-3M1481,603l5,-3l6,-3l5,-3l5,-2M1528,238l16,0l17,-1l16,0M1505,509l14,-4l14,-3l15,-3M1486,298l5,-1l5,-2l5,-1l5,-1M1452,495l5,-4l5,-3l5,-3l5,-3M1480,305l16,-4l15,-3l16,-2M1469,286l9,-2l8,-2l9,-2l9,-2M1484,251l18,-3l18,-2l18,-2M1483,257l5,-1l6,-2l6,-1l6,-1M1532,534l5,-1l5,-1l5,-1l6,0M1496,257l9,-1l10,-1l10,-1l9,-1M1470,514l7,-4l7,-4l7,-3l7,-3M1450,527l5,-3l4,-3l5,-3l5,-4M1468,457l5,-2l6,-3l6,-3l6,-2" stroke="#000029" stroke-width="3.0"/><path d="M1485,606l16,-8l16,-6l17,-5M1473,275l17,-4l17,-3l17,-2M1493,565l13,-5l13,-5l13,-3M1446,474l6,-4l6,-3l6,-4l5,-3M1476,270l7,-1l6,-2l7,-1l7,-1M1525,608l17,-3l19,-2l18,0M1462,550l12,-8l13,-7l13,-6M1448,326l7,-3l7,-3l7,-2l8,-3M1543,594l8,0l8,0l7,-1l8,0M1509,397l8,-1l7,-1l8,-2l8,-1M1439,454l8,-5l8,-5l8,-5l8,-5M1460,295l9,-3l9,-3l9,-2l9,-2M1455,558l15,-10l15,-9l16,-8M1496,578l16,-6l16,-5l17,-4M1469,518l6,-4l6,-3l6,-3l7,-3M1489,388l17,-4l18,-4l18,-3M1517,495l17,-3l16,-2l17,-1M1517,274l9,-1l9,0l9,-1l9,-1M1471,550l14,-8l15,-7l15,-5M1525,439l18,-2l18,-1l18,0M1470,524l12,-7l13,-6l14,-5M1491,408l13,-4l14,-4l13,-2M1432,332l6,-3l6,-2l6,-3l6,-3M1423,351l9,-5l8,-5l9,-4l9,-4M1425,371l15,-8l16,-8l15,-7M1511,463l8,-1l8,-2l8,-2l8,-1M1474,499l9,-5l9,-3l9,-4l9,-4M1520,280l8,-1l8,-1l8,0l9,-1M1493,401l16,-4l17,-3l17,-3M1438,295l13,-5l13,-5l13,-4M1450,375l8,-4l9,-4l8,-3l8,-3M1451,402l4,-3l5,-2l4,-2l5,-2M1530,526l9,-1l8,-1l8,-1l9,0M1543,396l5,-1l6,0l5,0l5,0M1489,541l5,-2l5,-3l4,-2l5,-1M1449,520l12,-8l12,-7l12,-7M1440,274l6,-3l7,-2l6,-2l7,-2M1508,513l9,-3l9,-2l10,-2l9,-2M1433,430l14,-8l14,-9l14,-7M1464,581l12,-8l13,-8l14,-7M1522,477l15,-2l14,-2l14,0M1484,520l16,-6l15,-6l16,-4M1462,573l4,-4l5,-3l5,-3l5,-3M1495,435l14,-4l15,-3l14,-3M1443,533l13,-9l13,-9l13,-8M1407,277l13,-6l14,-6l13,-5" stroke="#0855c5" stroke-width="2.6"/><path d="M1465,580l6,-4l5,-3l6,-3l5,-4M1493,534l14,-6l14,-4l15,-4M1532,336l18,-1l18,0l18,-1M1495,378l15,-3l15,-3l16,-3M1461,341l14,-5l15,-4l15,-4M1424,378l6,-4l7,-3l6,-4l6,-3M1514,528l17,-4l17,-2l18,-1M1481,324l6,-2l6,-1l6,-2l6,-1M1419,311l8,-4l8,-4l8,-3l8,-4M1463,481l15,-8l15,-6l15,-6M1490,269l10,-1l9,-2l10,-1l10,-1M1531,257l15,-1l16,0l15,0M1453,387l9,-4l8,-3l9,-4l9,-3M1435,407l5,-3l4,-3l5,-3l5,-3M1459,422l9,-4l9,-4l9,-4l9,-3M1519,258l8,-1l9,0l8,-1l9,0M1468,456l15,-7l16,-6l16,-5M1461,492l15,-9l16,-7l17,-7M1513,559l15,-4l16,-3l15,-1M1460,528l7,-5l8,-4l8,-5l8,-4M1507,394l6,-2l6,-1l7,-1l6,-1M1524,385l6,-1l7,-1l6,0l7,-1M1450,414l5,-3l4,-2l5,-3l5,-2M1487,356l6,-2l6,-1l6,-2l6,-1M1434,342l14,-6l14,-6l14,-5M1507,563l8,-3l8,-2l8,-2l8,-2M1474,560l12,-7l13,-6l13,-5M1465,424l9,-4l10,-4l9,-4l9,-3M1457,413l7,-4l7,-3l8,-3l7,-3M1483,496l6,-2l6,-3l6,-2l7,-2M1448,499l8,-6l8,-5l8,-5l8,-4" stroke="#0835a6" stroke-width="2.6"/><path d="M729,411l15,1l15,2l14,3M793,418l4,2l4,1l4,2l4,2M835,463l5,3l4,3l5,4l4,3M874,475l10,11l9,10l10,12M789,422l8,3l8,3l7,3l8,4M755,491l8,2l8,2l9,3l8,2M777,417l9,3l8,3l8,2l8,3M741,436l5,1l5,0l4,1l5,1M743,471l9,1l9,2l9,2l9,2M760,489l15,4l14,5l14,6M748,449l16,3l16,4l16,6M717,492l10,0l9,1l10,0l9,1M807,477l6,3l7,4l6,3l6,4M783,428l7,2l6,3l7,2l6,3M815,436l7,3l7,4l7,5l7,4M742,462l15,2l15,4l14,4M754,487l8,1l7,2l8,2l7,3M747,442l6,1l7,2l7,1l6,1M800,488l7,3l6,4l7,3l6,4M761,437l14,4l14,4l13,5M836,452l12,9l13,10l12,10" stroke="#000018" stroke-width="1.8"/><path d="M731,439l14,2l14,2l14,2M750,450l14,3l14,3l14,5M816,429l5,3l6,2l5,3l5,3M781,474l8,3l7,3l7,3l8,4M814,453l6,4l7,4l7,4l6,4M736,468l5,0l6,1l5,1l6,0M767,402l14,3l14,5l14,5M850,464l4,3l4,4l5,4l4,3M786,441l7,3l6,3l7,2l7,3M771,440l5,1l4,1l5,1l4,2M826,475l12,9l11,8l11,9M867,470l4,3l3,3l4,4l3,3M719,457l13,1l14,1l14,2M791,467l13,6l13,6l13,8M802,457l13,6l13,7l12,8M742,438l8,1l8,1l8,1l8,2M793,460l14,6l13,7l12,7M727,458l14,1l14,2l13,3M787,411l6,2l7,3l6,2l6,3M796,459l5,2l5,2l5,3l5,2M750,457l8,2l8,2l7,1l8,2" stroke="#0846b6" stroke-width="1.6"/><path d="M831,472l4,2l4,3l3,3l4,2M867,487l6,5l5,5l5,6l5,6M778,412l14,4l14,6l13,5M812,465l7,3l6,4l6,3l6,4M749,416l7,1l7,2l7,1l8,2M784,407l4,2l4,1l5,2l4,1M732,411l8,1l7,1l8,0l8,2M728,461l6,0l6,0l5,1l6,1M803,435l4,2l4,2l4,2l4,2M848,485l5,4l4,4l5,4l5,5M735,464l8,1l9,1l9,1l8,2M741,400l13,2l14,2l13,3M771,428l9,3l8,2l9,3l8,3M790,440l9,4l9,4l8,4l9,5M725,443l14,1l14,2l14,2M780,426l8,3l8,2l8,3l7,3M757,407l8,1l8,2l8,2l8,2M728,415l6,0l5,1l6,0l6,1M794,458l7,3l6,3l6,3l6,3M791,433l6,2l5,2l5,2l5,2" stroke="#084ebe" stroke-width="1.6"/><path d="M750,456l6,1l6,1l6,2l6,1M847,484l5,4l5,4l4,3l5,4M796,461l12,5l12,7l12,7M760,471l13,4l13,4l13,5M813,427l8,4l9,5l8,5l8,5M735,471l5,1l5,0l5,1l5,1M738,465l5,1l5,0l5,1l5,1M804,454l7,4l7,4l7,4l7,4M813,488l7,5l8,5l7,5l8,5M776,456l5,2l5,1l5,2l5,2M807,430l5,2l6,3l5,2l5,3M783,450l6,2l6,2l5,2l6,3M774,446l14,5l13,5l13,6M804,421l4,2l5,2l4,2l4,2M752,438l8,1l8,2l8,2l7,2M866,470l6,6l6,6l6,6l6,6M753,481l5,1l6,1l6,1l5,2M732,446l13,1l14,2l13,2M853,460l7,5l6,6l7,5l6,6M731,410l6,0l5,1l6,0l5,1M778,424l13,5l13,5l13,5M823,479l7,4l6,4l6,5l6,4M723,495l9,0l10,1l10,1l9,2" stroke="#0855c5" stroke-width="1.6"/><path d="M788,444l6,2l5,2l5,2l5,2M776,451l8,3l8,3l7,2l8,4M767,494l6,1l5,2l5,2l6,2M720,434l9,0l9,1l8,0l9,1M767,454l8,3l9,3l8,2l8,3M741,442l9,2l10,1l9,2l10,2M750,447l6,1l5,1l5,1l5,1M774,405l8,2l8,3l8,2l8,3M811,468l8,4l8,5l8,6l8,5M760,440l5,1l5,2l5,1l5,1M743,471l7,1l8,2l7,1l7,1M812,459l9,5l8,5l9,6l8,5M774,465l13,4l12,5l13,6M785,448l8,3l8,4l8,3l7,4M752,465l9,2l9,2l9,2l9,3M785,488l6,2l5,2l6,3l5,2M820,444l9,5l8,5l8,6l8,5M863,488l5,4l5,5l4,4l5,5M805,430l6,3l5,3l6,2l5,3M845,485l8,6l7,7l7,6l7,7M770,434l7,2l7,2l7,3l7,2M738,497l5,0l5,1l5,1l4,0M783,489l14,6l14,6l13,8M775,425l14,4l14,5l14,6M817,448l13,7l13,9l13,9M797,452l12,6l12,6l12,7M728,423l9,0l10,1l9,1l9,2M746,424l6,1l7,1l6,1l6,1M748,494l7,1l6,1l6,2l7,1" stroke="#000029" stroke-width="1.8"/><path d="M730,462l14,2l14,2l14,2M777,437l5,1l5,2l4,1l5,2M783,444l7,2l6,3l7,2l6,3M791,476l12,6l12,6l12,7M776,437l4,1l5,2l5,2l5,1M777,490l8,3l8,4l7,3l8,3M741,425l9,1l8,1l8,2l8,1M739,420l7,0l7,1l7,1l7,1M809,479l13,8l13,8l12,9M810,428l15,8l14,8l14,9M867,491l4,4l4,4l4,4l4,4M795,419l9,4l9,4l8,4l9,4M839,482l12,10l12,10l11,11M836,476l12,9l11,9l11,10M773,486l7,2l7,3l6,2l7,3M844,465l6,5l7,5l6,5l6,5M770,432l6,2l6,1l5,2l6,2M772,456l16,5l15,6l15,7M722,426l9,0l8,1l9,0l8,1M775,429l8,3l8,3l9,2l8,4M810,435l6,3l7,3l7,4l6,4M748,478l9,2l9,2l9,2l8,3M792,461l13,6l13,7l13,7M739,471l5,0l4,1l5,0l4,1M780,426l13,5l13,5l13,6M795,443l4,2l5,2l4,2l5,2M791,428l4,1l5,2l4,2l5,2M756,471l14,3l13,4l13,5M856,460l7,6l6,6l7,6l6,6M810,448l8,4l8,4l8,5l8,5M800,430l15,7l14,7l14,8M722,447l13,0l14,2l13,2M821,485l5,3l5,4l5,3l5,3" stroke="#000021" stroke-width="1.8"/><path d="M812,450l9,4l8,5l8,5l8,5M847,454l4,3l4,4l4,3l4,3M730,420l7,1l7,0l7,1l7,1M737,454l15,2l15,3l15,4M759,459l6,1l6,2l5,1l6,2M776,424l7,2l7,2l6,2l7,3M727,474l10,0l10,2l9,1l10,2M726,426l7,0l8,1l8,0l7,1M730,477l5,0l6,1l5,0l5,1M816,442l4,3l5,2l4,3l5,3M833,453l5,4l5,3l5,4l5,3M803,432l9,4l8,4l8,4l8,5" stroke="#000000" stroke-width="1.8"/><path d="M787,430l14,5l13,6l14,7M769,473l13,4l14,5l13,6M768,452l5,2l4,1l5,1l4,2M888,492l3,3l3,4l3,3l3,4M773,425l5,2l6,1l6,2l5,2M860,480l7,7l7,7l6,6l7,7M785,440l7,2l6,3l6,2l6,3M839,469l7,6l7,5l7,6l7,6M762,457l8,2l7,2l7,2l8,3M790,488l7,2l6,3l7,4l6,3M745,474l6,1l7,1l6,1l7,2M794,457l9,4l8,4l9,4l8,5M750,471l8,2l7,1l8,2l7,2M786,452l6,3l5,2l6,2l5,2M778,475l7,2l6,2l7,3l6,3M840,444l6,5l7,5l6,4l6,5M853,473l11,10l11,10l10,10M852,491l5,4l5,5l5,4l5,5M745,401l7,1l8,1l8,1l7,2M742,478l9,1l8,2l9,2l9,2" stroke="#085dcd" stroke-width="1.6"/><path d="M720,448l9,0l8,1l9,0l8,1M720,420l14,0l13,1l14,2M806,446l13,7l13,7l12,8M799,469l7,3l7,4l7,3l6,4M747,483l6,1l5,1l6,1l5,1M805,466l7,4l7,4l6,4l7,4M790,462l7,3l7,3l7,3l7,3M774,419l7,2l8,3l7,2l7,3M809,430l8,4l8,4l8,4l7,5M828,469l7,4l7,5l7,5l6,5M738,478l9,2l9,1l9,2l9,2M744,478l6,1l7,1l6,1l6,2M860,491l4,3l4,4l3,3l4,4M807,467l8,5l8,4l8,5l8,5M719,425l9,0l10,1l10,0l9,1M747,448l8,1l8,2l9,1l8,2M804,478l6,3l6,4l6,3l6,4M846,481l6,5l6,5l6,5l6,6M743,487l13,2l13,3l13,3M752,492l4,1l5,1l5,1l5,1" stroke="#0865d5" stroke-width="1.6"/><path d="M811,437l5,3l5,2l5,3l5,3M754,428l15,4l15,4l15,4M737,438l9,1l10,1l10,2l9,2M772,415l5,1l5,2l5,1l5,2M737,441l5,1l6,0l5,1l6,1M768,472l9,3l9,3l9,3l9,4M829,471l6,5l7,4l6,5l7,5M737,461l6,1l5,1l5,0l6,1" stroke="#000032" stroke-width="1.8"/><path d="M805,424l8,3l7,4l8,4l8,4M722,499l7,0l7,0l6,1l7,0M821,485l12,8l12,9l11,9M725,490l15,1l14,2l15,3M866,466l7,7l7,7l7,7l7,7M787,477l13,6l13,6l12,7" stroke="#086fdd" stroke-width="1.6"/><path d="M716,417l15,1l16,1l15,2M728,484l9,0l10,2l9,1l10,2M794,461l8,4l9,4l8,4l8,5M730,490l14,1l14,3l13,2M751,470l6,2l7,1l6,1l7,2M775,440l6,2l6,2l5,2l6,2M745,424l9,1l9,2l10,2l9,2M849,482l6,5l5,5l6,5l5,5M761,424l16,3l15,5l16,6M804,468l7,4l7,3l7,4l6,4M798,427l15,7l15,8l14,8M797,439l13,5l12,7l13,7M834,445l8,6l8,5l7,6l8,6M871,479l11,12l11,12l10,13M849,462l6,6l7,5l6,6l7,6M729,450l7,1l8,0l8,1l7,1M750,410l15,3l15,4l15,4M754,486l9,2l9,2l9,3l9,3M783,412l8,3l7,3l8,2l7,3M809,481l7,4l7,4l7,4l7,5M765,475l5,1l5,1l5,2l5,1M818,451l6,3l5,3l5,3l6,4" stroke="#000010" stroke-width="1.8"/><path d="M726,445l6,0l6,1l6,0l6,1M765,491l7,2l7,2l6,2l7,3M784,463l7,3l8,3l7,4l7,3M733,449l7,1l6,1l6,0l6,1M735,457l7,0l6,1l7,1l7,1M790,461l13,6l13,6l12,7" stroke="#083eae" stroke-width="1.6"/><path d="M1101,132l-6,19M1113,119l-7,22M1165,143l3,19M1152,100l2,21M1125,98l-3,20M1130,121l-1,16M1179,151l3,11M1143,133l0,19M1140,129l-1,13M1139,100l-1,23M1195,103l5,10M1172,127l3,14M1183,152l5,13M1147,149l1,21M1095,103l-5,12" stroke="#0a91f7" stroke-width="7"/><path d="M1166,97l4,18M1134,101l-0,10M1129,138l-2,15M1141,120l0,19M1116,139l-3,13M1160,150l3,19M1146,94l1,18M1184,135l7,18M1156,147l1,12M1095,101l-5,12M1122,148l-3,16M1142,130l-1,24M1119,130l-3,17M1177,105l6,22M1155,114l1,15M1179,141l7,25M1151,117l1,19M1155,139l2,25" stroke="#0a9cff" stroke-width="7"/><path d="M1126,100l-3,20M1136,122l-1,16M1172,107l3,15M1105,105l-3,10M1185,144l4,10M1110,123l-3,11M1163,101l3,16M1164,127l3,21M1161,110l2,12M1160,141l1,10" stroke="#097ae6" stroke-width="7"/><path d="M1188,110l7,18M1166,101l3,13M1184,125l8,22M1147,97l1,15M1162,107l3,17M1165,109l3,13M1179,93l9,24M1102,135l-5,16M1110,144l-5,14M1153,132l1,19" stroke="#7cc4ff" stroke-width="7"/><path d="M1145,138l0,11M1179,103l5,17M1113,139l-3,12M1160,134l2,12M1143,115l-1,15M1184,104l3,9M1147,116l1,20" stroke="#b4dbff" stroke-width="7"/><path d="M1130,119l-1,14M1181,153l4,14M1119,135l-3,18M1130,109l-2,25M1116,126l-5,24M1115,138l-6,22M1111,121l-5,17M1105,101l-6,15M1139,128l-2,25M1138,140l-1,19M1090,96l-7,15M1100,114l-8,23M1106,125l-6,19M1125,132l-3,20M1158,111l3,19M1154,140l1,14M1140,138l-1,16M1180,146l5,16" stroke="#0985ee" stroke-width="7"/><path d="M1179,101l6,17M1121,99l-3,13M1140,121l-0,14M1153,125l2,19M1146,135l1,23M1111,116l-3,14M1138,131l-2,25M1157,143l1,10M1093,102l-8,16M1157,117l1,10M1171,97l5,18" stroke="#9bcfff" stroke-width="7"/><path d="M1113,110l-4,14M1111,130l-5,18M1122,131l-3,18M1178,97l4,12M1144,103l1,19M1176,146l6,22M1123,146l-2,13M1181,112l7,23" stroke="#1fa2ff" stroke-width="7"/><path d="M1100,126l-5,15M1123,139l-4,25M1120,110l-5,24M1126,109l-2,18M1138,147l-0,16M1177,116l6,22M1127,109l-2,14M1138,140l-1,13M1100,129l-8,21" stroke="#3bacff" stroke-width="7"/><path d="M1115,104l-5,18M1169,134l3,14M1140,109l-1,17M1182,101l8,23M1170,105l5,24M1168,145l3,13M1185,130l4,11M1143,131l0,14M1107,107l-4,14" stroke="#5cb8ff" stroke-width="7"/><path d="M1164,148l4,22M1161,153l2,14" stroke="#085dcd" stroke-width="7"/><path d="M1140,143l-1,17M1156,146l2,19" stroke="#086fdd" stroke-width="7"/><path d="M1111,149l-6,20" stroke="#0865d5" stroke-width="7"/></g>
<rect x="1142.1" y="103" width="4" height="498" fill="#1260d0" opacity="0.85"/>
</g></g>
<g stroke="#fff" stroke-width="3" stroke-dasharray="3 8.022" fill="none" shape-rendering="crispEdges"><line x1="164.00" y1="69.00" x2="164.00" y2="601.00"/><line x1="233.67" y1="69.00" x2="233.67" y2="601.00"/><line x1="303.33" y1="69.00" x2="303.33" y2="601.00"/><line x1="373.00" y1="69.00" x2="373.00" y2="601.00"/><line x1="442.67" y1="69.00" x2="442.67" y2="601.00"/><line x1="512.33" y1="69.00" x2="512.33" y2="601.00"/><line x1="582.00" y1="69.00" x2="582.00" y2="601.00"/><line x1="651.67" y1="69.00" x2="651.67" y2="601.00"/><line x1="721.33" y1="69.00" x2="721.33" y2="601.00"/><line x1="791.00" y1="69.00" x2="791.00" y2="601.00"/><line x1="860.67" y1="69.00" x2="860.67" y2="601.00"/><line x1="930.33" y1="69.00" x2="930.33" y2="601.00"/><line x1="1000.00" y1="69.00" x2="1000.00" y2="601.00"/><line x1="1069.67" y1="69.00" x2="1069.67" y2="601.00"/><line x1="1139.33" y1="69.00" x2="1139.33" y2="601.00"/><line x1="1209.00" y1="69.00" x2="1209.00" y2="601.00"/><line x1="1278.67" y1="69.00" x2="1278.67" y2="601.00"/><line x1="1348.33" y1="69.00" x2="1348.33" y2="601.00"/><line x1="1418.00" y1="69.00" x2="1418.00" y2="601.00"/><line x1="1487.67" y1="69.00" x2="1487.67" y2="601.00"/><line x1="1557.33" y1="69.00" x2="1557.33" y2="601.00"/><line x1="1627.00" y1="69.00" x2="1627.00" y2="601.00"/><line x1="1696.67" y1="69.00" x2="1696.67" y2="601.00"/><line x1="1766.33" y1="69.00" x2="1766.33" y2="601.00"/><line x1="1836.00" y1="69.00" x2="1836.00" y2="601.00"/><line x1="164.0" y1="120.40" x2="1837.0" y2="120.40"/><line x1="164.0" y1="173.80" x2="1837.0" y2="173.80"/><line x1="164.0" y1="227.20" x2="1837.0" y2="227.20"/><line x1="164.0" y1="280.60" x2="1837.0" y2="280.60"/><line x1="164.0" y1="334.00" x2="1837.0" y2="334.00"/><line x1="164.0" y1="387.40" x2="1837.0" y2="387.40"/><line x1="164.0" y1="440.80" x2="1837.0" y2="440.80"/><line x1="164.0" y1="494.20" x2="1837.0" y2="494.20"/><line x1="164.0" y1="547.60" x2="1837.0" y2="547.60"/></g>
<line x1="1144.1" y1="601.30" x2="1144.1" y2="67.00" stroke="#1262d2" stroke-width="4" stroke-dasharray="16.2 15.3"/>
<g stroke="#fff" stroke-width="3" stroke-dasharray="3 8.022" fill="none" shape-rendering="crispEdges"><line x1="164.00" y1="769.00" x2="164.00" y2="1301.00"/><line x1="233.67" y1="769.00" x2="233.67" y2="1301.00"/><line x1="303.33" y1="769.00" x2="303.33" y2="1301.00"/><line x1="373.00" y1="769.00" x2="373.00" y2="1301.00"/><line x1="442.67" y1="769.00" x2="442.67" y2="1301.00"/><line x1="512.33" y1="769.00" x2="512.33" y2="1301.00"/><line x1="582.00" y1="769.00" x2="582.00" y2="1301.00"/><line x1="651.67" y1="769.00" x2="651.67" y2="1301.00"/><line x1="721.33" y1="769.00" x2="721.33" y2="1301.00"/><line x1="791.00" y1="769.00" x2="791.00" y2="1301.00"/><line x1="860.67" y1="769.00" x2="860.67" y2="1301.00"/><line x1="930.33" y1="769.00" x2="930.33" y2="1301.00"/><line x1="1000.00" y1="769.00" x2="1000.00" y2="1301.00"/><line x1="1069.67" y1="769.00" x2="1069.67" y2="1301.00"/><line x1="1139.33" y1="769.00" x2="1139.33" y2="1301.00"/><line x1="1209.00" y1="769.00" x2="1209.00" y2="1301.00"/><line x1="1278.67" y1="769.00" x2="1278.67" y2="1301.00"/><line x1="1348.33" y1="769.00" x2="1348.33" y2="1301.00"/><line x1="1418.00" y1="769.00" x2="1418.00" y2="1301.00"/><line x1="1487.67" y1="769.00" x2="1487.67" y2="1301.00"/><line x1="1557.33" y1="769.00" x2="1557.33" y2="1301.00"/><line x1="1627.00" y1="769.00" x2="1627.00" y2="1301.00"/><line x1="1696.67" y1="769.00" x2="1696.67" y2="1301.00"/><line x1="1766.33" y1="769.00" x2="1766.33" y2="1301.00"/><line x1="1836.00" y1="769.00" x2="1836.00" y2="1301.00"/><line x1="164.0" y1="820.40" x2="1837.0" y2="820.40"/><line x1="164.0" y1="873.80" x2="1837.0" y2="873.80"/><line x1="164.0" y1="927.20" x2="1837.0" y2="927.20"/><line x1="164.0" y1="980.60" x2="1837.0" y2="980.60"/><line x1="164.0" y1="1034.00" x2="1837.0" y2="1034.00"/><line x1="164.0" y1="1087.40" x2="1837.0" y2="1087.40"/><line x1="164.0" y1="1140.80" x2="1837.0" y2="1140.80"/><line x1="164.0" y1="1194.20" x2="1837.0" y2="1194.20"/><line x1="164.0" y1="1247.60" x2="1837.0" y2="1247.60"/></g>
<line x1="1144.1" y1="1301.30" x2="1144.1" y2="767.00" stroke="#1262d2" stroke-width="4" stroke-dasharray="16.2 15.3"/>
<g stroke="#111" stroke-width="1.1" fill="none"><line x1="138.5" y1="67.00" x2="164" y2="67.00"/><line x1="151.5" y1="77.68" x2="164" y2="77.68"/><line x1="151.5" y1="88.36" x2="164" y2="88.36"/><line x1="151.5" y1="99.04" x2="164" y2="99.04"/><line x1="151.5" y1="109.72" x2="164" y2="109.72"/><line x1="151.5" y1="120.40" x2="164" y2="120.40"/><line x1="151.5" y1="131.08" x2="164" y2="131.08"/><line x1="151.5" y1="141.76" x2="164" y2="141.76"/><line x1="151.5" y1="152.44" x2="164" y2="152.44"/><line x1="151.5" y1="163.12" x2="164" y2="163.12"/><line x1="138.5" y1="173.80" x2="164" y2="173.80"/><line x1="151.5" y1="184.48" x2="164" y2="184.48"/><line x1="151.5" y1="195.16" x2="164" y2="195.16"/><line x1="151.5" y1="205.84" x2="164" y2="205.84"/><line x1="151.5" y1="216.52" x2="164" y2="216.52"/><line x1="151.5" y1="227.20" x2="164" y2="227.20"/><line x1="151.5" y1="237.88" x2="164" y2="237.88"/><line x1="151.5" y1="248.56" x2="164" y2="248.56"/><line x1="151.5" y1="259.24" x2="164" y2="259.24"/><line x1="151.5" y1="269.92" x2="164" y2="269.92"/><line x1="138.5" y1="280.60" x2="164" y2="280.60"/><line x1="151.5" y1="291.28" x2="164" y2="291.28"/><line x1="151.5" y1="301.96" x2="164" y2="301.96"/><line x1="151.5" y1="312.64" x2="164" y2="312.64"/><line x1="151.5" y1="323.32" x2="164" y2="323.32"/><line x1="151.5" y1="334.00" x2="164" y2="334.00"/><line x1="151.5" y1="344.68" x2="164" y2="344.68"/><line x1="151.5" y1="355.36" x2="164" y2="355.36"/><line x1="151.5" y1="366.04" x2="164" y2="366.04"/><line x1="151.5" y1="376.72" x2="164" y2="376.72"/><line x1="138.5" y1="387.40" x2="164" y2="387.40"/><line x1="151.5" y1="398.08" x2="164" y2="398.08"/><line x1="151.5" y1="408.76" x2="164" y2="408.76"/><line x1="151.5" y1="419.44" x2="164" y2="419.44"/><line x1="151.5" y1="430.12" x2="164" y2="430.12"/><line x1="151.5" y1="440.80" x2="164" y2="440.80"/><line x1="151.5" y1="451.48" x2="164" y2="451.48"/><line x1="151.5" y1="462.16" x2="164" y2="462.16"/><line x1="151.5" y1="472.84" x2="164" y2="472.84"/><line x1="151.5" y1="483.52" x2="164" y2="483.52"/><line x1="138.5" y1="494.20" x2="164" y2="494.20"/><line x1="151.5" y1="504.88" x2="164" y2="504.88"/><line x1="151.5" y1="515.56" x2="164" y2="515.56"/><line x1="151.5" y1="526.24" x2="164" y2="526.24"/><line x1="151.5" y1="536.92" x2="164" y2="536.92"/><line x1="151.5" y1="547.60" x2="164" y2="547.60"/><line x1="151.5" y1="558.28" x2="164" y2="558.28"/><line x1="151.5" y1="568.96" x2="164" y2="568.96"/><line x1="151.5" y1="579.64" x2="164" y2="579.64"/><line x1="151.5" y1="590.32" x2="164" y2="590.32"/><line x1="138.5" y1="601.00" x2="164" y2="601.00"/><line x1="164.00" y1="601.00" x2="164.00" y2="609.50"/><line x1="233.67" y1="601.00" x2="233.67" y2="605.50"/><line x1="303.33" y1="601.00" x2="303.33" y2="605.50"/><line x1="373.00" y1="601.00" x2="373.00" y2="605.50"/><line x1="442.67" y1="601.00" x2="442.67" y2="605.50"/><line x1="512.33" y1="601.00" x2="512.33" y2="605.50"/><line x1="582.00" y1="601.00" x2="582.00" y2="609.50"/><line x1="651.67" y1="601.00" x2="651.67" y2="605.50"/><line x1="721.33" y1="601.00" x2="721.33" y2="605.50"/><line x1="791.00" y1="601.00" x2="791.00" y2="605.50"/><line x1="860.67" y1="601.00" x2="860.67" y2="605.50"/><line x1="930.33" y1="601.00" x2="930.33" y2="605.50"/><line x1="1000.00" y1="601.00" x2="1000.00" y2="609.50"/><line x1="1069.67" y1="601.00" x2="1069.67" y2="605.50"/><line x1="1139.33" y1="601.00" x2="1139.33" y2="605.50"/><line x1="1209.00" y1="601.00" x2="1209.00" y2="605.50"/><line x1="1278.67" y1="601.00" x2="1278.67" y2="605.50"/><line x1="1348.33" y1="601.00" x2="1348.33" y2="605.50"/><line x1="1418.00" y1="601.00" x2="1418.00" y2="609.50"/><line x1="1487.67" y1="601.00" x2="1487.67" y2="605.50"/><line x1="1557.33" y1="601.00" x2="1557.33" y2="605.50"/><line x1="1627.00" y1="601.00" x2="1627.00" y2="605.50"/><line x1="1696.67" y1="601.00" x2="1696.67" y2="605.50"/><line x1="1766.33" y1="601.00" x2="1766.33" y2="605.50"/><line x1="1836.00" y1="601.00" x2="1836.00" y2="609.50"/><line x1="164.0" y1="601.0" x2="1836.0" y2="601.0"/></g>
<g font-family="'Liberation Sans', Arial, Helvetica, sans-serif" font-size="37" fill="#000"><text x="129.8" y="89.0" text-anchor="end">90</text><text x="129.8" y="185.8" text-anchor="end">80</text><text x="129.8" y="292.6" text-anchor="end">70</text><text x="129.8" y="399.4" text-anchor="end">60</text><text x="129.8" y="506.2" text-anchor="end">50</text><text x="129.8" y="601.0" text-anchor="end">40</text><text x="164.0" y="654.6" text-anchor="middle">0</text><text x="582.0" y="654.6" text-anchor="middle">90</text><text x="1000.0" y="654.6" text-anchor="middle">180</text><text x="1418.0" y="654.6" text-anchor="middle">270</text><text x="1836.0" y="654.6" text-anchor="middle">360</text><text x="1000" y="695.0" text-anchor="middle" font-size="37">SIII Longitude (<tspan font-size="16" dy="-15.5">o</tspan><tspan dy="15.5">)</tspan></text></g>
<text x="1000" y="51.2" text-anchor="middle" font-family="'Liberation Sans', Arial, Helvetica, sans-serif" font-size="42" fill="#000">Northern hemisphere</text>
<g stroke="#111" stroke-width="1.1" fill="none"><line x1="138.5" y1="767.00" x2="164" y2="767.00"/><line x1="151.5" y1="777.68" x2="164" y2="777.68"/><line x1="151.5" y1="788.36" x2="164" y2="788.36"/><line x1="151.5" y1="799.04" x2="164" y2="799.04"/><line x1="151.5" y1="809.72" x2="164" y2="809.72"/><line x1="151.5" y1="820.40" x2="164" y2="820.40"/><line x1="151.5" y1="831.08" x2="164" y2="831.08"/><line x1="151.5" y1="841.76" x2="164" y2="841.76"/><line x1="151.5" y1="852.44" x2="164" y2="852.44"/><line x1="151.5" y1="863.12" x2="164" y2="863.12"/><line x1="138.5" y1="873.80" x2="164" y2="873.80"/><line x1="151.5" y1="884.48" x2="164" y2="884.48"/><line x1="151.5" y1="895.16" x2="164" y2="895.16"/><line x1="151.5" y1="905.84" x2="164" y2="905.84"/><line x1="151.5" y1="916.52" x2="164" y2="916.52"/><line x1="151.5" y1="927.20" x2="164" y2="927.20"/><line x1="151.5" y1="937.88" x2="164" y2="937.88"/><line x1="151.5" y1="948.56" x2="164" y2="948.56"/><line x1="151.5" y1="959.24" x2="164" y2="959.24"/><line x1="151.5" y1="969.92" x2="164" y2="969.92"/><line x1="138.5" y1="980.60" x2="164" y2="980.60"/><line x1="151.5" y1="991.28" x2="164" y2="991.28"/><line x1="151.5" y1="1001.96" x2="164" y2="1001.96"/><line x1="151.5" y1="1012.64" x2="164" y2="1012.64"/><line x1="151.5" y1="1023.32" x2="164" y2="1023.32"/><line x1="151.5" y1="1034.00" x2="164" y2="1034.00"/><line x1="151.5" y1="1044.68" x2="164" y2="1044.68"/><line x1="151.5" y1="1055.36" x2="164" y2="1055.36"/><line x1="151.5" y1="1066.04" x2="164" y2="1066.04"/><line x1="151.5" y1="1076.72" x2="164" y2="1076.72"/><line x1="138.5" y1="1087.40" x2="164" y2="1087.40"/><line x1="151.5" y1="1098.08" x2="164" y2="1098.08"/><line x1="151.5" y1="1108.76" x2="164" y2="1108.76"/><line x1="151.5" y1="1119.44" x2="164" y2="1119.44"/><line x1="151.5" y1="1130.12" x2="164" y2="1130.12"/><line x1="151.5" y1="1140.80" x2="164" y2="1140.80"/><line x1="151.5" y1="1151.48" x2="164" y2="1151.48"/><line x1="151.5" y1="1162.16" x2="164" y2="1162.16"/><line x1="151.5" y1="1172.84" x2="164" y2="1172.84"/><line x1="151.5" y1="1183.52" x2="164" y2="1183.52"/><line x1="138.5" y1="1194.20" x2="164" y2="1194.20"/><line x1="151.5" y1="1204.88" x2="164" y2="1204.88"/><line x1="151.5" y1="1215.56" x2="164" y2="1215.56"/><line x1="151.5" y1="1226.24" x2="164" y2="1226.24"/><line x1="151.5" y1="1236.92" x2="164" y2="1236.92"/><line x1="151.5" y1="1247.60" x2="164" y2="1247.60"/><line x1="151.5" y1="1258.28" x2="164" y2="1258.28"/><line x1="151.5" y1="1268.96" x2="164" y2="1268.96"/><line x1="151.5" y1="1279.64" x2="164" y2="1279.64"/><line x1="151.5" y1="1290.32" x2="164" y2="1290.32"/><line x1="138.5" y1="1301.00" x2="164" y2="1301.00"/><line x1="164.00" y1="1301.00" x2="164.00" y2="1309.50"/><line x1="233.67" y1="1301.00" x2="233.67" y2="1305.50"/><line x1="303.33" y1="1301.00" x2="303.33" y2="1305.50"/><line x1="373.00" y1="1301.00" x2="373.00" y2="1305.50"/><line x1="442.67" y1="1301.00" x2="442.67" y2="1305.50"/><line x1="512.33" y1="1301.00" x2="512.33" y2="1305.50"/><line x1="582.00" y1="1301.00" x2="582.00" y2="1309.50"/><line x1="651.67" y1="1301.00" x2="651.67" y2="1305.50"/><line x1="721.33" y1="1301.00" x2="721.33" y2="1305.50"/><line x1="791.00" y1="1301.00" x2="791.00" y2="1305.50"/><line x1="860.67" y1="1301.00" x2="860.67" y2="1305.50"/><line x1="930.33" y1="1301.00" x2="930.33" y2="1305.50"/><line x1="1000.00" y1="1301.00" x2="1000.00" y2="1309.50"/><line x1="1069.67" y1="1301.00" x2="1069.67" y2="1305.50"/><line x1="1139.33" y1="1301.00" x2="1139.33" y2="1305.50"/><line x1="1209.00" y1="1301.00" x2="1209.00" y2="1305.50"/><line x1="1278.67" y1="1301.00" x2="1278.67" y2="1305.50"/><line x1="1348.33" y1="1301.00" x2="1348.33" y2="1305.50"/><line x1="1418.00" y1="1301.00" x2="1418.00" y2="1309.50"/><line x1="1487.67" y1="1301.00" x2="1487.67" y2="1305.50"/><line x1="1557.33" y1="1301.00" x2="1557.33" y2="1305.50"/><line x1="1627.00" y1="1301.00" x2="1627.00" y2="1305.50"/><line x1="1696.67" y1="1301.00" x2="1696.67" y2="1305.50"/><line x1="1766.33" y1="1301.00" x2="1766.33" y2="1305.50"/><line x1="1836.00" y1="1301.00" x2="1836.00" y2="1309.50"/><line x1="164.0" y1="1301.0" x2="1836.0" y2="1301.0"/></g>
<g font-family="'Liberation Sans', Arial, Helvetica, sans-serif" font-size="37" fill="#000"><text x="129.8" y="789.0" text-anchor="end">-40</text><text x="129.8" y="885.8" text-anchor="end">-50</text><text x="129.8" y="992.6" text-anchor="end">-60</text><text x="129.8" y="1099.4" text-anchor="end">-70</text><text x="129.8" y="1206.2" text-anchor="end">-80</text><text x="129.8" y="1301.0" text-anchor="end">-90</text><text x="164.0" y="1354.6" text-anchor="middle">0</text><text x="582.0" y="1354.6" text-anchor="middle">90</text><text x="1000.0" y="1354.6" text-anchor="middle">180</text><text x="1418.0" y="1354.6" text-anchor="middle">270</text><text x="1836.0" y="1354.6" text-anchor="middle">360</text><text x="1000" y="1395.0" text-anchor="middle" font-size="37">SIII Longitude (<tspan font-size="16" dy="-15.5">o</tspan><tspan dy="15.5">)</tspan></text></g>
<text x="1000" y="751.2" text-anchor="middle" font-family="'Liberation Sans', Arial, Helvetica, sans-serif" font-size="42" fill="#000">Southern hemisphere</text>
<text transform="translate(59.8,334) rotate(-90)" text-anchor="middle" font-family="'Liberation Sans', Arial, Helvetica, sans-serif" font-size="37" fill="#000">Latitude (<tspan font-size="16" dy="-15.5">o</tspan><tspan dy="15.5">)</tspan></text>
<text transform="translate(47.2,1034) rotate(-90)" text-anchor="middle" font-family="'Liberation Sans', Arial, Helvetica, sans-serif" font-size="37" fill="#000">Latitude (<tspan font-size="16" dy="-15.5">o</tspan><tspan dy="15.5">)</tspan></text>
<rect x="1851" y="1090.5" width="38" height="209.5" fill="url(#cb)" stroke="#000" stroke-width="2.2"/>
<g font-family="'Liberation Sans', Arial, Helvetica, sans-serif" font-size="29.6" fill="#000"><text x="1898" y="1112.2">1000</text><text x="1898" y="1178.2">100</text><text x="1898" y="1244.3">10</text><text x="1898" y="1300.3">1</text></g>
<g stroke="#000" stroke-width="1"><line x1="1852" y1="1101.5" x2="1856" y2="1101.5"/><line x1="1884" y1="1101.5" x2="1888" y2="1101.5"/><line x1="1852" y1="1167.5" x2="1856" y2="1167.5"/><line x1="1884" y1="1167.5" x2="1888" y2="1167.5"/><line x1="1852" y1="1234" x2="1856" y2="1234"/><line x1="1884" y1="1234" x2="1888" y2="1234"/><line x1="1852" y1="1300" x2="1856" y2="1300"/><line x1="1884" y1="1300" x2="1888" y2="1300"/></g>
</svg>
</body></html>
